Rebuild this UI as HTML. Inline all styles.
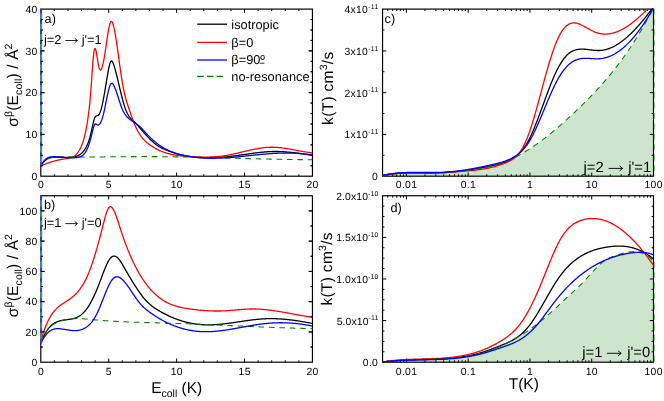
<!DOCTYPE html>
<html lang="en"><head><meta charset="utf-8"><title>Cross sections and rate coefficients</title>
<style>html,body{margin:0;padding:0;background:#fff;overflow:hidden}body{width:664px;height:401px;font-family:"Liberation Sans", sans-serif}svg{display:block}</style></head>
<body>
<svg width="664" height="401" viewBox="0 0 664 401" style="display:block" font-family="'Liberation Sans', sans-serif" text-rendering="geometricPrecision">
<rect width="664" height="401" fill="#fff"/>
<g id="all" opacity="0.999">
<defs>
<clipPath id="cpa"><rect x="40.0" y="8.5" width="273.65" height="168.29999999999998"/></clipPath>
<clipPath id="cpb"><rect x="40.0" y="195.15" width="273.65" height="167.64999999999998"/></clipPath>
<clipPath id="cpc"><rect x="381.75" y="8.5" width="272.95" height="168.29999999999998"/></clipPath>
<clipPath id="cpd"><rect x="381.75" y="195.15" width="272.95" height="167.64999999999998"/></clipPath>
</defs>
<rect x="40.8" y="9.1" width="271.65" height="167.1" fill="none" stroke="#000" stroke-width="1.2"/>
<path d="M108.71 176.2v-3.7M108.71 9.1v3.7M176.62 176.2v-3.7M176.62 9.1v3.7M244.54 176.2v-3.7M244.54 9.1v3.7M54.38 176.2v-1.9M54.38 9.1v1.9M67.97 176.2v-1.9M67.97 9.1v1.9M81.55 176.2v-1.9M81.55 9.1v1.9M95.13 176.2v-1.9M95.13 9.1v1.9M122.30 176.2v-1.9M122.30 9.1v1.9M135.88 176.2v-1.9M135.88 9.1v1.9M149.46 176.2v-1.9M149.46 9.1v1.9M163.04 176.2v-1.9M163.04 9.1v1.9M190.21 176.2v-1.9M190.21 9.1v1.9M203.79 176.2v-1.9M203.79 9.1v1.9M217.37 176.2v-1.9M217.37 9.1v1.9M230.95 176.2v-1.9M230.95 9.1v1.9M258.12 176.2v-1.9M258.12 9.1v1.9M271.70 176.2v-1.9M271.70 9.1v1.9M285.28 176.2v-1.9M285.28 9.1v1.9M298.87 176.2v-1.9M298.87 9.1v1.9M40.8 134.42h3.7M312.45 134.42h-3.7M40.8 92.65h3.7M312.45 92.65h-3.7M40.8 50.87h3.7M312.45 50.87h-3.7M40.8 165.76h1.9M312.45 165.76h-1.9M40.8 155.31h1.9M312.45 155.31h-1.9M40.8 144.87h1.9M312.45 144.87h-1.9M40.8 123.98h1.9M312.45 123.98h-1.9M40.8 113.54h1.9M312.45 113.54h-1.9M40.8 103.09h1.9M312.45 103.09h-1.9M40.8 82.21h1.9M312.45 82.21h-1.9M40.8 71.76h1.9M312.45 71.76h-1.9M40.8 61.32h1.9M312.45 61.32h-1.9M40.8 40.43h1.9M312.45 40.43h-1.9M40.8 29.99h1.9M312.45 29.99h-1.9M40.8 19.54h1.9M312.45 19.54h-1.9" stroke="#000" stroke-width="1.0" fill="none"/>
<g clip-path="url(#cpa)">
<path d="M40.80 165.99L41.30 165.18L41.80 164.42L42.30 163.71L42.80 163.05L43.30 162.43L43.80 161.86L44.30 161.33L44.80 160.84L45.30 160.39L45.80 159.98L46.30 159.60L46.80 159.26L47.30 158.95L47.80 158.67L48.30 158.43L48.80 158.21L49.30 158.01L49.80 157.84L50.30 157.70L50.80 157.57L51.30 157.47L51.80 157.38L52.30 157.31L52.80 157.26L53.30 157.22L53.80 157.19L54.30 157.17L54.80 157.16L55.30 157.16L55.80 157.16L56.30 157.16L56.80 157.17L57.30 157.18L57.80 157.20L58.30 157.21L58.80 157.23L59.30 157.25L59.80 157.27L60.30 157.30L60.80 157.32L61.30 157.34L61.80 157.37L62.30 157.39L62.80 157.41L63.30 157.43L63.80 157.45L64.30 157.46L64.80 157.48L65.30 157.49L65.80 157.50L66.30 157.50L66.80 157.50L67.30 157.50L67.80 157.49L68.30 157.48L68.80 157.46L69.30 157.43L69.80 157.40L70.30 157.36L70.80 157.32L71.30 157.27L71.80 157.21L72.30 157.14L72.80 157.07L73.30 156.98L73.80 156.89L74.30 156.79L74.80 156.68L75.30 156.55L75.80 156.42L76.30 156.26L76.80 156.09L77.30 155.91L77.80 155.69L78.30 155.46L78.80 155.20L79.30 154.91L79.80 154.60L80.30 154.25L80.80 153.86L81.30 153.45L81.80 152.99L82.30 152.49L82.80 151.95L83.30 151.37L83.80 150.74L84.30 150.06L84.80 149.33L85.30 148.55L85.80 147.71L86.30 146.80L86.80 145.81L87.30 144.73L87.80 143.55L88.30 142.26L88.80 140.85L89.30 139.31L89.80 137.63L90.30 135.80L90.80 133.80L91.30 131.64L91.80 129.36L92.30 127.03L92.80 124.74L93.30 122.58L93.80 120.63L94.30 118.97L94.80 117.69L95.30 116.82L95.80 116.28L96.30 115.98L96.80 115.83L97.30 115.73L97.80 115.59L98.30 115.32L98.80 114.82L99.30 114.07L99.80 113.07L100.30 111.83L100.80 110.35L101.30 108.64L101.80 106.71L102.30 104.57L102.80 102.23L103.30 99.71L103.80 97.04L104.30 94.24L104.80 91.35L105.30 88.39L105.80 85.39L106.30 82.38L106.80 79.38L107.30 76.41L107.80 73.52L108.30 70.73L108.80 68.13L109.30 65.80L109.80 63.85L110.30 62.36L110.80 61.41L111.30 61.00L111.80 61.05L112.30 61.52L112.80 62.35L113.30 63.48L113.80 64.86L114.30 66.42L114.80 68.13L115.30 69.92L115.80 71.78L116.30 73.72L116.80 75.71L117.30 77.74L117.80 79.82L118.30 81.92L118.80 84.03L119.30 86.16L119.80 88.28L120.30 90.38L120.80 92.47L121.30 94.52L121.80 96.53L122.30 98.48L122.80 100.38L123.30 102.20L123.80 103.93L124.30 105.58L124.80 107.12L125.30 108.56L125.80 109.88L126.30 111.09L126.80 112.21L127.30 113.23L127.80 114.17L128.30 115.04L128.80 115.83L129.30 116.56L129.80 117.23L130.30 117.86L130.80 118.44L131.30 118.98L131.80 119.50L132.30 119.99L132.80 120.47L133.30 120.94L133.80 121.41L134.30 121.88L134.80 122.37L135.30 122.87L135.80 123.39L136.30 123.92L136.80 124.46L137.30 125.01L137.80 125.57L138.30 126.13L138.80 126.70L139.30 127.27L139.80 127.84L140.30 128.41L140.80 128.99L141.30 129.56L141.80 130.13L142.30 130.71L142.80 131.28L143.30 131.85L143.80 132.42L144.30 132.98L144.80 133.54L145.30 134.10L145.80 134.66L146.30 135.21L146.80 135.76L147.30 136.30L147.80 136.84L148.30 137.37L148.80 137.90L149.30 138.42L149.80 138.93L150.30 139.43L150.80 139.93L151.30 140.41L151.80 140.89L152.30 141.36L152.80 141.82L153.30 142.27L153.80 142.71L154.30 143.14L154.80 143.55L155.30 143.96L155.80 144.35L156.30 144.73L156.80 145.09L157.30 145.44L157.80 145.78L158.30 146.11L158.80 146.42L159.30 146.73L159.80 147.02L160.30 147.30L160.80 147.57L161.30 147.83L161.80 148.08L162.30 148.33L162.80 148.56L163.30 148.80L163.80 149.02L164.30 149.24L164.80 149.45L165.30 149.66L165.80 149.87L166.30 150.07L166.80 150.27L167.30 150.47L167.80 150.66L168.30 150.85L168.80 151.04L169.30 151.22L169.80 151.40L170.30 151.58L170.80 151.76L171.30 151.93L171.80 152.10L172.30 152.27L172.80 152.43L173.30 152.59L173.80 152.75L174.30 152.91L174.80 153.06L175.30 153.21L175.80 153.36L176.30 153.50L176.80 153.64L177.30 153.78L177.80 153.92L178.30 154.05L178.80 154.18L179.30 154.31L179.80 154.44L180.30 154.56L180.80 154.68L181.30 154.80L181.80 154.92L182.30 155.03L182.80 155.14L183.30 155.25L183.80 155.35L184.30 155.46L184.80 155.56L185.30 155.65L185.80 155.75L186.30 155.84L186.80 155.93L187.30 156.02L187.80 156.11L188.30 156.19L188.80 156.27L189.30 156.35L189.80 156.43L190.30 156.50L190.80 156.57L191.30 156.64L191.80 156.71L192.30 156.78L192.80 156.84L193.30 156.90L193.80 156.96L194.30 157.01L194.80 157.07L195.30 157.12L195.80 157.17L196.30 157.22L196.80 157.27L197.30 157.31L197.80 157.35L198.30 157.39L198.80 157.43L199.30 157.46L199.80 157.50L200.30 157.53L200.80 157.56L201.30 157.59L201.80 157.61L202.30 157.64L202.80 157.66L203.30 157.68L203.80 157.70L204.30 157.72L204.80 157.73L205.30 157.74L205.80 157.75L206.30 157.76L206.80 157.77L207.30 157.78L207.80 157.78L208.30 157.78L208.80 157.78L209.30 157.78L209.80 157.78L210.30 157.78L210.80 157.77L211.30 157.76L211.80 157.75L212.30 157.74L212.80 157.73L213.30 157.72L213.80 157.70L214.30 157.68L214.80 157.67L215.30 157.65L215.80 157.62L216.30 157.60L216.80 157.58L217.30 157.55L217.80 157.52L218.30 157.50L218.80 157.47L219.30 157.43L219.80 157.40L220.30 157.37L220.80 157.33L221.30 157.30L221.80 157.26L222.30 157.22L222.80 157.18L223.30 157.14L223.80 157.09L224.30 157.05L224.80 157.01L225.30 156.96L225.80 156.91L226.30 156.86L226.80 156.81L227.30 156.76L227.80 156.71L228.30 156.66L228.80 156.60L229.30 156.55L229.80 156.49L230.30 156.44L230.80 156.38L231.30 156.32L231.80 156.26L232.30 156.20L232.80 156.14L233.30 156.07L233.80 156.01L234.30 155.94L234.80 155.88L235.30 155.81L235.80 155.75L236.30 155.68L236.80 155.61L237.30 155.54L237.80 155.47L238.30 155.40L238.80 155.33L239.30 155.26L239.80 155.19L240.30 155.12L240.80 155.04L241.30 154.97L241.80 154.90L242.30 154.82L242.80 154.75L243.30 154.68L243.80 154.60L244.30 154.53L244.80 154.46L245.30 154.38L245.80 154.31L246.30 154.24L246.80 154.16L247.30 154.09L247.80 154.02L248.30 153.94L248.80 153.87L249.30 153.80L249.80 153.73L250.30 153.66L250.80 153.59L251.30 153.52L251.80 153.45L252.30 153.38L252.80 153.31L253.30 153.24L253.80 153.17L254.30 153.11L254.80 153.04L255.30 152.97L255.80 152.91L256.30 152.85L256.80 152.78L257.30 152.72L257.80 152.66L258.30 152.60L258.80 152.54L259.30 152.49L259.80 152.43L260.30 152.38L260.80 152.32L261.30 152.27L261.80 152.22L262.30 152.17L262.80 152.12L263.30 152.07L263.80 152.03L264.30 151.98L264.80 151.94L265.30 151.90L265.80 151.86L266.30 151.83L266.80 151.79L267.30 151.76L267.80 151.72L268.30 151.69L268.80 151.66L269.30 151.64L269.80 151.61L270.30 151.59L270.80 151.57L271.30 151.55L271.80 151.54L272.30 151.52L272.80 151.51L273.30 151.50L273.80 151.49L274.30 151.49L274.80 151.48L275.30 151.48L275.80 151.48L276.30 151.49L276.80 151.49L277.30 151.50L277.80 151.51L278.30 151.52L278.80 151.54L279.30 151.55L279.80 151.57L280.30 151.59L280.80 151.61L281.30 151.63L281.80 151.66L282.30 151.69L282.80 151.71L283.30 151.74L283.80 151.77L284.30 151.81L284.80 151.84L285.30 151.88L285.80 151.92L286.30 151.95L286.80 151.99L287.30 152.04L287.80 152.08L288.30 152.12L288.80 152.17L289.30 152.22L289.80 152.26L290.30 152.31L290.80 152.36L291.30 152.41L291.80 152.46L292.30 152.52L292.80 152.57L293.30 152.63L293.80 152.68L294.30 152.74L294.80 152.79L295.30 152.85L295.80 152.91L296.30 152.97L296.80 153.03L297.30 153.09L297.80 153.15L298.30 153.21L298.80 153.27L299.30 153.34L299.80 153.40L300.30 153.46L300.80 153.52L301.30 153.59L301.80 153.65L302.30 153.72L302.80 153.78L303.30 153.84L303.80 153.91L304.30 153.97L304.80 154.04L305.30 154.10L305.80 154.17L306.30 154.23L306.80 154.30L307.30 154.36L307.80 154.42L308.30 154.49L308.80 154.55L309.30 154.61L309.80 154.68L310.30 154.74L310.80 154.80L311.30 154.86L311.80 154.92L312.30 154.98L312.45 155.00" fill="none" stroke="#000" stroke-width="1.3" stroke-linejoin="round"/>
<path d="M40.80 166.20L41.30 165.93L41.80 165.68L42.30 165.43L42.80 165.18L43.30 164.94L43.80 164.71L44.30 164.49L44.80 164.27L45.30 164.05L45.80 163.84L46.30 163.64L46.80 163.44L47.30 163.25L47.80 163.06L48.30 162.87L48.80 162.70L49.30 162.52L49.80 162.35L50.30 162.19L50.80 162.03L51.30 161.87L51.80 161.72L52.30 161.57L52.80 161.42L53.30 161.28L53.80 161.15L54.30 161.01L54.80 160.88L55.30 160.76L55.80 160.63L56.30 160.51L56.80 160.39L57.30 160.28L57.80 160.17L58.30 160.06L58.80 159.95L59.30 159.84L59.80 159.74L60.30 159.64L60.80 159.54L61.30 159.44L61.80 159.35L62.30 159.26L62.80 159.16L63.30 159.07L63.80 158.98L64.30 158.90L64.80 158.81L65.30 158.72L65.80 158.64L66.30 158.55L66.80 158.47L67.30 158.39L67.80 158.30L68.30 158.21L68.80 158.12L69.30 158.01L69.80 157.90L70.30 157.77L70.80 157.62L71.30 157.45L71.80 157.27L72.30 157.06L72.80 156.82L73.30 156.55L73.80 156.26L74.30 155.92L74.80 155.56L75.30 155.15L75.80 154.70L76.30 154.21L76.80 153.67L77.30 153.09L77.80 152.45L78.30 151.76L78.80 151.01L79.30 150.20L79.80 149.34L80.30 148.41L80.80 147.40L81.30 146.31L81.80 145.13L82.30 143.84L82.80 142.43L83.30 140.88L83.80 139.20L84.30 137.35L84.80 135.34L85.30 133.15L85.80 130.76L86.30 128.17L86.80 125.37L87.30 122.33L87.80 119.06L88.30 115.53L88.80 111.74L89.30 107.58L89.80 102.90L90.30 97.56L90.80 91.40L91.30 84.51L91.80 77.28L92.30 70.10L92.80 63.39L93.30 57.53L93.80 52.92L94.30 49.93L94.80 48.60L95.30 48.69L95.80 49.97L96.30 52.19L96.80 55.04L97.30 58.22L97.80 61.42L98.30 64.32L98.80 66.66L99.30 68.39L99.80 69.50L100.30 70.01L100.80 69.96L101.30 69.38L101.80 68.33L102.30 66.84L102.80 64.95L103.30 62.71L103.80 60.15L104.30 57.32L104.80 54.27L105.30 51.02L105.80 47.65L106.30 44.20L106.80 40.76L107.30 37.39L107.80 34.17L108.30 31.15L108.80 28.42L109.30 26.03L109.80 24.07L110.30 22.59L110.80 21.66L111.30 21.32L111.80 21.51L112.30 22.21L112.80 23.36L113.30 24.93L113.80 26.87L114.30 29.15L114.80 31.72L115.30 34.54L115.80 37.57L116.30 40.77L116.80 44.12L117.30 47.59L117.80 51.15L118.30 54.76L118.80 58.41L119.30 62.05L119.80 65.67L120.30 69.23L120.80 72.71L121.30 76.07L121.80 79.29L122.30 82.33L122.80 85.17L123.30 87.82L123.80 90.29L124.30 92.59L124.80 94.74L125.30 96.75L125.80 98.64L126.30 100.43L126.80 102.12L127.30 103.73L127.80 105.29L128.30 106.79L128.80 108.27L129.30 109.72L129.80 111.18L130.30 112.62L130.80 114.06L131.30 115.48L131.80 116.88L132.30 118.27L132.80 119.62L133.30 120.96L133.80 122.25L134.30 123.52L134.80 124.74L135.30 125.93L135.80 127.06L136.30 128.15L136.80 129.18L137.30 130.18L137.80 131.12L138.30 132.02L138.80 132.89L139.30 133.71L139.80 134.49L140.30 135.24L140.80 135.95L141.30 136.63L141.80 137.27L142.30 137.89L142.80 138.48L143.30 139.05L143.80 139.58L144.30 140.10L144.80 140.60L145.30 141.07L145.80 141.53L146.30 141.97L146.80 142.40L147.30 142.81L147.80 143.22L148.30 143.61L148.80 144.00L149.30 144.38L149.80 144.75L150.30 145.11L150.80 145.47L151.30 145.81L151.80 146.15L152.30 146.48L152.80 146.80L153.30 147.12L153.80 147.43L154.30 147.73L154.80 148.02L155.30 148.31L155.80 148.59L156.30 148.86L156.80 149.13L157.30 149.39L157.80 149.64L158.30 149.88L158.80 150.12L159.30 150.36L159.80 150.58L160.30 150.80L160.80 151.02L161.30 151.23L161.80 151.43L162.30 151.63L162.80 151.82L163.30 152.00L163.80 152.18L164.30 152.36L164.80 152.53L165.30 152.69L165.80 152.85L166.30 153.01L166.80 153.16L167.30 153.30L167.80 153.44L168.30 153.58L168.80 153.71L169.30 153.84L169.80 153.96L170.30 154.08L170.80 154.19L171.30 154.30L171.80 154.41L172.30 154.51L172.80 154.61L173.30 154.71L173.80 154.80L174.30 154.89L174.80 154.97L175.30 155.06L175.80 155.14L176.30 155.21L176.80 155.29L177.30 155.36L177.80 155.42L178.30 155.49L178.80 155.55L179.30 155.61L179.80 155.67L180.30 155.73L180.80 155.78L181.30 155.83L181.80 155.88L182.30 155.93L182.80 155.98L183.30 156.02L183.80 156.06L184.30 156.11L184.80 156.15L185.30 156.19L185.80 156.22L186.30 156.26L186.80 156.30L187.30 156.33L187.80 156.37L188.30 156.40L188.80 156.43L189.30 156.47L189.80 156.50L190.30 156.53L190.80 156.56L191.30 156.59L191.80 156.62L192.30 156.65L192.80 156.68L193.30 156.71L193.80 156.73L194.30 156.76L194.80 156.79L195.30 156.81L195.80 156.83L196.30 156.86L196.80 156.88L197.30 156.90L197.80 156.92L198.30 156.93L198.80 156.95L199.30 156.97L199.80 156.98L200.30 157.00L200.80 157.01L201.30 157.02L201.80 157.03L202.30 157.04L202.80 157.05L203.30 157.05L203.80 157.06L204.30 157.06L204.80 157.06L205.30 157.07L205.80 157.06L206.30 157.06L206.80 157.06L207.30 157.05L207.80 157.05L208.30 157.04L208.80 157.03L209.30 157.02L209.80 157.00L210.30 156.99L210.80 156.97L211.30 156.95L211.80 156.93L212.30 156.91L212.80 156.88L213.30 156.86L213.80 156.83L214.30 156.80L214.80 156.77L215.30 156.73L215.80 156.70L216.30 156.66L216.80 156.62L217.30 156.58L217.80 156.53L218.30 156.49L218.80 156.44L219.30 156.39L219.80 156.34L220.30 156.28L220.80 156.22L221.30 156.16L221.80 156.10L222.30 156.04L222.80 155.97L223.30 155.90L223.80 155.83L224.30 155.75L224.80 155.68L225.30 155.60L225.80 155.52L226.30 155.43L226.80 155.35L227.30 155.26L227.80 155.17L228.30 155.07L228.80 154.98L229.30 154.88L229.80 154.79L230.30 154.69L230.80 154.59L231.30 154.48L231.80 154.38L232.30 154.27L232.80 154.17L233.30 154.06L233.80 153.95L234.30 153.84L234.80 153.73L235.30 153.61L235.80 153.50L236.30 153.39L236.80 153.27L237.30 153.15L237.80 153.04L238.30 152.92L238.80 152.80L239.30 152.68L239.80 152.56L240.30 152.45L240.80 152.33L241.30 152.21L241.80 152.09L242.30 151.97L242.80 151.85L243.30 151.73L243.80 151.61L244.30 151.49L244.80 151.37L245.30 151.25L245.80 151.13L246.30 151.01L246.80 150.90L247.30 150.78L247.80 150.66L248.30 150.55L248.80 150.43L249.30 150.32L249.80 150.21L250.30 150.09L250.80 149.98L251.30 149.87L251.80 149.77L252.30 149.66L252.80 149.55L253.30 149.45L253.80 149.35L254.30 149.25L254.80 149.15L255.30 149.05L255.80 148.95L256.30 148.86L256.80 148.77L257.30 148.68L257.80 148.59L258.30 148.50L258.80 148.42L259.30 148.34L259.80 148.26L260.30 148.18L260.80 148.11L261.30 148.03L261.80 147.96L262.30 147.90L262.80 147.83L263.30 147.77L263.80 147.71L264.30 147.66L264.80 147.61L265.30 147.56L265.80 147.51L266.30 147.47L266.80 147.43L267.30 147.39L267.80 147.36L268.30 147.33L268.80 147.30L269.30 147.28L269.80 147.26L270.30 147.25L270.80 147.24L271.30 147.23L271.80 147.23L272.30 147.23L272.80 147.23L273.30 147.24L273.80 147.25L274.30 147.27L274.80 147.29L275.30 147.31L275.80 147.34L276.30 147.37L276.80 147.40L277.30 147.44L277.80 147.48L278.30 147.52L278.80 147.56L279.30 147.61L279.80 147.66L280.30 147.72L280.80 147.77L281.30 147.83L281.80 147.89L282.30 147.95L282.80 148.02L283.30 148.09L283.80 148.15L284.30 148.23L284.80 148.30L285.30 148.37L285.80 148.45L286.30 148.53L286.80 148.61L287.30 148.69L287.80 148.77L288.30 148.86L288.80 148.94L289.30 149.03L289.80 149.11L290.30 149.20L290.80 149.29L291.30 149.38L291.80 149.47L292.30 149.56L292.80 149.66L293.30 149.75L293.80 149.84L294.30 149.93L294.80 150.03L295.30 150.12L295.80 150.21L296.30 150.31L296.80 150.40L297.30 150.49L297.80 150.59L298.30 150.68L298.80 150.77L299.30 150.86L299.80 150.95L300.30 151.04L300.80 151.13L301.30 151.22L301.80 151.31L302.30 151.40L302.80 151.48L303.30 151.57L303.80 151.65L304.30 151.73L304.80 151.81L305.30 151.89L305.80 151.97L306.30 152.04L306.80 152.12L307.30 152.19L307.80 152.26L308.30 152.32L308.80 152.39L309.30 152.45L309.80 152.52L310.30 152.57L310.80 152.63L311.30 152.68L311.80 152.74L312.30 152.78L312.45 152.80" fill="none" stroke="#ff0000" stroke-width="1.3" stroke-linejoin="round"/>
<path d="M40.80 165.98L41.30 165.07L41.80 164.25L42.30 163.50L42.80 162.82L43.30 162.20L43.80 161.64L44.30 161.14L44.80 160.70L45.30 160.30L45.80 159.94L46.30 159.63L46.80 159.34L47.30 159.09L47.80 158.87L48.30 158.66L48.80 158.48L49.30 158.30L49.80 158.14L50.30 157.99L50.80 157.85L51.30 157.72L51.80 157.60L52.30 157.48L52.80 157.38L53.30 157.29L53.80 157.20L54.30 157.12L54.80 157.05L55.30 156.99L55.80 156.93L56.30 156.88L56.80 156.84L57.30 156.80L57.80 156.77L58.30 156.75L58.80 156.72L59.30 156.71L59.80 156.69L60.30 156.68L60.80 156.68L61.30 156.68L61.80 156.68L62.30 156.68L62.80 156.69L63.30 156.69L63.80 156.70L64.30 156.71L64.80 156.72L65.30 156.73L65.80 156.75L66.30 156.76L66.80 156.77L67.30 156.78L67.80 156.79L68.30 156.80L68.80 156.81L69.30 156.82L69.80 156.83L70.30 156.84L70.80 156.84L71.30 156.85L71.80 156.86L72.30 156.87L72.80 156.88L73.30 156.88L73.80 156.89L74.30 156.90L74.80 156.90L75.30 156.91L75.80 156.91L76.30 156.92L76.80 156.92L77.30 156.93L77.80 156.93L78.30 156.94L78.80 156.94L79.30 156.94L79.80 156.95L80.30 156.95L80.80 156.95L81.30 156.96L81.80 156.96L82.30 156.96L82.80 156.96L83.30 156.97L83.80 156.97L84.30 156.97L84.80 156.97L85.30 156.97L85.80 156.97L86.30 156.97L86.80 156.97L87.30 156.97L87.80 156.97L88.30 156.97L88.80 156.97L89.30 156.97L89.80 156.97L90.30 156.97L90.80 156.97L91.30 156.97L91.80 156.97L92.30 156.97L92.80 156.97L93.30 156.96L93.80 156.96L94.30 156.96L94.80 156.96L95.30 156.96L95.80 156.95L96.30 156.95L96.80 156.95L97.30 156.95L97.80 156.94L98.30 156.94L98.80 156.94L99.30 156.93L99.80 156.93L100.30 156.93L100.80 156.92L101.30 156.92L101.80 156.91L102.30 156.91L102.80 156.91L103.30 156.90L103.80 156.90L104.30 156.89L104.80 156.89L105.30 156.89L105.80 156.88L106.30 156.88L106.80 156.87L107.30 156.87L107.80 156.86L108.30 156.86L108.80 156.85L109.30 156.85L109.80 156.84L110.30 156.84L110.80 156.83L111.30 156.83L111.80 156.82L112.30 156.82L112.80 156.81L113.30 156.81L113.80 156.80L114.30 156.80L114.80 156.79L115.30 156.79L115.80 156.78L116.30 156.78L116.80 156.77L117.30 156.77L117.80 156.76L118.30 156.76L118.80 156.75L119.30 156.75L119.80 156.74L120.30 156.74L120.80 156.73L121.30 156.73L121.80 156.72L122.30 156.72L122.80 156.71L123.30 156.71L123.80 156.70L124.30 156.70L124.80 156.69L125.30 156.69L125.80 156.68L126.30 156.68L126.80 156.67L127.30 156.67L127.80 156.67L128.30 156.66L128.80 156.66L129.30 156.65L129.80 156.65L130.30 156.65L130.80 156.64L131.30 156.64L131.80 156.63L132.30 156.63L132.80 156.63L133.30 156.62L133.80 156.62L134.30 156.62L134.80 156.62L135.30 156.61L135.80 156.61L136.30 156.61L136.80 156.61L137.30 156.60L137.80 156.60L138.30 156.60L138.80 156.60L139.30 156.60L139.80 156.59L140.30 156.59L140.80 156.59L141.30 156.59L141.80 156.59L142.30 156.59L142.80 156.59L143.30 156.59L143.80 156.59L144.30 156.59L144.80 156.59L145.30 156.59L145.80 156.59L146.30 156.59L146.80 156.59L147.30 156.59L147.80 156.59L148.30 156.59L148.80 156.60L149.30 156.60L149.80 156.60L150.30 156.60L150.80 156.60L151.30 156.60L151.80 156.61L152.30 156.61L152.80 156.61L153.30 156.61L153.80 156.62L154.30 156.62L154.80 156.62L155.30 156.63L155.80 156.63L156.30 156.63L156.80 156.64L157.30 156.64L157.80 156.64L158.30 156.65L158.80 156.65L159.30 156.66L159.80 156.66L160.30 156.66L160.80 156.67L161.30 156.67L161.80 156.68L162.30 156.68L162.80 156.69L163.30 156.69L163.80 156.70L164.30 156.71L164.80 156.71L165.30 156.72L165.80 156.72L166.30 156.73L166.80 156.73L167.30 156.74L167.80 156.75L168.30 156.75L168.80 156.76L169.30 156.77L169.80 156.77L170.30 156.78L170.80 156.79L171.30 156.79L171.80 156.80L172.30 156.81L172.80 156.81L173.30 156.82L173.80 156.83L174.30 156.84L174.80 156.85L175.30 156.85L175.80 156.86L176.30 156.87L176.80 156.88L177.30 156.89L177.80 156.89L178.30 156.90L178.80 156.91L179.30 156.92L179.80 156.93L180.30 156.94L180.80 156.95L181.30 156.95L181.80 156.96L182.30 156.97L182.80 156.98L183.30 156.99L183.80 157.00L184.30 157.01L184.80 157.02L185.30 157.03L185.80 157.04L186.30 157.05L186.80 157.06L187.30 157.07L187.80 157.08L188.30 157.09L188.80 157.10L189.30 157.11L189.80 157.12L190.30 157.13L190.80 157.14L191.30 157.15L191.80 157.16L192.30 157.17L192.80 157.18L193.30 157.19L193.80 157.21L194.30 157.22L194.80 157.23L195.30 157.24L195.80 157.25L196.30 157.26L196.80 157.27L197.30 157.28L197.80 157.29L198.30 157.31L198.80 157.32L199.30 157.33L199.80 157.34L200.30 157.35L200.80 157.36L201.30 157.38L201.80 157.39L202.30 157.40L202.80 157.41L203.30 157.42L203.80 157.44L204.30 157.45L204.80 157.46L205.30 157.47L205.80 157.48L206.30 157.50L206.80 157.51L207.30 157.52L207.80 157.53L208.30 157.55L208.80 157.56L209.30 157.57L209.80 157.58L210.30 157.60L210.80 157.61L211.30 157.62L211.80 157.64L212.30 157.65L212.80 157.66L213.30 157.67L213.80 157.69L214.30 157.70L214.80 157.71L215.30 157.73L215.80 157.74L216.30 157.75L216.80 157.76L217.30 157.78L217.80 157.79L218.30 157.80L218.80 157.82L219.30 157.83L219.80 157.84L220.30 157.86L220.80 157.87L221.30 157.88L221.80 157.90L222.30 157.91L222.80 157.92L223.30 157.94L223.80 157.95L224.30 157.96L224.80 157.98L225.30 157.99L225.80 158.00L226.30 158.02L226.80 158.03L227.30 158.04L227.80 158.06L228.30 158.07L228.80 158.08L229.30 158.10L229.80 158.11L230.30 158.12L230.80 158.14L231.30 158.15L231.80 158.16L232.30 158.18L232.80 158.19L233.30 158.20L233.80 158.22L234.30 158.23L234.80 158.24L235.30 158.26L235.80 158.27L236.30 158.28L236.80 158.30L237.30 158.31L237.80 158.32L238.30 158.34L238.80 158.35L239.30 158.36L239.80 158.38L240.30 158.39L240.80 158.40L241.30 158.42L241.80 158.43L242.30 158.44L242.80 158.46L243.30 158.47L243.80 158.48L244.30 158.50L244.80 158.51L245.30 158.52L245.80 158.54L246.30 158.55L246.80 158.56L247.30 158.58L247.80 158.59L248.30 158.60L248.80 158.61L249.30 158.63L249.80 158.64L250.30 158.65L250.80 158.67L251.30 158.68L251.80 158.69L252.30 158.70L252.80 158.72L253.30 158.73L253.80 158.74L254.30 158.75L254.80 158.77L255.30 158.78L255.80 158.79L256.30 158.80L256.80 158.82L257.30 158.83L257.80 158.84L258.30 158.85L258.80 158.87L259.30 158.88L259.80 158.89L260.30 158.90L260.80 158.91L261.30 158.93L261.80 158.94L262.30 158.95L262.80 158.96L263.30 158.97L263.80 158.98L264.30 159.00L264.80 159.01L265.30 159.02L265.80 159.03L266.30 159.04L266.80 159.05L267.30 159.06L267.80 159.08L268.30 159.09L268.80 159.10L269.30 159.11L269.80 159.12L270.30 159.13L270.80 159.14L271.30 159.15L271.80 159.16L272.30 159.17L272.80 159.18L273.30 159.19L273.80 159.20L274.30 159.21L274.80 159.22L275.30 159.23L275.80 159.24L276.30 159.25L276.80 159.26L277.30 159.27L277.80 159.28L278.30 159.29L278.80 159.30L279.30 159.31L279.80 159.32L280.30 159.33L280.80 159.34L281.30 159.35L281.80 159.36L282.30 159.37L282.80 159.38L283.30 159.38L283.80 159.39L284.30 159.40L284.80 159.41L285.30 159.42L285.80 159.43L286.30 159.44L286.80 159.44L287.30 159.45L287.80 159.46L288.30 159.47L288.80 159.47L289.30 159.48L289.80 159.49L290.30 159.50L290.80 159.50L291.30 159.51L291.80 159.52L292.30 159.53L292.80 159.53L293.30 159.54L293.80 159.55L294.30 159.55L294.80 159.56L295.30 159.57L295.80 159.57L296.30 159.58L296.80 159.58L297.30 159.59L297.80 159.60L298.30 159.60L298.80 159.61L299.30 159.61L299.80 159.62L300.30 159.62L300.80 159.63L301.30 159.63L301.80 159.64L302.30 159.64L302.80 159.65L303.30 159.65L303.80 159.65L304.30 159.66L304.80 159.66L305.30 159.67L305.80 159.67L306.30 159.67L306.80 159.68L307.30 159.68L307.80 159.68L308.30 159.69L308.80 159.69L309.30 159.69L309.80 159.70L310.30 159.70L310.80 159.70L311.30 159.70L311.80 159.71L312.30 159.71L312.45 159.71" fill="none" stroke="#008000" stroke-width="1.05" stroke-linejoin="round" stroke-dasharray="5.7 4.7"/>
<path d="M40.80 165.99L41.30 165.02L41.80 164.11L42.30 163.28L42.80 162.51L43.30 161.80L43.80 161.16L44.30 160.57L44.80 160.03L45.30 159.55L45.80 159.12L46.30 158.73L46.80 158.39L47.30 158.09L47.80 157.83L48.30 157.60L48.80 157.41L49.30 157.25L49.80 157.11L50.30 157.01L50.80 156.92L51.30 156.85L51.80 156.81L52.30 156.77L52.80 156.75L53.30 156.74L53.80 156.74L54.30 156.74L54.80 156.75L55.30 156.76L55.80 156.77L56.30 156.79L56.80 156.82L57.30 156.85L57.80 156.88L58.30 156.91L58.80 156.95L59.30 156.99L59.80 157.03L60.30 157.08L60.80 157.12L61.30 157.17L61.80 157.22L62.30 157.26L62.80 157.31L63.30 157.36L63.80 157.41L64.30 157.45L64.80 157.50L65.30 157.55L65.80 157.59L66.30 157.63L66.80 157.67L67.30 157.71L67.80 157.74L68.30 157.77L68.80 157.80L69.30 157.82L69.80 157.84L70.30 157.86L70.80 157.87L71.30 157.87L71.80 157.87L72.30 157.86L72.80 157.85L73.30 157.83L73.80 157.81L74.30 157.78L74.80 157.74L75.30 157.69L75.80 157.64L76.30 157.58L76.80 157.50L77.30 157.43L77.80 157.34L78.30 157.24L78.80 157.13L79.30 157.00L79.80 156.85L80.30 156.67L80.80 156.46L81.30 156.22L81.80 155.93L82.30 155.60L82.80 155.21L83.30 154.77L83.80 154.27L84.30 153.70L84.80 153.07L85.30 152.35L85.80 151.56L86.30 150.68L86.80 149.71L87.30 148.65L87.80 147.49L88.30 146.22L88.80 144.85L89.30 143.36L89.80 141.75L90.30 140.01L90.80 138.15L91.30 136.16L91.80 134.08L92.30 132.00L92.80 129.99L93.30 128.14L93.80 126.53L94.30 125.23L94.80 124.34L95.30 123.91L95.80 123.90L96.30 124.17L96.80 124.54L97.30 124.88L97.80 125.06L98.30 125.04L98.80 124.84L99.30 124.45L99.80 123.87L100.30 123.11L100.80 122.16L101.30 121.03L101.80 119.72L102.30 118.22L102.80 116.54L103.30 114.69L103.80 112.65L104.30 110.45L104.80 108.12L105.30 105.69L105.80 103.21L106.30 100.72L106.80 98.24L107.30 95.84L107.80 93.53L108.30 91.36L108.80 89.38L109.30 87.61L109.80 86.10L110.30 84.88L110.80 84.00L111.30 83.49L111.80 83.31L112.30 83.43L112.80 83.83L113.30 84.46L113.80 85.30L114.30 86.31L114.80 87.44L115.30 88.69L115.80 90.02L116.30 91.43L116.80 92.91L117.30 94.43L117.80 95.98L118.30 97.56L118.80 99.14L119.30 100.71L119.80 102.26L120.30 103.78L120.80 105.25L121.30 106.66L121.80 107.98L122.30 109.22L122.80 110.36L123.30 111.40L123.80 112.35L124.30 113.21L124.80 114.00L125.30 114.73L125.80 115.39L126.30 116.00L126.80 116.57L127.30 117.09L127.80 117.59L128.30 118.06L128.80 118.51L129.30 118.93L129.80 119.34L130.30 119.73L130.80 120.10L131.30 120.46L131.80 120.81L132.30 121.16L132.80 121.49L133.30 121.82L133.80 122.15L134.30 122.47L134.80 122.80L135.30 123.13L135.80 123.46L136.30 123.81L136.80 124.16L137.30 124.52L137.80 124.90L138.30 125.29L138.80 125.70L139.30 126.13L139.80 126.58L140.30 127.05L140.80 127.53L141.30 128.03L141.80 128.54L142.30 129.06L142.80 129.59L143.30 130.13L143.80 130.67L144.30 131.22L144.80 131.78L145.30 132.33L145.80 132.89L146.30 133.44L146.80 133.99L147.30 134.53L147.80 135.07L148.30 135.60L148.80 136.12L149.30 136.63L149.80 137.14L150.30 137.63L150.80 138.12L151.30 138.60L151.80 139.06L152.30 139.52L152.80 139.98L153.30 140.42L153.80 140.86L154.30 141.29L154.80 141.71L155.30 142.12L155.80 142.52L156.30 142.92L156.80 143.31L157.30 143.69L157.80 144.07L158.30 144.43L158.80 144.79L159.30 145.15L159.80 145.49L160.30 145.83L160.80 146.16L161.30 146.49L161.80 146.81L162.30 147.12L162.80 147.42L163.30 147.72L163.80 148.02L164.30 148.30L164.80 148.58L165.30 148.86L165.80 149.12L166.30 149.39L166.80 149.64L167.30 149.89L167.80 150.14L168.30 150.38L168.80 150.61L169.30 150.84L169.80 151.06L170.30 151.28L170.80 151.49L171.30 151.70L171.80 151.90L172.30 152.10L172.80 152.29L173.30 152.48L173.80 152.66L174.30 152.84L174.80 153.02L175.30 153.19L175.80 153.35L176.30 153.51L176.80 153.67L177.30 153.82L177.80 153.97L178.30 154.12L178.80 154.26L179.30 154.40L179.80 154.53L180.30 154.66L180.80 154.79L181.30 154.91L181.80 155.03L182.30 155.15L182.80 155.26L183.30 155.38L183.80 155.48L184.30 155.59L184.80 155.69L185.30 155.79L185.80 155.89L186.30 155.98L186.80 156.08L187.30 156.17L187.80 156.25L188.30 156.34L188.80 156.42L189.30 156.50L189.80 156.58L190.30 156.66L190.80 156.73L191.30 156.81L191.80 156.88L192.30 156.95L192.80 157.02L193.30 157.08L193.80 157.14L194.30 157.21L194.80 157.26L195.30 157.32L195.80 157.38L196.30 157.43L196.80 157.48L197.30 157.53L197.80 157.58L198.30 157.63L198.80 157.67L199.30 157.72L199.80 157.76L200.30 157.80L200.80 157.83L201.30 157.87L201.80 157.90L202.30 157.94L202.80 157.97L203.30 158.00L203.80 158.02L204.30 158.05L204.80 158.07L205.30 158.10L205.80 158.12L206.30 158.14L206.80 158.15L207.30 158.17L207.80 158.18L208.30 158.20L208.80 158.21L209.30 158.22L209.80 158.23L210.30 158.24L210.80 158.24L211.30 158.25L211.80 158.25L212.30 158.25L212.80 158.25L213.30 158.25L213.80 158.25L214.30 158.24L214.80 158.24L215.30 158.23L215.80 158.22L216.30 158.21L216.80 158.20L217.30 158.19L217.80 158.18L218.30 158.16L218.80 158.15L219.30 158.13L219.80 158.11L220.30 158.09L220.80 158.07L221.30 158.05L221.80 158.03L222.30 158.01L222.80 157.98L223.30 157.96L223.80 157.93L224.30 157.90L224.80 157.87L225.30 157.84L225.80 157.81L226.30 157.78L226.80 157.75L227.30 157.71L227.80 157.68L228.30 157.64L228.80 157.61L229.30 157.57L229.80 157.53L230.30 157.50L230.80 157.46L231.30 157.42L231.80 157.38L232.30 157.33L232.80 157.29L233.30 157.25L233.80 157.21L234.30 157.16L234.80 157.12L235.30 157.07L235.80 157.03L236.30 156.98L236.80 156.93L237.30 156.89L237.80 156.84L238.30 156.79L238.80 156.74L239.30 156.69L239.80 156.64L240.30 156.59L240.80 156.54L241.30 156.49L241.80 156.44L242.30 156.39L242.80 156.34L243.30 156.29L243.80 156.23L244.30 156.18L244.80 156.13L245.30 156.08L245.80 156.02L246.30 155.97L246.80 155.92L247.30 155.87L247.80 155.81L248.30 155.76L248.80 155.70L249.30 155.65L249.80 155.60L250.30 155.54L250.80 155.49L251.30 155.44L251.80 155.38L252.30 155.33L252.80 155.28L253.30 155.23L253.80 155.17L254.30 155.12L254.80 155.07L255.30 155.02L255.80 154.96L256.30 154.91L256.80 154.86L257.30 154.81L257.80 154.76L258.30 154.71L258.80 154.66L259.30 154.61L259.80 154.56L260.30 154.51L260.80 154.46L261.30 154.41L261.80 154.36L262.30 154.32L262.80 154.27L263.30 154.22L263.80 154.18L264.30 154.13L264.80 154.09L265.30 154.05L265.80 154.00L266.30 153.96L266.80 153.92L267.30 153.88L267.80 153.84L268.30 153.80L268.80 153.76L269.30 153.72L269.80 153.68L270.30 153.65L270.80 153.61L271.30 153.58L271.80 153.54L272.30 153.51L272.80 153.48L273.30 153.44L273.80 153.41L274.30 153.38L274.80 153.36L275.30 153.33L275.80 153.30L276.30 153.28L276.80 153.25L277.30 153.23L277.80 153.21L278.30 153.19L278.80 153.17L279.30 153.15L279.80 153.13L280.30 153.11L280.80 153.10L281.30 153.08L281.80 153.07L282.30 153.06L282.80 153.05L283.30 153.04L283.80 153.03L284.30 153.03L284.80 153.02L285.30 153.02L285.80 153.02L286.30 153.02L286.80 153.02L287.30 153.02L287.80 153.03L288.30 153.03L288.80 153.04L289.30 153.05L289.80 153.06L290.30 153.07L290.80 153.08L291.30 153.10L291.80 153.12L292.30 153.13L292.80 153.15L293.30 153.18L293.80 153.20L294.30 153.23L294.80 153.25L295.30 153.28L295.80 153.31L296.30 153.35L296.80 153.38L297.30 153.42L297.80 153.46L298.30 153.50L298.80 153.54L299.30 153.58L299.80 153.63L300.30 153.68L300.80 153.73L301.30 153.78L301.80 153.83L302.30 153.89L302.80 153.95L303.30 154.01L303.80 154.07L304.30 154.14L304.80 154.20L305.30 154.27L305.80 154.34L306.30 154.42L306.80 154.49L307.30 154.57L307.80 154.65L308.30 154.73L308.80 154.82L309.30 154.91L309.80 155.00L310.30 155.09L310.80 155.18L311.30 155.28L311.80 155.38L312.30 155.48L312.45 155.51" fill="none" stroke="#0000ff" stroke-width="1.3" stroke-linejoin="round"/>
<path d="M41.15 8.5V166.3" stroke="#3838ff" stroke-width="1.9" fill="none"/>
<path d="M41.15 13.5V166.3" stroke="#4a9c4a" stroke-width="1.9" stroke-dasharray="6.3 3.9" fill="none"/>
</g>
<path d="M40.8 134.42h3.7M312.45 134.42h-3.7M40.8 92.65h3.7M312.45 92.65h-3.7M40.8 50.87h3.7M312.45 50.87h-3.7M40.8 165.76h1.9M312.45 165.76h-1.9M40.8 155.31h1.9M312.45 155.31h-1.9M40.8 144.87h1.9M312.45 144.87h-1.9M40.8 123.98h1.9M312.45 123.98h-1.9M40.8 113.54h1.9M312.45 113.54h-1.9M40.8 103.09h1.9M312.45 103.09h-1.9M40.8 82.21h1.9M312.45 82.21h-1.9M40.8 71.76h1.9M312.45 71.76h-1.9M40.8 61.32h1.9M312.45 61.32h-1.9M40.8 40.43h1.9M312.45 40.43h-1.9M40.8 29.99h1.9M312.45 29.99h-1.9M40.8 19.54h1.9M312.45 19.54h-1.9" stroke="#000" stroke-width="1.0" fill="none"/>
<rect x="40.8" y="195.75" width="271.65" height="166.45" fill="none" stroke="#000" stroke-width="1.2"/>
<path d="M108.71 362.2v-3.7M108.71 195.75v3.7M176.62 362.2v-3.7M176.62 195.75v3.7M244.54 362.2v-3.7M244.54 195.75v3.7M54.38 362.2v-1.9M54.38 195.75v1.9M67.97 362.2v-1.9M67.97 195.75v1.9M81.55 362.2v-1.9M81.55 195.75v1.9M95.13 362.2v-1.9M95.13 195.75v1.9M122.30 362.2v-1.9M122.30 195.75v1.9M135.88 362.2v-1.9M135.88 195.75v1.9M149.46 362.2v-1.9M149.46 195.75v1.9M163.04 362.2v-1.9M163.04 195.75v1.9M190.21 362.2v-1.9M190.21 195.75v1.9M203.79 362.2v-1.9M203.79 195.75v1.9M217.37 362.2v-1.9M217.37 195.75v1.9M230.95 362.2v-1.9M230.95 195.75v1.9M258.12 362.2v-1.9M258.12 195.75v1.9M271.70 362.2v-1.9M271.70 195.75v1.9M285.28 362.2v-1.9M285.28 195.75v1.9M298.87 362.2v-1.9M298.87 195.75v1.9M40.8 331.94h3.7M312.45 331.94h-3.7M40.8 301.67h3.7M312.45 301.67h-3.7M40.8 271.41h3.7M312.45 271.41h-3.7M40.8 241.15h3.7M312.45 241.15h-3.7M40.8 210.88h3.7M312.45 210.88h-3.7M40.8 347.07h1.9M312.45 347.07h-1.9M40.8 316.80h1.9M312.45 316.80h-1.9M40.8 286.54h1.9M312.45 286.54h-1.9M40.8 256.28h1.9M312.45 256.28h-1.9M40.8 226.01h1.9M312.45 226.01h-1.9" stroke="#000" stroke-width="1.0" fill="none"/>
<g clip-path="url(#cpb)">
<path d="M40.80 342.29L41.30 341.10L41.80 339.95L42.30 338.85L42.80 337.79L43.30 336.77L43.80 335.80L44.30 334.86L44.80 333.96L45.30 333.11L45.80 332.29L46.30 331.50L46.80 330.75L47.30 330.04L47.80 329.36L48.30 328.72L48.80 328.10L49.30 327.52L49.80 326.97L50.30 326.45L50.80 325.95L51.30 325.49L51.80 325.05L52.30 324.63L52.80 324.24L53.30 323.88L53.80 323.53L54.30 323.21L54.80 322.91L55.30 322.63L55.80 322.37L56.30 322.13L56.80 321.91L57.30 321.70L57.80 321.51L58.30 321.33L58.80 321.16L59.30 321.01L59.80 320.87L60.30 320.74L60.80 320.63L61.30 320.52L61.80 320.42L62.30 320.32L62.80 320.24L63.30 320.15L63.80 320.08L64.30 320.00L64.80 319.93L65.30 319.87L65.80 319.80L66.30 319.74L66.80 319.68L67.30 319.61L67.80 319.55L68.30 319.48L68.80 319.41L69.30 319.34L69.80 319.26L70.30 319.18L70.80 319.09L71.30 319.00L71.80 318.89L72.30 318.79L72.80 318.67L73.30 318.54L73.80 318.40L74.30 318.26L74.80 318.10L75.30 317.92L75.80 317.74L76.30 317.54L76.80 317.33L77.30 317.10L77.80 316.85L78.30 316.59L78.80 316.31L79.30 316.01L79.80 315.69L80.30 315.36L80.80 315.00L81.30 314.62L81.80 314.22L82.30 313.79L82.80 313.35L83.30 312.87L83.80 312.38L84.30 311.85L84.80 311.30L85.30 310.73L85.80 310.12L86.30 309.49L86.80 308.82L87.30 308.13L87.80 307.40L88.30 306.65L88.80 305.86L89.30 305.05L89.80 304.21L90.30 303.34L90.80 302.44L91.30 301.51L91.80 300.56L92.30 299.58L92.80 298.58L93.30 297.55L93.80 296.50L94.30 295.42L94.80 294.32L95.30 293.19L95.80 292.05L96.30 290.88L96.80 289.69L97.30 288.47L97.80 287.24L98.30 285.99L98.80 284.71L99.30 283.42L99.80 282.11L100.30 280.78L100.80 279.45L101.30 278.11L101.80 276.76L102.30 275.42L102.80 274.09L103.30 272.78L103.80 271.48L104.30 270.20L104.80 268.95L105.30 267.73L105.80 266.55L106.30 265.40L106.80 264.31L107.30 263.26L107.80 262.27L108.30 261.34L108.80 260.47L109.30 259.67L109.80 258.95L110.30 258.30L110.80 257.74L111.30 257.26L111.80 256.86L112.30 256.54L112.80 256.30L113.30 256.14L113.80 256.06L114.30 256.05L114.80 256.12L115.30 256.26L115.80 256.47L116.30 256.75L116.80 257.09L117.30 257.51L117.80 257.98L118.30 258.51L118.80 259.09L119.30 259.72L119.80 260.39L120.30 261.10L120.80 261.85L121.30 262.63L121.80 263.44L122.30 264.26L122.80 265.11L123.30 265.97L123.80 266.84L124.30 267.72L124.80 268.60L125.30 269.48L125.80 270.35L126.30 271.22L126.80 272.08L127.30 272.95L127.80 273.80L128.30 274.66L128.80 275.51L129.30 276.35L129.80 277.20L130.30 278.03L130.80 278.87L131.30 279.70L131.80 280.52L132.30 281.34L132.80 282.16L133.30 282.97L133.80 283.77L134.30 284.57L134.80 285.37L135.30 286.15L135.80 286.93L136.30 287.70L136.80 288.47L137.30 289.22L137.80 289.97L138.30 290.71L138.80 291.44L139.30 292.15L139.80 292.86L140.30 293.56L140.80 294.24L141.30 294.91L141.80 295.58L142.30 296.22L142.80 296.86L143.30 297.48L143.80 298.09L144.30 298.68L144.80 299.26L145.30 299.82L145.80 300.37L146.30 300.90L146.80 301.42L147.30 301.93L147.80 302.42L148.30 302.90L148.80 303.36L149.30 303.81L149.80 304.26L150.30 304.69L150.80 305.10L151.30 305.51L151.80 305.91L152.30 306.30L152.80 306.68L153.30 307.05L153.80 307.41L154.30 307.76L154.80 308.11L155.30 308.44L155.80 308.77L156.30 309.10L156.80 309.42L157.30 309.73L157.80 310.04L158.30 310.34L158.80 310.64L159.30 310.93L159.80 311.22L160.30 311.51L160.80 311.79L161.30 312.07L161.80 312.35L162.30 312.62L162.80 312.89L163.30 313.16L163.80 313.42L164.30 313.69L164.80 313.95L165.30 314.20L165.80 314.45L166.30 314.70L166.80 314.95L167.30 315.19L167.80 315.43L168.30 315.67L168.80 315.90L169.30 316.14L169.80 316.36L170.30 316.59L170.80 316.81L171.30 317.03L171.80 317.25L172.30 317.46L172.80 317.67L173.30 317.87L173.80 318.08L174.30 318.28L174.80 318.48L175.30 318.67L175.80 318.86L176.30 319.05L176.80 319.24L177.30 319.42L177.80 319.60L178.30 319.77L178.80 319.95L179.30 320.12L179.80 320.29L180.30 320.45L180.80 320.61L181.30 320.77L181.80 320.92L182.30 321.08L182.80 321.23L183.30 321.37L183.80 321.51L184.30 321.65L184.80 321.79L185.30 321.93L185.80 322.06L186.30 322.18L186.80 322.31L187.30 322.43L187.80 322.55L188.30 322.67L188.80 322.78L189.30 322.89L189.80 323.00L190.30 323.10L190.80 323.20L191.30 323.30L191.80 323.40L192.30 323.49L192.80 323.58L193.30 323.66L193.80 323.75L194.30 323.83L194.80 323.90L195.30 323.98L195.80 324.05L196.30 324.12L196.80 324.18L197.30 324.25L197.80 324.31L198.30 324.36L198.80 324.42L199.30 324.47L199.80 324.51L200.30 324.56L200.80 324.60L201.30 324.64L201.80 324.67L202.30 324.71L202.80 324.74L203.30 324.76L203.80 324.79L204.30 324.81L204.80 324.83L205.30 324.84L205.80 324.86L206.30 324.87L206.80 324.88L207.30 324.88L207.80 324.89L208.30 324.89L208.80 324.89L209.30 324.88L209.80 324.87L210.30 324.87L210.80 324.85L211.30 324.84L211.80 324.83L212.30 324.81L212.80 324.79L213.30 324.77L213.80 324.74L214.30 324.72L214.80 324.69L215.30 324.66L215.80 324.63L216.30 324.59L216.80 324.56L217.30 324.52L217.80 324.48L218.30 324.44L218.80 324.40L219.30 324.36L219.80 324.31L220.30 324.27L220.80 324.22L221.30 324.17L221.80 324.12L222.30 324.06L222.80 324.01L223.30 323.96L223.80 323.90L224.30 323.84L224.80 323.78L225.30 323.72L225.80 323.66L226.30 323.60L226.80 323.54L227.30 323.47L227.80 323.41L228.30 323.34L228.80 323.28L229.30 323.21L229.80 323.14L230.30 323.07L230.80 323.00L231.30 322.93L231.80 322.86L232.30 322.79L232.80 322.72L233.30 322.64L233.80 322.57L234.30 322.50L234.80 322.42L235.30 322.35L235.80 322.27L236.30 322.20L236.80 322.13L237.30 322.05L237.80 321.97L238.30 321.90L238.80 321.82L239.30 321.75L239.80 321.67L240.30 321.60L240.80 321.52L241.30 321.45L241.80 321.37L242.30 321.30L242.80 321.22L243.30 321.15L243.80 321.07L244.30 321.00L244.80 320.93L245.30 320.85L245.80 320.78L246.30 320.71L246.80 320.64L247.30 320.57L247.80 320.50L248.30 320.43L248.80 320.36L249.30 320.29L249.80 320.23L250.30 320.16L250.80 320.09L251.30 320.03L251.80 319.97L252.30 319.90L252.80 319.84L253.30 319.78L253.80 319.72L254.30 319.66L254.80 319.61L255.30 319.55L255.80 319.50L256.30 319.44L256.80 319.39L257.30 319.34L257.80 319.29L258.30 319.24L258.80 319.20L259.30 319.15L259.80 319.11L260.30 319.07L260.80 319.03L261.30 318.99L261.80 318.96L262.30 318.92L262.80 318.89L263.30 318.86L263.80 318.83L264.30 318.80L264.80 318.78L265.30 318.76L265.80 318.73L266.30 318.72L266.80 318.70L267.30 318.68L267.80 318.67L268.30 318.66L268.80 318.65L269.30 318.64L269.80 318.64L270.30 318.63L270.80 318.63L271.30 318.63L271.80 318.63L272.30 318.64L272.80 318.64L273.30 318.65L273.80 318.66L274.30 318.67L274.80 318.68L275.30 318.70L275.80 318.71L276.30 318.73L276.80 318.75L277.30 318.77L277.80 318.79L278.30 318.82L278.80 318.84L279.30 318.87L279.80 318.90L280.30 318.93L280.80 318.96L281.30 319.00L281.80 319.03L282.30 319.07L282.80 319.11L283.30 319.15L283.80 319.19L284.30 319.23L284.80 319.28L285.30 319.32L285.80 319.37L286.30 319.42L286.80 319.47L287.30 319.52L287.80 319.57L288.30 319.62L288.80 319.68L289.30 319.73L289.80 319.79L290.30 319.85L290.80 319.91L291.30 319.97L291.80 320.04L292.30 320.10L292.80 320.16L293.30 320.23L293.80 320.30L294.30 320.37L294.80 320.44L295.30 320.51L295.80 320.58L296.30 320.65L296.80 320.73L297.30 320.80L297.80 320.88L298.30 320.95L298.80 321.03L299.30 321.11L299.80 321.19L300.30 321.27L300.80 321.36L301.30 321.44L301.80 321.52L302.30 321.61L302.80 321.69L303.30 321.78L303.80 321.87L304.30 321.96L304.80 322.05L305.30 322.14L305.80 322.23L306.30 322.32L306.80 322.41L307.30 322.51L307.80 322.60L308.30 322.69L308.80 322.79L309.30 322.89L309.80 322.98L310.30 323.08L310.80 323.18L311.30 323.28L311.80 323.38L312.30 323.48L312.45 323.51" fill="none" stroke="#000" stroke-width="1.3" stroke-linejoin="round"/>
<path d="M40.80 341.09L41.30 339.33L41.80 337.64L42.30 336.00L42.80 334.42L43.30 332.89L43.80 331.42L44.30 330.01L44.80 328.65L45.30 327.34L45.80 326.07L46.30 324.86L46.80 323.70L47.30 322.58L47.80 321.51L48.30 320.47L48.80 319.49L49.30 318.54L49.80 317.63L50.30 316.76L50.80 315.93L51.30 315.13L51.80 314.37L52.30 313.64L52.80 312.94L53.30 312.28L53.80 311.64L54.30 311.03L54.80 310.44L55.30 309.88L55.80 309.35L56.30 308.84L56.80 308.34L57.30 307.87L57.80 307.42L58.30 306.99L58.80 306.57L59.30 306.16L59.80 305.77L60.30 305.39L60.80 305.02L61.30 304.67L61.80 304.32L62.30 303.97L62.80 303.63L63.30 303.30L63.80 302.97L64.30 302.64L64.80 302.32L65.30 302.00L65.80 301.67L66.30 301.35L66.80 301.03L67.30 300.70L67.80 300.37L68.30 300.04L68.80 299.70L69.30 299.35L69.80 299.00L70.30 298.65L70.80 298.28L71.30 297.91L71.80 297.52L72.30 297.13L72.80 296.72L73.30 296.30L73.80 295.87L74.30 295.43L74.80 294.97L75.30 294.49L75.80 294.00L76.30 293.49L76.80 292.96L77.30 292.42L77.80 291.85L78.30 291.26L78.80 290.65L79.30 290.02L79.80 289.37L80.30 288.69L80.80 287.99L81.30 287.26L81.80 286.50L82.30 285.72L82.80 284.91L83.30 284.07L83.80 283.19L84.30 282.29L84.80 281.36L85.30 280.39L85.80 279.40L86.30 278.36L86.80 277.29L87.30 276.19L87.80 275.05L88.30 273.87L88.80 272.65L89.30 271.40L89.80 270.11L90.30 268.78L90.80 267.42L91.30 266.02L91.80 264.59L92.30 263.13L92.80 261.64L93.30 260.11L93.80 258.56L94.30 256.97L94.80 255.35L95.30 253.71L95.80 252.04L96.30 250.34L96.80 248.62L97.30 246.87L97.80 245.09L98.30 243.30L98.80 241.48L99.30 239.63L99.80 237.77L100.30 235.89L100.80 233.98L101.30 232.06L101.80 230.11L102.30 228.15L102.80 226.18L103.30 224.20L103.80 222.24L104.30 220.32L104.80 218.45L105.30 216.65L105.80 214.95L106.30 213.35L106.80 211.89L107.30 210.58L107.80 209.43L108.30 208.47L108.80 207.72L109.30 207.18L109.80 206.84L110.30 206.69L110.80 206.73L111.30 206.93L111.80 207.30L112.30 207.83L112.80 208.49L113.30 209.28L113.80 210.20L114.30 211.23L114.80 212.36L115.30 213.58L115.80 214.88L116.30 216.25L116.80 217.68L117.30 219.17L117.80 220.69L118.30 222.24L118.80 223.82L119.30 225.40L119.80 226.99L120.30 228.56L120.80 230.11L121.30 231.65L121.80 233.16L122.30 234.64L122.80 236.11L123.30 237.56L123.80 238.98L124.30 240.38L124.80 241.76L125.30 243.13L125.80 244.47L126.30 245.79L126.80 247.09L127.30 248.37L127.80 249.63L128.30 250.87L128.80 252.09L129.30 253.29L129.80 254.48L130.30 255.64L130.80 256.79L131.30 257.92L131.80 259.03L132.30 260.12L132.80 261.20L133.30 262.25L133.80 263.29L134.30 264.32L134.80 265.32L135.30 266.31L135.80 267.28L136.30 268.24L136.80 269.18L137.30 270.10L137.80 271.01L138.30 271.90L138.80 272.78L139.30 273.64L139.80 274.49L140.30 275.32L140.80 276.14L141.30 276.94L141.80 277.73L142.30 278.51L142.80 279.27L143.30 280.02L143.80 280.75L144.30 281.47L144.80 282.18L145.30 282.87L145.80 283.56L146.30 284.23L146.80 284.88L147.30 285.53L147.80 286.16L148.30 286.78L148.80 287.39L149.30 287.98L149.80 288.57L150.30 289.14L150.80 289.70L151.30 290.25L151.80 290.79L152.30 291.32L152.80 291.84L153.30 292.34L153.80 292.84L154.30 293.32L154.80 293.80L155.30 294.26L155.80 294.71L156.30 295.16L156.80 295.59L157.30 296.02L157.80 296.43L158.30 296.83L158.80 297.23L159.30 297.62L159.80 297.99L160.30 298.36L160.80 298.72L161.30 299.07L161.80 299.41L162.30 299.75L162.80 300.07L163.30 300.39L163.80 300.70L164.30 301.00L164.80 301.29L165.30 301.58L165.80 301.86L166.30 302.13L166.80 302.39L167.30 302.65L167.80 302.90L168.30 303.14L168.80 303.37L169.30 303.60L169.80 303.83L170.30 304.04L170.80 304.25L171.30 304.46L171.80 304.65L172.30 304.85L172.80 305.03L173.30 305.21L173.80 305.39L174.30 305.56L174.80 305.72L175.30 305.88L175.80 306.04L176.30 306.19L176.80 306.34L177.30 306.48L177.80 306.61L178.30 306.75L178.80 306.87L179.30 307.00L179.80 307.12L180.30 307.24L180.80 307.35L181.30 307.46L181.80 307.57L182.30 307.67L182.80 307.77L183.30 307.87L183.80 307.96L184.30 308.06L184.80 308.15L185.30 308.23L185.80 308.32L186.30 308.40L186.80 308.48L187.30 308.56L187.80 308.64L188.30 308.71L188.80 308.79L189.30 308.86L189.80 308.93L190.30 309.00L190.80 309.07L191.30 309.14L191.80 309.21L192.30 309.27L192.80 309.34L193.30 309.40L193.80 309.47L194.30 309.53L194.80 309.59L195.30 309.65L195.80 309.71L196.30 309.77L196.80 309.82L197.30 309.88L197.80 309.93L198.30 309.98L198.80 310.04L199.30 310.09L199.80 310.14L200.30 310.18L200.80 310.23L201.30 310.28L201.80 310.32L202.30 310.36L202.80 310.41L203.30 310.45L203.80 310.49L204.30 310.52L204.80 310.56L205.30 310.59L205.80 310.63L206.30 310.66L206.80 310.69L207.30 310.72L207.80 310.75L208.30 310.78L208.80 310.80L209.30 310.83L209.80 310.85L210.30 310.87L210.80 310.89L211.30 310.91L211.80 310.93L212.30 310.95L212.80 310.96L213.30 310.97L213.80 310.98L214.30 310.99L214.80 311.00L215.30 311.01L215.80 311.01L216.30 311.02L216.80 311.02L217.30 311.02L217.80 311.02L218.30 311.02L218.80 311.01L219.30 311.01L219.80 311.00L220.30 310.99L220.80 310.98L221.30 310.97L221.80 310.95L222.30 310.94L222.80 310.92L223.30 310.90L223.80 310.88L224.30 310.86L224.80 310.83L225.30 310.81L225.80 310.78L226.30 310.75L226.80 310.72L227.30 310.69L227.80 310.65L228.30 310.62L228.80 310.58L229.30 310.55L229.80 310.51L230.30 310.47L230.80 310.43L231.30 310.39L231.80 310.35L232.30 310.30L232.80 310.26L233.30 310.22L233.80 310.17L234.30 310.13L234.80 310.08L235.30 310.04L235.80 309.99L236.30 309.95L236.80 309.90L237.30 309.86L237.80 309.82L238.30 309.77L238.80 309.73L239.30 309.68L239.80 309.64L240.30 309.60L240.80 309.56L241.30 309.52L241.80 309.48L242.30 309.44L242.80 309.40L243.30 309.36L243.80 309.33L244.30 309.29L244.80 309.26L245.30 309.23L245.80 309.20L246.30 309.17L246.80 309.14L247.30 309.12L247.80 309.09L248.30 309.07L248.80 309.05L249.30 309.04L249.80 309.02L250.30 309.01L250.80 308.99L251.30 308.99L251.80 308.98L252.30 308.98L252.80 308.97L253.30 308.97L253.80 308.98L254.30 308.98L254.80 308.99L255.30 309.00L255.80 309.01L256.30 309.03L256.80 309.04L257.30 309.06L257.80 309.08L258.30 309.11L258.80 309.13L259.30 309.16L259.80 309.19L260.30 309.22L260.80 309.25L261.30 309.28L261.80 309.32L262.30 309.36L262.80 309.40L263.30 309.44L263.80 309.48L264.30 309.53L264.80 309.57L265.30 309.62L265.80 309.67L266.30 309.72L266.80 309.78L267.30 309.83L267.80 309.89L268.30 309.94L268.80 310.00L269.30 310.06L269.80 310.13L270.30 310.19L270.80 310.25L271.30 310.32L271.80 310.39L272.30 310.45L272.80 310.52L273.30 310.59L273.80 310.66L274.30 310.74L274.80 310.81L275.30 310.89L275.80 310.96L276.30 311.04L276.80 311.12L277.30 311.19L277.80 311.27L278.30 311.35L278.80 311.43L279.30 311.52L279.80 311.60L280.30 311.68L280.80 311.77L281.30 311.85L281.80 311.94L282.30 312.02L282.80 312.11L283.30 312.20L283.80 312.28L284.30 312.37L284.80 312.46L285.30 312.55L285.80 312.64L286.30 312.73L286.80 312.82L287.30 312.91L287.80 313.00L288.30 313.09L288.80 313.18L289.30 313.28L289.80 313.37L290.30 313.46L290.80 313.55L291.30 313.64L291.80 313.73L292.30 313.83L292.80 313.92L293.30 314.01L293.80 314.10L294.30 314.19L294.80 314.29L295.30 314.38L295.80 314.47L296.30 314.56L296.80 314.65L297.30 314.74L297.80 314.83L298.30 314.92L298.80 315.01L299.30 315.10L299.80 315.19L300.30 315.28L300.80 315.36L301.30 315.45L301.80 315.54L302.30 315.62L302.80 315.71L303.30 315.79L303.80 315.88L304.30 315.96L304.80 316.04L305.30 316.13L305.80 316.21L306.30 316.29L306.80 316.37L307.30 316.44L307.80 316.52L308.30 316.60L308.80 316.67L309.30 316.75L309.80 316.82L310.30 316.90L310.80 316.97L311.30 317.04L311.80 317.11L312.30 317.17L312.45 317.19" fill="none" stroke="#ff0000" stroke-width="1.3" stroke-linejoin="round"/>
<path d="M40.80 342.48L41.30 341.19L41.80 339.96L42.30 338.79L42.80 337.67L43.30 336.62L43.80 335.62L44.30 334.67L44.80 333.77L45.30 332.92L45.80 332.12L46.30 331.36L46.80 330.65L47.30 329.98L47.80 329.35L48.30 328.75L48.80 328.19L49.30 327.67L49.80 327.18L50.30 326.72L50.80 326.28L51.30 325.88L51.80 325.50L52.30 325.14L52.80 324.80L53.30 324.48L53.80 324.18L54.30 323.89L54.80 323.62L55.30 323.36L55.80 323.11L56.30 322.87L56.80 322.63L57.30 322.40L57.80 322.19L58.30 321.98L58.80 321.77L59.30 321.58L59.80 321.39L60.30 321.21L60.80 321.03L61.30 320.87L61.80 320.71L62.30 320.56L62.80 320.41L63.30 320.27L63.80 320.14L64.30 320.01L64.80 319.89L65.30 319.78L65.80 319.67L66.30 319.57L66.80 319.47L67.30 319.38L67.80 319.30L68.30 319.22L68.80 319.14L69.30 319.07L69.80 319.01L70.30 318.95L70.80 318.90L71.30 318.85L71.80 318.80L72.30 318.76L72.80 318.73L73.30 318.70L73.80 318.67L74.30 318.65L74.80 318.63L75.30 318.62L75.80 318.61L76.30 318.60L76.80 318.59L77.30 318.59L77.80 318.60L78.30 318.60L78.80 318.61L79.30 318.62L79.80 318.64L80.30 318.66L80.80 318.68L81.30 318.70L81.80 318.72L82.30 318.75L82.80 318.78L83.30 318.81L83.80 318.84L84.30 318.88L84.80 318.92L85.30 318.96L85.80 318.99L86.30 319.04L86.80 319.08L87.30 319.12L87.80 319.17L88.30 319.21L88.80 319.26L89.30 319.30L89.80 319.35L90.30 319.40L90.80 319.45L91.30 319.49L91.80 319.54L92.30 319.59L92.80 319.64L93.30 319.69L93.80 319.73L94.30 319.78L94.80 319.83L95.30 319.87L95.80 319.92L96.30 319.96L96.80 320.01L97.30 320.05L97.80 320.09L98.30 320.14L98.80 320.18L99.30 320.22L99.80 320.26L100.30 320.30L100.80 320.34L101.30 320.38L101.80 320.42L102.30 320.46L102.80 320.50L103.30 320.54L103.80 320.57L104.30 320.61L104.80 320.65L105.30 320.68L105.80 320.72L106.30 320.76L106.80 320.79L107.30 320.83L107.80 320.86L108.30 320.89L108.80 320.93L109.30 320.96L109.80 320.99L110.30 321.03L110.80 321.06L111.30 321.09L111.80 321.12L112.30 321.15L112.80 321.18L113.30 321.21L113.80 321.24L114.30 321.27L114.80 321.30L115.30 321.33L115.80 321.36L116.30 321.38L116.80 321.41L117.30 321.44L117.80 321.46L118.30 321.49L118.80 321.52L119.30 321.54L119.80 321.57L120.30 321.59L120.80 321.62L121.30 321.64L121.80 321.67L122.30 321.69L122.80 321.72L123.30 321.74L123.80 321.76L124.30 321.79L124.80 321.81L125.30 321.83L125.80 321.85L126.30 321.88L126.80 321.90L127.30 321.92L127.80 321.94L128.30 321.96L128.80 321.98L129.30 322.00L129.80 322.02L130.30 322.04L130.80 322.06L131.30 322.08L131.80 322.10L132.30 322.12L132.80 322.14L133.30 322.16L133.80 322.17L134.30 322.19L134.80 322.21L135.30 322.23L135.80 322.25L136.30 322.26L136.80 322.28L137.30 322.30L137.80 322.31L138.30 322.33L138.80 322.35L139.30 322.36L139.80 322.38L140.30 322.40L140.80 322.41L141.30 322.43L141.80 322.44L142.30 322.46L142.80 322.47L143.30 322.49L143.80 322.50L144.30 322.52L144.80 322.53L145.30 322.55L145.80 322.56L146.30 322.58L146.80 322.59L147.30 322.61L147.80 322.62L148.30 322.64L148.80 322.65L149.30 322.66L149.80 322.68L150.30 322.69L150.80 322.71L151.30 322.72L151.80 322.73L152.30 322.75L152.80 322.76L153.30 322.77L153.80 322.79L154.30 322.80L154.80 322.81L155.30 322.83L155.80 322.84L156.30 322.85L156.80 322.87L157.30 322.88L157.80 322.89L158.30 322.91L158.80 322.92L159.30 322.93L159.80 322.95L160.30 322.96L160.80 322.97L161.30 322.99L161.80 323.00L162.30 323.01L162.80 323.03L163.30 323.04L163.80 323.05L164.30 323.07L164.80 323.08L165.30 323.09L165.80 323.11L166.30 323.12L166.80 323.13L167.30 323.15L167.80 323.16L168.30 323.18L168.80 323.19L169.30 323.20L169.80 323.22L170.30 323.23L170.80 323.25L171.30 323.26L171.80 323.28L172.30 323.29L172.80 323.30L173.30 323.32L173.80 323.33L174.30 323.35L174.80 323.36L175.30 323.38L175.80 323.40L176.30 323.41L176.80 323.43L177.30 323.44L177.80 323.46L178.30 323.47L178.80 323.49L179.30 323.51L179.80 323.52L180.30 323.54L180.80 323.56L181.30 323.57L181.80 323.59L182.30 323.61L182.80 323.62L183.30 323.64L183.80 323.66L184.30 323.67L184.80 323.69L185.30 323.71L185.80 323.73L186.30 323.74L186.80 323.76L187.30 323.78L187.80 323.80L188.30 323.82L188.80 323.83L189.30 323.85L189.80 323.87L190.30 323.89L190.80 323.91L191.30 323.93L191.80 323.95L192.30 323.96L192.80 323.98L193.30 324.00L193.80 324.02L194.30 324.04L194.80 324.06L195.30 324.08L195.80 324.10L196.30 324.12L196.80 324.14L197.30 324.16L197.80 324.18L198.30 324.20L198.80 324.22L199.30 324.24L199.80 324.26L200.30 324.28L200.80 324.30L201.30 324.32L201.80 324.34L202.30 324.36L202.80 324.38L203.30 324.40L203.80 324.42L204.30 324.44L204.80 324.46L205.30 324.48L205.80 324.50L206.30 324.52L206.80 324.55L207.30 324.57L207.80 324.59L208.30 324.61L208.80 324.63L209.30 324.65L209.80 324.67L210.30 324.69L210.80 324.72L211.30 324.74L211.80 324.76L212.30 324.78L212.80 324.80L213.30 324.82L213.80 324.84L214.30 324.87L214.80 324.89L215.30 324.91L215.80 324.93L216.30 324.95L216.80 324.98L217.30 325.00L217.80 325.02L218.30 325.04L218.80 325.06L219.30 325.09L219.80 325.11L220.30 325.13L220.80 325.15L221.30 325.17L221.80 325.20L222.30 325.22L222.80 325.24L223.30 325.26L223.80 325.29L224.30 325.31L224.80 325.33L225.30 325.35L225.80 325.37L226.30 325.40L226.80 325.42L227.30 325.44L227.80 325.46L228.30 325.49L228.80 325.51L229.30 325.53L229.80 325.55L230.30 325.58L230.80 325.60L231.30 325.62L231.80 325.64L232.30 325.67L232.80 325.69L233.30 325.71L233.80 325.73L234.30 325.76L234.80 325.78L235.30 325.80L235.80 325.82L236.30 325.85L236.80 325.87L237.30 325.89L237.80 325.91L238.30 325.94L238.80 325.96L239.30 325.98L239.80 326.00L240.30 326.03L240.80 326.05L241.30 326.07L241.80 326.09L242.30 326.12L242.80 326.14L243.30 326.16L243.80 326.18L244.30 326.21L244.80 326.23L245.30 326.25L245.80 326.27L246.30 326.30L246.80 326.32L247.30 326.34L247.80 326.36L248.30 326.38L248.80 326.41L249.30 326.43L249.80 326.45L250.30 326.47L250.80 326.49L251.30 326.52L251.80 326.54L252.30 326.56L252.80 326.58L253.30 326.60L253.80 326.62L254.30 326.65L254.80 326.67L255.30 326.69L255.80 326.71L256.30 326.73L256.80 326.75L257.30 326.78L257.80 326.80L258.30 326.82L258.80 326.84L259.30 326.86L259.80 326.88L260.30 326.90L260.80 326.92L261.30 326.94L261.80 326.97L262.30 326.99L262.80 327.01L263.30 327.03L263.80 327.05L264.30 327.07L264.80 327.09L265.30 327.11L265.80 327.13L266.30 327.15L266.80 327.17L267.30 327.19L267.80 327.21L268.30 327.23L268.80 327.25L269.30 327.27L269.80 327.29L270.30 327.31L270.80 327.33L271.30 327.35L271.80 327.37L272.30 327.39L272.80 327.41L273.30 327.43L273.80 327.45L274.30 327.47L274.80 327.49L275.30 327.50L275.80 327.52L276.30 327.54L276.80 327.56L277.30 327.58L277.80 327.60L278.30 327.62L278.80 327.63L279.30 327.65L279.80 327.67L280.30 327.69L280.80 327.71L281.30 327.72L281.80 327.74L282.30 327.76L282.80 327.78L283.30 327.79L283.80 327.81L284.30 327.83L284.80 327.85L285.30 327.86L285.80 327.88L286.30 327.90L286.80 327.91L287.30 327.93L287.80 327.95L288.30 327.96L288.80 327.98L289.30 327.99L289.80 328.01L290.30 328.03L290.80 328.04L291.30 328.06L291.80 328.07L292.30 328.09L292.80 328.10L293.30 328.12L293.80 328.13L294.30 328.15L294.80 328.16L295.30 328.18L295.80 328.19L296.30 328.21L296.80 328.22L297.30 328.24L297.80 328.25L298.30 328.26L298.80 328.28L299.30 328.29L299.80 328.30L300.30 328.32L300.80 328.33L301.30 328.34L301.80 328.36L302.30 328.37L302.80 328.38L303.30 328.39L303.80 328.41L304.30 328.42L304.80 328.43L305.30 328.44L305.80 328.45L306.30 328.46L306.80 328.48L307.30 328.49L307.80 328.50L308.30 328.51L308.80 328.52L309.30 328.53L309.80 328.54L310.30 328.55L310.80 328.56L311.30 328.57L311.80 328.58L312.30 328.59L312.45 328.59" fill="none" stroke="#008000" stroke-width="1.05" stroke-linejoin="round" stroke-dasharray="5.7 4.7"/>
<path d="M40.80 343.40L41.30 342.35L41.80 341.35L42.30 340.39L42.80 339.49L43.30 338.63L43.80 337.81L44.30 337.04L44.80 336.31L45.30 335.62L45.80 334.97L46.30 334.36L46.80 333.79L47.30 333.25L47.80 332.75L48.30 332.29L48.80 331.86L49.30 331.46L49.80 331.10L50.30 330.76L50.80 330.45L51.30 330.18L51.80 329.93L52.30 329.70L52.80 329.50L53.30 329.33L53.80 329.17L54.30 329.04L54.80 328.93L55.30 328.84L55.80 328.77L56.30 328.72L56.80 328.68L57.30 328.66L57.80 328.65L58.30 328.65L58.80 328.67L59.30 328.70L59.80 328.73L60.30 328.78L60.80 328.84L61.30 328.90L61.80 328.96L62.30 329.04L62.80 329.11L63.30 329.19L63.80 329.27L64.30 329.35L64.80 329.43L65.30 329.52L65.80 329.60L66.30 329.69L66.80 329.77L67.30 329.85L67.80 329.93L68.30 330.01L68.80 330.09L69.30 330.16L69.80 330.23L70.30 330.30L70.80 330.36L71.30 330.41L71.80 330.46L72.30 330.51L72.80 330.54L73.30 330.57L73.80 330.59L74.30 330.61L74.80 330.61L75.30 330.61L75.80 330.60L76.30 330.57L76.80 330.54L77.30 330.49L77.80 330.43L78.30 330.36L78.80 330.28L79.30 330.19L79.80 330.08L80.30 329.96L80.80 329.82L81.30 329.66L81.80 329.50L82.30 329.31L82.80 329.11L83.30 328.89L83.80 328.66L84.30 328.40L84.80 328.13L85.30 327.84L85.80 327.52L86.30 327.19L86.80 326.84L87.30 326.47L87.80 326.07L88.30 325.65L88.80 325.21L89.30 324.74L89.80 324.25L90.30 323.73L90.80 323.18L91.30 322.60L91.80 321.99L92.30 321.35L92.80 320.67L93.30 319.97L93.80 319.22L94.30 318.44L94.80 317.63L95.30 316.77L95.80 315.88L96.30 314.95L96.80 313.97L97.30 312.96L97.80 311.90L98.30 310.80L98.80 309.67L99.30 308.50L99.80 307.31L100.30 306.10L100.80 304.86L101.30 303.61L101.80 302.35L102.30 301.07L102.80 299.80L103.30 298.52L103.80 297.24L104.30 295.97L104.80 294.71L105.30 293.47L105.80 292.24L106.30 291.03L106.80 289.85L107.30 288.70L107.80 287.58L108.30 286.49L108.80 285.45L109.30 284.45L109.80 283.50L110.30 282.60L110.80 281.75L111.30 280.96L111.80 280.24L112.30 279.58L112.80 279.00L113.30 278.48L113.80 278.04L114.30 277.67L114.80 277.37L115.30 277.13L115.80 276.96L116.30 276.85L116.80 276.80L117.30 276.81L117.80 276.87L118.30 276.98L118.80 277.14L119.30 277.35L119.80 277.61L120.30 277.91L120.80 278.25L121.30 278.63L121.80 279.05L122.30 279.49L122.80 279.98L123.30 280.49L123.80 281.03L124.30 281.59L124.80 282.18L125.30 282.78L125.80 283.41L126.30 284.05L126.80 284.71L127.30 285.38L127.80 286.07L128.30 286.77L128.80 287.48L129.30 288.20L129.80 288.93L130.30 289.67L130.80 290.41L131.30 291.15L131.80 291.90L132.30 292.65L132.80 293.40L133.30 294.15L133.80 294.90L134.30 295.64L134.80 296.38L135.30 297.11L135.80 297.83L136.30 298.54L136.80 299.25L137.30 299.94L137.80 300.62L138.30 301.28L138.80 301.93L139.30 302.56L139.80 303.17L140.30 303.77L140.80 304.34L141.30 304.89L141.80 305.43L142.30 305.95L142.80 306.46L143.30 306.95L143.80 307.42L144.30 307.88L144.80 308.33L145.30 308.77L145.80 309.19L146.30 309.61L146.80 310.01L147.30 310.41L147.80 310.80L148.30 311.18L148.80 311.55L149.30 311.92L149.80 312.29L150.30 312.65L150.80 313.01L151.30 313.36L151.80 313.71L152.30 314.05L152.80 314.40L153.30 314.74L153.80 315.07L154.30 315.40L154.80 315.73L155.30 316.06L155.80 316.38L156.30 316.69L156.80 317.01L157.30 317.32L157.80 317.63L158.30 317.93L158.80 318.23L159.30 318.52L159.80 318.82L160.30 319.11L160.80 319.39L161.30 319.67L161.80 319.95L162.30 320.23L162.80 320.50L163.30 320.77L163.80 321.03L164.30 321.30L164.80 321.55L165.30 321.81L165.80 322.06L166.30 322.31L166.80 322.55L167.30 322.79L167.80 323.03L168.30 323.26L168.80 323.50L169.30 323.72L169.80 323.95L170.30 324.17L170.80 324.39L171.30 324.60L171.80 324.81L172.30 325.02L172.80 325.22L173.30 325.42L173.80 325.62L174.30 325.81L174.80 326.01L175.30 326.19L175.80 326.38L176.30 326.56L176.80 326.74L177.30 326.91L177.80 327.08L178.30 327.25L178.80 327.42L179.30 327.58L179.80 327.74L180.30 327.89L180.80 328.04L181.30 328.19L181.80 328.34L182.30 328.48L182.80 328.62L183.30 328.75L183.80 328.89L184.30 329.02L184.80 329.14L185.30 329.27L185.80 329.39L186.30 329.51L186.80 329.62L187.30 329.73L187.80 329.84L188.30 329.94L188.80 330.05L189.30 330.14L189.80 330.24L190.30 330.33L190.80 330.42L191.30 330.51L191.80 330.59L192.30 330.67L192.80 330.75L193.30 330.82L193.80 330.90L194.30 330.96L194.80 331.03L195.30 331.09L195.80 331.15L196.30 331.21L196.80 331.26L197.30 331.31L197.80 331.36L198.30 331.40L198.80 331.44L199.30 331.48L199.80 331.52L200.30 331.55L200.80 331.58L201.30 331.61L201.80 331.63L202.30 331.65L202.80 331.67L203.30 331.69L203.80 331.70L204.30 331.71L204.80 331.72L205.30 331.72L205.80 331.72L206.30 331.72L206.80 331.72L207.30 331.71L207.80 331.71L208.30 331.69L208.80 331.68L209.30 331.67L209.80 331.65L210.30 331.63L210.80 331.61L211.30 331.58L211.80 331.55L212.30 331.53L212.80 331.49L213.30 331.46L213.80 331.43L214.30 331.39L214.80 331.35L215.30 331.31L215.80 331.27L216.30 331.22L216.80 331.17L217.30 331.13L217.80 331.07L218.30 331.02L218.80 330.97L219.30 330.91L219.80 330.86L220.30 330.80L220.80 330.74L221.30 330.68L221.80 330.61L222.30 330.55L222.80 330.48L223.30 330.41L223.80 330.35L224.30 330.28L224.80 330.20L225.30 330.13L225.80 330.06L226.30 329.98L226.80 329.91L227.30 329.83L227.80 329.75L228.30 329.67L228.80 329.59L229.30 329.51L229.80 329.43L230.30 329.35L230.80 329.26L231.30 329.18L231.80 329.09L232.30 329.01L232.80 328.92L233.30 328.84L233.80 328.75L234.30 328.66L234.80 328.57L235.30 328.48L235.80 328.39L236.30 328.30L236.80 328.21L237.30 328.12L237.80 328.03L238.30 327.94L238.80 327.84L239.30 327.75L239.80 327.66L240.30 327.57L240.80 327.48L241.30 327.38L241.80 327.29L242.30 327.20L242.80 327.11L243.30 327.01L243.80 326.92L244.30 326.83L244.80 326.74L245.30 326.65L245.80 326.55L246.30 326.46L246.80 326.37L247.30 326.28L247.80 326.19L248.30 326.10L248.80 326.01L249.30 325.92L249.80 325.84L250.30 325.75L250.80 325.66L251.30 325.58L251.80 325.49L252.30 325.41L252.80 325.32L253.30 325.24L253.80 325.16L254.30 325.07L254.80 324.99L255.30 324.91L255.80 324.84L256.30 324.76L256.80 324.68L257.30 324.61L257.80 324.53L258.30 324.46L258.80 324.39L259.30 324.32L259.80 324.25L260.30 324.18L260.80 324.11L261.30 324.05L261.80 323.98L262.30 323.92L262.80 323.86L263.30 323.80L263.80 323.74L264.30 323.68L264.80 323.63L265.30 323.58L265.80 323.53L266.30 323.48L266.80 323.43L267.30 323.38L267.80 323.34L268.30 323.29L268.80 323.25L269.30 323.21L269.80 323.17L270.30 323.14L270.80 323.10L271.30 323.07L271.80 323.04L272.30 323.01L272.80 322.98L273.30 322.96L273.80 322.93L274.30 322.91L274.80 322.89L275.30 322.87L275.80 322.85L276.30 322.83L276.80 322.82L277.30 322.81L277.80 322.79L278.30 322.79L278.80 322.78L279.30 322.77L279.80 322.77L280.30 322.76L280.80 322.76L281.30 322.76L281.80 322.77L282.30 322.77L282.80 322.78L283.30 322.78L283.80 322.79L284.30 322.80L284.80 322.81L285.30 322.83L285.80 322.84L286.30 322.86L286.80 322.88L287.30 322.90L287.80 322.92L288.30 322.95L288.80 322.97L289.30 323.00L289.80 323.03L290.30 323.06L290.80 323.09L291.30 323.13L291.80 323.16L292.30 323.20L292.80 323.24L293.30 323.28L293.80 323.32L294.30 323.37L294.80 323.41L295.30 323.46L295.80 323.51L296.30 323.56L296.80 323.61L297.30 323.67L297.80 323.72L298.30 323.78L298.80 323.84L299.30 323.90L299.80 323.96L300.30 324.03L300.80 324.09L301.30 324.16L301.80 324.23L302.30 324.30L302.80 324.37L303.30 324.45L303.80 324.52L304.30 324.60L304.80 324.68L305.30 324.76L305.80 324.85L306.30 324.93L306.80 325.02L307.30 325.10L307.80 325.19L308.30 325.28L308.80 325.38L309.30 325.47L309.80 325.57L310.30 325.67L310.80 325.77L311.30 325.87L311.80 325.97L312.30 326.07L312.45 326.11" fill="none" stroke="#0000ff" stroke-width="1.3" stroke-linejoin="round"/>
<path d="M41.15 195.15V343.0" stroke="#3838ff" stroke-width="1.9" fill="none"/>
<path d="M41.15 200.15V343.0" stroke="#4a9c4a" stroke-width="1.9" stroke-dasharray="6.3 3.9" fill="none"/>
</g>
<path d="M40.8 331.94h3.7M312.45 331.94h-3.7M40.8 301.67h3.7M312.45 301.67h-3.7M40.8 271.41h3.7M312.45 271.41h-3.7M40.8 241.15h3.7M312.45 241.15h-3.7M40.8 210.88h3.7M312.45 210.88h-3.7M40.8 347.07h1.9M312.45 347.07h-1.9M40.8 316.80h1.9M312.45 316.80h-1.9M40.8 286.54h1.9M312.45 286.54h-1.9M40.8 256.28h1.9M312.45 256.28h-1.9M40.8 226.01h1.9M312.45 226.01h-1.9" stroke="#000" stroke-width="1.0" fill="none"/>
<g clip-path="url(#cpc)">
<path d="M382.55 175.49L383.05 175.40L383.55 175.31L384.05 175.22L384.55 175.13L385.05 175.05L385.55 174.97L386.05 174.89L386.55 174.81L387.05 174.73L387.55 174.66L388.05 174.59L388.55 174.52L389.05 174.45L389.55 174.38L390.05 174.32L390.55 174.25L391.05 174.19L391.55 174.13L392.05 174.07L392.55 174.01L393.05 173.96L393.55 173.90L394.05 173.85L394.55 173.80L395.05 173.75L395.55 173.70L396.05 173.66L396.55 173.61L397.05 173.57L397.55 173.53L398.05 173.49L398.55 173.45L399.05 173.41L399.55 173.37L400.05 173.34L400.55 173.30L401.05 173.27L401.55 173.24L402.05 173.20L402.55 173.17L403.05 173.15L403.55 173.12L404.05 173.09L404.55 173.07L405.05 173.04L405.55 173.02L406.05 173.00L406.55 172.97L407.05 172.95L407.55 172.93L408.05 172.91L408.55 172.90L409.05 172.88L409.55 172.86L410.05 172.85L410.55 172.83L411.05 172.82L411.55 172.80L412.05 172.79L412.55 172.78L413.05 172.77L413.55 172.76L414.05 172.75L414.55 172.74L415.05 172.73L415.55 172.72L416.05 172.71L416.55 172.70L417.05 172.70L417.55 172.69L418.05 172.68L418.55 172.68L419.05 172.67L419.55 172.67L420.05 172.66L420.55 172.66L421.05 172.65L421.55 172.65L422.05 172.64L422.55 172.64L423.05 172.64L423.55 172.63L424.05 172.63L424.55 172.63L425.05 172.62L425.55 172.62L426.05 172.62L426.55 172.61L427.05 172.61L427.55 172.61L428.05 172.60L428.55 172.60L429.05 172.60L429.55 172.59L430.05 172.59L430.55 172.58L431.05 172.58L431.55 172.58L432.05 172.57L432.55 172.57L433.05 172.56L433.55 172.55L434.05 172.55L434.55 172.54L435.05 172.54L435.55 172.53L436.05 172.52L436.55 172.51L437.05 172.50L437.55 172.49L438.05 172.48L438.55 172.47L439.05 172.46L439.55 172.45L440.05 172.44L440.55 172.43L441.05 172.41L441.55 172.40L442.05 172.38L442.55 172.37L443.05 172.35L443.55 172.33L444.05 172.31L444.55 172.29L445.05 172.27L445.55 172.25L446.05 172.23L446.55 172.21L447.05 172.19L447.55 172.16L448.05 172.14L448.55 172.11L449.05 172.08L449.55 172.06L450.05 172.03L450.55 172.00L451.05 171.97L451.55 171.94L452.05 171.90L452.55 171.87L453.05 171.84L453.55 171.80L454.05 171.77L454.55 171.73L455.05 171.69L455.55 171.65L456.05 171.61L456.55 171.57L457.05 171.53L457.55 171.49L458.05 171.44L458.55 171.40L459.05 171.35L459.55 171.31L460.05 171.26L460.55 171.21L461.05 171.16L461.55 171.11L462.05 171.06L462.55 171.00L463.05 170.95L463.55 170.89L464.05 170.84L464.55 170.78L465.05 170.72L465.55 170.66L466.05 170.60L466.55 170.54L467.05 170.48L467.55 170.42L468.05 170.35L468.55 170.29L469.05 170.22L469.55 170.15L470.05 170.08L470.55 170.01L471.05 169.94L471.55 169.87L472.05 169.79L472.55 169.72L473.05 169.64L473.55 169.56L474.05 169.49L474.55 169.41L475.05 169.33L475.55 169.24L476.05 169.16L476.55 169.08L477.05 168.99L477.55 168.90L478.05 168.82L478.55 168.73L479.05 168.64L479.55 168.55L480.05 168.45L480.55 168.36L481.05 168.26L481.55 168.17L482.05 168.07L482.55 167.97L483.05 167.87L483.55 167.77L484.05 167.66L484.55 167.56L485.05 167.45L485.55 167.34L486.05 167.23L486.55 167.12L487.05 167.01L487.55 166.89L488.05 166.78L488.55 166.66L489.05 166.54L489.55 166.42L490.05 166.29L490.55 166.17L491.05 166.04L491.55 165.91L492.05 165.78L492.55 165.65L493.05 165.52L493.55 165.38L494.05 165.24L494.55 165.10L495.05 164.96L495.55 164.81L496.05 164.67L496.55 164.52L497.05 164.37L497.55 164.21L498.05 164.06L498.55 163.90L499.05 163.74L499.55 163.58L500.05 163.41L500.55 163.24L501.05 163.07L501.55 162.90L502.05 162.73L502.55 162.55L503.05 162.37L503.55 162.19L504.05 162.00L504.55 161.81L505.05 161.62L505.55 161.43L506.05 161.24L506.55 161.04L507.05 160.84L507.55 160.63L508.05 160.43L508.55 160.22L509.05 160.00L509.55 159.79L510.05 159.57L510.55 159.35L511.05 159.13L511.55 158.90L512.05 158.67L512.55 158.44L513.05 158.21L513.55 157.97L514.05 157.73L514.55 157.49L515.05 157.24L515.55 156.99L516.05 156.74L516.55 156.49L517.05 156.23L517.55 155.97L518.05 155.71L518.55 155.45L519.05 155.18L519.55 154.91L520.05 154.64L520.55 154.36L521.05 154.08L521.55 153.80L522.05 153.52L522.55 153.23L523.05 152.94L523.55 152.65L524.05 152.36L524.55 152.06L525.05 151.76L525.55 151.46L526.05 151.15L526.55 150.85L527.05 150.54L527.55 150.23L528.05 149.91L528.55 149.59L529.05 149.28L529.55 148.95L530.05 148.63L530.55 148.30L531.05 147.98L531.55 147.65L532.05 147.31L532.55 146.98L533.05 146.64L533.55 146.30L534.05 145.96L534.55 145.61L535.05 145.27L535.55 144.92L536.05 144.57L536.55 144.21L537.05 143.86L537.55 143.50L538.05 143.14L538.55 142.78L539.05 142.42L539.55 142.05L540.05 141.69L540.55 141.32L541.05 140.95L541.55 140.57L542.05 140.20L542.55 139.82L543.05 139.44L543.55 139.06L544.05 138.68L544.55 138.29L545.05 137.91L545.55 137.52L546.05 137.13L546.55 136.74L547.05 136.34L547.55 135.95L548.05 135.55L548.55 135.15L549.05 134.75L549.55 134.35L550.05 133.95L550.55 133.54L551.05 133.13L551.55 132.72L552.05 132.31L552.55 131.90L553.05 131.49L553.55 131.07L554.05 130.66L554.55 130.24L555.05 129.82L555.55 129.40L556.05 128.98L556.55 128.55L557.05 128.13L557.55 127.70L558.05 127.27L558.55 126.84L559.05 126.41L559.55 125.98L560.05 125.54L560.55 125.11L561.05 124.67L561.55 124.23L562.05 123.79L562.55 123.35L563.05 122.91L563.55 122.46L564.05 122.02L564.55 121.57L565.05 121.12L565.55 120.67L566.05 120.22L566.55 119.77L567.05 119.31L567.55 118.86L568.05 118.40L568.55 117.94L569.05 117.49L569.55 117.03L570.05 116.56L570.55 116.10L571.05 115.64L571.55 115.17L572.05 114.71L572.55 114.24L573.05 113.77L573.55 113.30L574.05 112.83L574.55 112.35L575.05 111.88L575.55 111.41L576.05 110.93L576.55 110.45L577.05 109.97L577.55 109.49L578.05 109.01L578.55 108.53L579.05 108.05L579.55 107.56L580.05 107.08L580.55 106.59L581.05 106.10L581.55 105.62L582.05 105.13L582.55 104.64L583.05 104.14L583.55 103.65L584.05 103.15L584.55 102.66L585.05 102.16L585.55 101.66L586.05 101.16L586.55 100.66L587.05 100.16L587.55 99.65L588.05 99.14L588.55 98.64L589.05 98.13L589.55 97.62L590.05 97.10L590.55 96.59L591.05 96.07L591.55 95.55L592.05 95.03L592.55 94.51L593.05 93.99L593.55 93.46L594.05 92.94L594.55 92.41L595.05 91.87L595.55 91.34L596.05 90.81L596.55 90.27L597.05 89.73L597.55 89.19L598.05 88.64L598.55 88.10L599.05 87.55L599.55 87.00L600.05 86.45L600.55 85.89L601.05 85.33L601.55 84.77L602.05 84.21L602.55 83.65L603.05 83.08L603.55 82.51L604.05 81.94L604.55 81.36L605.05 80.79L605.55 80.21L606.05 79.62L606.55 79.04L607.05 78.45L607.55 77.86L608.05 77.27L608.55 76.67L609.05 76.07L609.55 75.47L610.05 74.86L610.55 74.26L611.05 73.65L611.55 73.03L612.05 72.42L612.55 71.80L613.05 71.17L613.55 70.55L614.05 69.92L614.55 69.29L615.05 68.65L615.55 68.01L616.05 67.37L616.55 66.73L617.05 66.08L617.55 65.43L618.05 64.77L618.55 64.11L619.05 63.45L619.55 62.79L620.05 62.12L620.55 61.45L621.05 60.77L621.55 60.09L622.05 59.41L622.55 58.72L623.05 58.03L623.55 57.34L624.05 56.64L624.55 55.94L625.05 55.23L625.55 54.52L626.05 53.81L626.55 53.09L627.05 52.37L627.55 51.65L628.05 50.92L628.55 50.19L629.05 49.45L629.55 48.71L630.05 47.97L630.55 47.22L631.05 46.46L631.55 45.71L632.05 44.94L632.55 44.18L633.05 43.41L633.55 42.64L634.05 41.86L634.55 41.07L635.05 40.29L635.55 39.49L636.05 38.70L636.55 37.90L637.05 37.09L637.55 36.28L638.05 35.47L638.55 34.65L639.05 33.83L639.55 33.00L640.05 32.17L640.55 31.33L641.05 30.49L641.55 29.64L642.05 28.79L642.55 27.93L643.05 27.07L643.55 26.20L644.05 25.33L644.55 24.46L645.05 23.58L645.55 22.69L646.05 21.80L646.55 20.90L647.05 20.00L647.55 19.09L648.05 18.18L648.55 17.27L649.05 16.34L649.55 15.42L650.05 14.48L650.55 13.55L651.05 12.60L651.55 11.65L652.05 10.70L652.55 9.74L653.05 8.78L653.50 7.90L653.50 176.20L382.55 176.20Z" fill="#cce5cc" stroke="none"/>
</g>
<rect x="382.55" y="9.1" width="270.95" height="167.1" fill="none" stroke="#000" stroke-width="1.2"/>
<path d="M406.38 176.2v-3.7M406.38 9.1v3.7M468.16 176.2v-3.7M468.16 9.1v3.7M529.94 176.2v-3.7M529.94 9.1v3.7M591.72 176.2v-3.7M591.72 9.1v3.7M387.78 176.2v-1.9M387.78 9.1v1.9M392.67 176.2v-1.9M392.67 9.1v1.9M396.81 176.2v-1.9M396.81 9.1v1.9M400.39 176.2v-1.9M400.39 9.1v1.9M403.55 176.2v-1.9M403.55 9.1v1.9M424.98 176.2v-1.9M424.98 9.1v1.9M435.86 176.2v-1.9M435.86 9.1v1.9M443.58 176.2v-1.9M443.58 9.1v1.9M449.56 176.2v-1.9M449.56 9.1v1.9M454.45 176.2v-1.9M454.45 9.1v1.9M458.59 176.2v-1.9M458.59 9.1v1.9M462.17 176.2v-1.9M462.17 9.1v1.9M465.33 176.2v-1.9M465.33 9.1v1.9M486.76 176.2v-1.9M486.76 9.1v1.9M497.64 176.2v-1.9M497.64 9.1v1.9M505.36 176.2v-1.9M505.36 9.1v1.9M511.34 176.2v-1.9M511.34 9.1v1.9M516.23 176.2v-1.9M516.23 9.1v1.9M520.37 176.2v-1.9M520.37 9.1v1.9M523.95 176.2v-1.9M523.95 9.1v1.9M527.11 176.2v-1.9M527.11 9.1v1.9M548.54 176.2v-1.9M548.54 9.1v1.9M559.42 176.2v-1.9M559.42 9.1v1.9M567.14 176.2v-1.9M567.14 9.1v1.9M573.12 176.2v-1.9M573.12 9.1v1.9M578.01 176.2v-1.9M578.01 9.1v1.9M582.15 176.2v-1.9M582.15 9.1v1.9M585.73 176.2v-1.9M585.73 9.1v1.9M588.89 176.2v-1.9M588.89 9.1v1.9M610.32 176.2v-1.9M610.32 9.1v1.9M621.20 176.2v-1.9M621.20 9.1v1.9M628.92 176.2v-1.9M628.92 9.1v1.9M634.90 176.2v-1.9M634.90 9.1v1.9M639.79 176.2v-1.9M639.79 9.1v1.9M643.93 176.2v-1.9M643.93 9.1v1.9M647.51 176.2v-1.9M647.51 9.1v1.9M650.67 176.2v-1.9M650.67 9.1v1.9M382.55 134.42h3.7M653.5 134.42h-3.7M382.55 92.65h3.7M653.5 92.65h-3.7M382.55 50.88h3.7M653.5 50.88h-3.7M382.55 155.31h1.9M653.5 155.31h-1.9M382.55 113.54h1.9M653.5 113.54h-1.9M382.55 71.76h1.9M653.5 71.76h-1.9M382.55 29.99h1.9M653.5 29.99h-1.9" stroke="#000" stroke-width="1.0" fill="none"/>
<g clip-path="url(#cpc)">
<path d="M382.55 175.50L383.05 175.39L383.55 175.29L384.05 175.19L384.55 175.09L385.05 174.99L385.55 174.90L386.05 174.81L386.55 174.72L387.05 174.64L387.55 174.55L388.05 174.47L388.55 174.39L389.05 174.32L389.55 174.24L390.05 174.17L390.55 174.10L391.05 174.04L391.55 173.97L392.05 173.91L392.55 173.85L393.05 173.79L393.55 173.73L394.05 173.68L394.55 173.63L395.05 173.58L395.55 173.53L396.05 173.48L396.55 173.44L397.05 173.39L397.55 173.35L398.05 173.31L398.55 173.27L399.05 173.24L399.55 173.20L400.05 173.17L400.55 173.14L401.05 173.11L401.55 173.08L402.05 173.05L402.55 173.02L403.05 173.00L403.55 172.98L404.05 172.96L404.55 172.94L405.05 172.92L405.55 172.90L406.05 172.88L406.55 172.87L407.05 172.85L407.55 172.84L408.05 172.83L408.55 172.81L409.05 172.80L409.55 172.79L410.05 172.79L410.55 172.78L411.05 172.77L411.55 172.77L412.05 172.76L412.55 172.76L413.05 172.75L413.55 172.75L414.05 172.75L414.55 172.75L415.05 172.74L415.55 172.74L416.05 172.74L416.55 172.74L417.05 172.75L417.55 172.75L418.05 172.75L418.55 172.75L419.05 172.75L419.55 172.76L420.05 172.76L420.55 172.76L421.05 172.77L421.55 172.77L422.05 172.77L422.55 172.78L423.05 172.78L423.55 172.79L424.05 172.79L424.55 172.79L425.05 172.80L425.55 172.80L426.05 172.80L426.55 172.81L427.05 172.81L427.55 172.81L428.05 172.82L428.55 172.82L429.05 172.82L429.55 172.82L430.05 172.82L430.55 172.82L431.05 172.82L431.55 172.82L432.05 172.82L432.55 172.82L433.05 172.82L433.55 172.82L434.05 172.82L434.55 172.81L435.05 172.81L435.55 172.80L436.05 172.80L436.55 172.79L437.05 172.78L437.55 172.77L438.05 172.76L438.55 172.75L439.05 172.74L439.55 172.73L440.05 172.71L440.55 172.70L441.05 172.68L441.55 172.66L442.05 172.65L442.55 172.63L443.05 172.61L443.55 172.58L444.05 172.56L444.55 172.54L445.05 172.51L445.55 172.48L446.05 172.45L446.55 172.42L447.05 172.39L447.55 172.36L448.05 172.33L448.55 172.29L449.05 172.25L449.55 172.22L450.05 172.18L450.55 172.14L451.05 172.10L451.55 172.06L452.05 172.01L452.55 171.97L453.05 171.92L453.55 171.88L454.05 171.83L454.55 171.78L455.05 171.73L455.55 171.68L456.05 171.63L456.55 171.57L457.05 171.52L457.55 171.46L458.05 171.41L458.55 171.35L459.05 171.29L459.55 171.23L460.05 171.17L460.55 171.11L461.05 171.05L461.55 170.99L462.05 170.92L462.55 170.86L463.05 170.79L463.55 170.72L464.05 170.66L464.55 170.59L465.05 170.52L465.55 170.45L466.05 170.38L466.55 170.30L467.05 170.23L467.55 170.16L468.05 170.08L468.55 170.01L469.05 169.93L469.55 169.85L470.05 169.77L470.55 169.70L471.05 169.62L471.55 169.54L472.05 169.45L472.55 169.37L473.05 169.29L473.55 169.21L474.05 169.12L474.55 169.04L475.05 168.95L475.55 168.87L476.05 168.78L476.55 168.69L477.05 168.60L477.55 168.52L478.05 168.43L478.55 168.34L479.05 168.25L479.55 168.15L480.05 168.06L480.55 167.97L481.05 167.88L481.55 167.78L482.05 167.69L482.55 167.60L483.05 167.50L483.55 167.40L484.05 167.31L484.55 167.21L485.05 167.11L485.55 167.02L486.05 166.92L486.55 166.82L487.05 166.72L487.55 166.62L488.05 166.52L488.55 166.42L489.05 166.32L489.55 166.22L490.05 166.12L490.55 166.02L491.05 165.91L491.55 165.81L492.05 165.71L492.55 165.60L493.05 165.50L493.55 165.40L494.05 165.29L494.55 165.19L495.05 165.08L495.55 164.97L496.05 164.87L496.55 164.76L497.05 164.64L497.55 164.53L498.05 164.41L498.55 164.29L499.05 164.17L499.55 164.04L500.05 163.91L500.55 163.78L501.05 163.64L501.55 163.50L502.05 163.35L502.55 163.20L503.05 163.04L503.55 162.88L504.05 162.71L504.55 162.54L505.05 162.35L505.55 162.17L506.05 161.97L506.55 161.77L507.05 161.56L507.55 161.34L508.05 161.12L508.55 160.88L509.05 160.64L509.55 160.39L510.05 160.13L510.55 159.86L511.05 159.58L511.55 159.29L512.05 158.99L512.55 158.68L513.05 158.36L513.55 158.03L514.05 157.68L514.55 157.33L515.05 156.96L515.55 156.58L516.05 156.19L516.55 155.78L517.05 155.37L517.55 154.94L518.05 154.49L518.55 154.03L519.05 153.56L519.55 153.07L520.05 152.57L520.55 152.05L521.05 151.50L521.55 150.94L522.05 150.36L522.55 149.76L523.05 149.13L523.55 148.48L524.05 147.81L524.55 147.11L525.05 146.39L525.55 145.63L526.05 144.85L526.55 144.04L527.05 143.20L527.55 142.33L528.05 141.43L528.55 140.49L529.05 139.53L529.55 138.54L530.05 137.53L530.55 136.49L531.05 135.42L531.55 134.33L532.05 133.22L532.55 132.09L533.05 130.93L533.55 129.75L534.05 128.56L534.55 127.35L535.05 126.12L535.55 124.87L536.05 123.61L536.55 122.34L537.05 121.05L537.55 119.75L538.05 118.44L538.55 117.12L539.05 115.79L539.55 114.45L540.05 113.10L540.55 111.75L541.05 110.39L541.55 109.02L542.05 107.66L542.55 106.29L543.05 104.91L543.55 103.54L544.05 102.17L544.55 100.80L545.05 99.44L545.55 98.07L546.05 96.71L546.55 95.36L547.05 94.01L547.55 92.68L548.05 91.35L548.55 90.03L549.05 88.72L549.55 87.42L550.05 86.13L550.55 84.86L551.05 83.61L551.55 82.37L552.05 81.15L552.55 79.94L553.05 78.76L553.55 77.59L554.05 76.45L554.55 75.33L555.05 74.23L555.55 73.15L556.05 72.09L556.55 71.06L557.05 70.05L557.55 69.07L558.05 68.11L558.55 67.17L559.05 66.25L559.55 65.36L560.05 64.50L560.55 63.66L561.05 62.84L561.55 62.05L562.05 61.28L562.55 60.54L563.05 59.82L563.55 59.13L564.05 58.47L564.55 57.83L565.05 57.22L565.55 56.63L566.05 56.07L566.55 55.54L567.05 55.04L567.55 54.56L568.05 54.10L568.55 53.68L569.05 53.27L569.55 52.89L570.05 52.54L570.55 52.20L571.05 51.89L571.55 51.60L572.05 51.33L572.55 51.08L573.05 50.85L573.55 50.63L574.05 50.44L574.55 50.26L575.05 50.10L575.55 49.95L576.05 49.82L576.55 49.70L577.05 49.59L577.55 49.50L578.05 49.42L578.55 49.35L579.05 49.29L579.55 49.24L580.05 49.20L580.55 49.18L581.05 49.16L581.55 49.15L582.05 49.14L582.55 49.15L583.05 49.16L583.55 49.18L584.05 49.20L584.55 49.23L585.05 49.27L585.55 49.31L586.05 49.36L586.55 49.40L587.05 49.46L587.55 49.51L588.05 49.57L588.55 49.63L589.05 49.69L589.55 49.75L590.05 49.81L590.55 49.88L591.05 49.94L591.55 50.00L592.05 50.06L592.55 50.12L593.05 50.18L593.55 50.23L594.05 50.28L594.55 50.33L595.05 50.37L595.55 50.41L596.05 50.45L596.55 50.47L597.05 50.50L597.55 50.51L598.05 50.52L598.55 50.52L599.05 50.52L599.55 50.50L600.05 50.48L600.55 50.45L601.05 50.40L601.55 50.35L602.05 50.29L602.55 50.23L603.05 50.15L603.55 50.06L604.05 49.97L604.55 49.86L605.05 49.75L605.55 49.63L606.05 49.50L606.55 49.36L607.05 49.22L607.55 49.06L608.05 48.90L608.55 48.73L609.05 48.55L609.55 48.36L610.05 48.17L610.55 47.97L611.05 47.75L611.55 47.53L612.05 47.31L612.55 47.07L613.05 46.83L613.55 46.58L614.05 46.32L614.55 46.06L615.05 45.78L615.55 45.50L616.05 45.21L616.55 44.92L617.05 44.62L617.55 44.31L618.05 43.99L618.55 43.67L619.05 43.34L619.55 43.00L620.05 42.65L620.55 42.30L621.05 41.94L621.55 41.58L622.05 41.20L622.55 40.83L623.05 40.44L623.55 40.05L624.05 39.65L624.55 39.25L625.05 38.83L625.55 38.42L626.05 37.99L626.55 37.56L627.05 37.13L627.55 36.69L628.05 36.24L628.55 35.78L629.05 35.32L629.55 34.86L630.05 34.39L630.55 33.91L631.05 33.42L631.55 32.94L632.05 32.44L632.55 31.94L633.05 31.44L633.55 30.93L634.05 30.41L634.55 29.89L635.05 29.36L635.55 28.83L636.05 28.29L636.55 27.75L637.05 27.21L637.55 26.65L638.05 26.10L638.55 25.54L639.05 24.97L639.55 24.40L640.05 23.82L640.55 23.24L641.05 22.66L641.55 22.07L642.05 21.47L642.55 20.88L643.05 20.27L643.55 19.67L644.05 19.06L644.55 18.44L645.05 17.82L645.55 17.20L646.05 16.57L646.55 15.94L647.05 15.31L647.55 14.67L648.05 14.02L648.55 13.38L649.05 12.73L649.55 12.07L650.05 11.42L650.55 10.76L651.05 10.09L651.55 9.43L652.05 8.76L652.55 8.08L653.05 7.41L653.50 6.79" fill="none" stroke="#000" stroke-width="1.3" stroke-linejoin="round"/>
<path d="M382.55 175.60L383.05 175.47L383.55 175.35L384.05 175.23L384.55 175.12L385.05 175.01L385.55 174.90L386.05 174.80L386.55 174.70L387.05 174.61L387.55 174.52L388.05 174.43L388.55 174.34L389.05 174.26L389.55 174.19L390.05 174.11L390.55 174.04L391.05 173.97L391.55 173.91L392.05 173.85L392.55 173.79L393.05 173.73L393.55 173.68L394.05 173.63L394.55 173.58L395.05 173.54L395.55 173.49L396.05 173.46L396.55 173.42L397.05 173.38L397.55 173.35L398.05 173.32L398.55 173.29L399.05 173.27L399.55 173.25L400.05 173.22L400.55 173.20L401.05 173.19L401.55 173.17L402.05 173.16L402.55 173.15L403.05 173.14L403.55 173.13L404.05 173.12L404.55 173.11L405.05 173.11L405.55 173.11L406.05 173.10L406.55 173.10L407.05 173.10L407.55 173.11L408.05 173.11L408.55 173.11L409.05 173.12L409.55 173.12L410.05 173.13L410.55 173.14L411.05 173.14L411.55 173.15L412.05 173.16L412.55 173.17L413.05 173.18L413.55 173.19L414.05 173.20L414.55 173.21L415.05 173.22L415.55 173.23L416.05 173.24L416.55 173.25L417.05 173.26L417.55 173.27L418.05 173.28L418.55 173.29L419.05 173.30L419.55 173.31L420.05 173.32L420.55 173.33L421.05 173.33L421.55 173.34L422.05 173.35L422.55 173.35L423.05 173.36L423.55 173.36L424.05 173.36L424.55 173.36L425.05 173.36L425.55 173.36L426.05 173.36L426.55 173.36L427.05 173.35L427.55 173.35L428.05 173.34L428.55 173.33L429.05 173.32L429.55 173.31L430.05 173.30L430.55 173.29L431.05 173.28L431.55 173.26L432.05 173.25L432.55 173.23L433.05 173.22L433.55 173.20L434.05 173.18L434.55 173.16L435.05 173.14L435.55 173.12L436.05 173.10L436.55 173.07L437.05 173.05L437.55 173.03L438.05 173.00L438.55 172.98L439.05 172.95L439.55 172.92L440.05 172.89L440.55 172.87L441.05 172.84L441.55 172.81L442.05 172.78L442.55 172.75L443.05 172.72L443.55 172.68L444.05 172.65L444.55 172.62L445.05 172.59L445.55 172.55L446.05 172.52L446.55 172.49L447.05 172.45L447.55 172.42L448.05 172.38L448.55 172.34L449.05 172.31L449.55 172.27L450.05 172.24L450.55 172.20L451.05 172.16L451.55 172.13L452.05 172.09L452.55 172.05L453.05 172.01L453.55 171.97L454.05 171.94L454.55 171.90L455.05 171.86L455.55 171.82L456.05 171.78L456.55 171.75L457.05 171.71L457.55 171.67L458.05 171.63L458.55 171.59L459.05 171.56L459.55 171.52L460.05 171.48L460.55 171.44L461.05 171.40L461.55 171.37L462.05 171.33L462.55 171.29L463.05 171.25L463.55 171.21L464.05 171.17L464.55 171.13L465.05 171.09L465.55 171.05L466.05 171.01L466.55 170.97L467.05 170.93L467.55 170.88L468.05 170.84L468.55 170.80L469.05 170.75L469.55 170.71L470.05 170.66L470.55 170.61L471.05 170.56L471.55 170.51L472.05 170.46L472.55 170.41L473.05 170.36L473.55 170.31L474.05 170.25L474.55 170.20L475.05 170.14L475.55 170.08L476.05 170.02L476.55 169.96L477.05 169.90L477.55 169.84L478.05 169.77L478.55 169.71L479.05 169.64L479.55 169.57L480.05 169.50L480.55 169.42L481.05 169.35L481.55 169.27L482.05 169.20L482.55 169.12L483.05 169.04L483.55 168.95L484.05 168.87L484.55 168.78L485.05 168.69L485.55 168.60L486.05 168.51L486.55 168.41L487.05 168.31L487.55 168.21L488.05 168.11L488.55 168.01L489.05 167.90L489.55 167.79L490.05 167.68L490.55 167.57L491.05 167.45L491.55 167.33L492.05 167.21L492.55 167.09L493.05 166.96L493.55 166.83L494.05 166.70L494.55 166.57L495.05 166.43L495.55 166.29L496.05 166.15L496.55 166.00L497.05 165.85L497.55 165.70L498.05 165.55L498.55 165.39L499.05 165.23L499.55 165.06L500.05 164.90L500.55 164.73L501.05 164.55L501.55 164.38L502.05 164.20L502.55 164.01L503.05 163.83L503.55 163.64L504.05 163.44L504.55 163.24L505.05 163.04L505.55 162.84L506.05 162.63L506.55 162.42L507.05 162.20L507.55 161.98L508.05 161.76L508.55 161.53L509.05 161.29L509.55 161.04L510.05 160.78L510.55 160.52L511.05 160.24L511.55 159.94L512.05 159.64L512.55 159.31L513.05 158.98L513.55 158.62L514.05 158.25L514.55 157.85L515.05 157.44L515.55 157.00L516.05 156.54L516.55 156.06L517.05 155.55L517.55 155.01L518.05 154.45L518.55 153.86L519.05 153.24L519.55 152.59L520.05 151.90L520.55 151.19L521.05 150.44L521.55 149.65L522.05 148.83L522.55 147.97L523.05 147.07L523.55 146.13L524.05 145.15L524.55 144.13L525.05 143.07L525.55 141.96L526.05 140.81L526.55 139.62L527.05 138.39L527.55 137.12L528.05 135.82L528.55 134.47L529.05 133.09L529.55 131.68L530.05 130.24L530.55 128.76L531.05 127.25L531.55 125.71L532.05 124.14L532.55 122.54L533.05 120.92L533.55 119.27L534.05 117.60L534.55 115.90L535.05 114.18L535.55 112.44L536.05 110.68L536.55 108.90L537.05 107.10L537.55 105.29L538.05 103.46L538.55 101.62L539.05 99.77L539.55 97.91L540.05 96.05L540.55 94.18L541.05 92.31L541.55 90.44L542.05 88.57L542.55 86.70L543.05 84.84L543.55 82.98L544.05 81.14L544.55 79.30L545.05 77.48L545.55 75.67L546.05 73.88L546.55 72.11L547.05 70.35L547.55 68.62L548.05 66.90L548.55 65.21L549.05 63.53L549.55 61.89L550.05 60.26L550.55 58.66L551.05 57.09L551.55 55.55L552.05 54.03L552.55 52.54L553.05 51.08L553.55 49.65L554.05 48.25L554.55 46.89L555.05 45.56L555.55 44.26L556.05 43.00L556.55 41.77L557.05 40.59L557.55 39.44L558.05 38.33L558.55 37.25L559.05 36.22L559.55 35.24L560.05 34.29L560.55 33.39L561.05 32.53L561.55 31.71L562.05 30.94L562.55 30.21L563.05 29.52L563.55 28.87L564.05 28.26L564.55 27.68L565.05 27.15L565.55 26.65L566.05 26.18L566.55 25.75L567.05 25.36L567.55 25.00L568.05 24.67L568.55 24.37L569.05 24.10L569.55 23.86L570.05 23.66L570.55 23.48L571.05 23.32L571.55 23.20L572.05 23.10L572.55 23.02L573.05 22.97L573.55 22.94L574.05 22.94L574.55 22.95L575.05 22.99L575.55 23.05L576.05 23.12L576.55 23.22L577.05 23.33L577.55 23.46L578.05 23.60L578.55 23.76L579.05 23.94L579.55 24.12L580.05 24.32L580.55 24.53L581.05 24.76L581.55 24.99L582.05 25.23L582.55 25.48L583.05 25.74L583.55 26.01L584.05 26.28L584.55 26.56L585.05 26.84L585.55 27.12L586.05 27.41L586.55 27.70L587.05 27.99L587.55 28.28L588.05 28.57L588.55 28.86L589.05 29.15L589.55 29.43L590.05 29.71L590.55 29.99L591.05 30.26L591.55 30.52L592.05 30.78L592.55 31.03L593.05 31.27L593.55 31.50L594.05 31.72L594.55 31.93L595.05 32.13L595.55 32.32L596.05 32.50L596.55 32.67L597.05 32.83L597.55 32.98L598.05 33.12L598.55 33.25L599.05 33.37L599.55 33.48L600.05 33.58L600.55 33.67L601.05 33.76L601.55 33.83L602.05 33.89L602.55 33.94L603.05 33.99L603.55 34.02L604.05 34.05L604.55 34.07L605.05 34.07L605.55 34.07L606.05 34.06L606.55 34.05L607.05 34.02L607.55 33.98L608.05 33.94L608.55 33.88L609.05 33.82L609.55 33.75L610.05 33.67L610.55 33.59L611.05 33.49L611.55 33.39L612.05 33.28L612.55 33.16L613.05 33.03L613.55 32.90L614.05 32.76L614.55 32.61L615.05 32.45L615.55 32.28L616.05 32.11L616.55 31.93L617.05 31.74L617.55 31.55L618.05 31.34L618.55 31.13L619.05 30.92L619.55 30.69L620.05 30.46L620.55 30.22L621.05 29.98L621.55 29.73L622.05 29.47L622.55 29.20L623.05 28.93L623.55 28.65L624.05 28.37L624.55 28.08L625.05 27.78L625.55 27.48L626.05 27.17L626.55 26.85L627.05 26.53L627.55 26.20L628.05 25.87L628.55 25.53L629.05 25.18L629.55 24.83L630.05 24.47L630.55 24.11L631.05 23.74L631.55 23.36L632.05 22.99L632.55 22.60L633.05 22.21L633.55 21.81L634.05 21.41L634.55 21.01L635.05 20.60L635.55 20.18L636.05 19.76L636.55 19.33L637.05 18.90L637.55 18.47L638.05 18.03L638.55 17.58L639.05 17.13L639.55 16.68L640.05 16.22L640.55 15.76L641.05 15.30L641.55 14.82L642.05 14.35L642.55 13.87L643.05 13.39L643.55 12.90L644.05 12.41L644.55 11.92L645.05 11.42L645.55 10.92L646.05 10.41L646.55 9.90L647.05 9.39L647.55 8.87L648.05 8.35L648.55 7.83L649.05 7.31L649.55 6.78L650.05 6.25L650.55 5.71L651.05 5.17L651.55 4.63L652.05 4.09L652.55 3.54L653.05 2.99L653.50 2.50" fill="none" stroke="#ff0000" stroke-width="1.3" stroke-linejoin="round"/>
<path d="M382.55 175.49L383.05 175.40L383.55 175.31L384.05 175.22L384.55 175.13L385.05 175.05L385.55 174.97L386.05 174.89L386.55 174.81L387.05 174.73L387.55 174.66L388.05 174.59L388.55 174.52L389.05 174.45L389.55 174.38L390.05 174.32L390.55 174.25L391.05 174.19L391.55 174.13L392.05 174.07L392.55 174.01L393.05 173.96L393.55 173.90L394.05 173.85L394.55 173.80L395.05 173.75L395.55 173.70L396.05 173.66L396.55 173.61L397.05 173.57L397.55 173.53L398.05 173.49L398.55 173.45L399.05 173.41L399.55 173.37L400.05 173.34L400.55 173.30L401.05 173.27L401.55 173.24L402.05 173.20L402.55 173.17L403.05 173.15L403.55 173.12L404.05 173.09L404.55 173.07L405.05 173.04L405.55 173.02L406.05 173.00L406.55 172.97L407.05 172.95L407.55 172.93L408.05 172.91L408.55 172.90L409.05 172.88L409.55 172.86L410.05 172.85L410.55 172.83L411.05 172.82L411.55 172.80L412.05 172.79L412.55 172.78L413.05 172.77L413.55 172.76L414.05 172.75L414.55 172.74L415.05 172.73L415.55 172.72L416.05 172.71L416.55 172.70L417.05 172.70L417.55 172.69L418.05 172.68L418.55 172.68L419.05 172.67L419.55 172.67L420.05 172.66L420.55 172.66L421.05 172.65L421.55 172.65L422.05 172.64L422.55 172.64L423.05 172.64L423.55 172.63L424.05 172.63L424.55 172.63L425.05 172.62L425.55 172.62L426.05 172.62L426.55 172.61L427.05 172.61L427.55 172.61L428.05 172.60L428.55 172.60L429.05 172.60L429.55 172.59L430.05 172.59L430.55 172.58L431.05 172.58L431.55 172.58L432.05 172.57L432.55 172.57L433.05 172.56L433.55 172.55L434.05 172.55L434.55 172.54L435.05 172.54L435.55 172.53L436.05 172.52L436.55 172.51L437.05 172.50L437.55 172.49L438.05 172.48L438.55 172.47L439.05 172.46L439.55 172.45L440.05 172.44L440.55 172.43L441.05 172.41L441.55 172.40L442.05 172.38L442.55 172.37L443.05 172.35L443.55 172.33L444.05 172.31L444.55 172.29L445.05 172.27L445.55 172.25L446.05 172.23L446.55 172.21L447.05 172.19L447.55 172.16L448.05 172.14L448.55 172.11L449.05 172.08L449.55 172.06L450.05 172.03L450.55 172.00L451.05 171.97L451.55 171.94L452.05 171.90L452.55 171.87L453.05 171.84L453.55 171.80L454.05 171.77L454.55 171.73L455.05 171.69L455.55 171.65L456.05 171.61L456.55 171.57L457.05 171.53L457.55 171.49L458.05 171.44L458.55 171.40L459.05 171.35L459.55 171.31L460.05 171.26L460.55 171.21L461.05 171.16L461.55 171.11L462.05 171.06L462.55 171.00L463.05 170.95L463.55 170.89L464.05 170.84L464.55 170.78L465.05 170.72L465.55 170.66L466.05 170.60L466.55 170.54L467.05 170.48L467.55 170.42L468.05 170.35L468.55 170.29L469.05 170.22L469.55 170.15L470.05 170.08L470.55 170.01L471.05 169.94L471.55 169.87L472.05 169.79L472.55 169.72L473.05 169.64L473.55 169.56L474.05 169.49L474.55 169.41L475.05 169.33L475.55 169.24L476.05 169.16L476.55 169.08L477.05 168.99L477.55 168.90L478.05 168.82L478.55 168.73L479.05 168.64L479.55 168.55L480.05 168.45L480.55 168.36L481.05 168.26L481.55 168.17L482.05 168.07L482.55 167.97L483.05 167.87L483.55 167.77L484.05 167.66L484.55 167.56L485.05 167.45L485.55 167.34L486.05 167.23L486.55 167.12L487.05 167.01L487.55 166.89L488.05 166.78L488.55 166.66L489.05 166.54L489.55 166.42L490.05 166.29L490.55 166.17L491.05 166.04L491.55 165.91L492.05 165.78L492.55 165.65L493.05 165.52L493.55 165.38L494.05 165.24L494.55 165.10L495.05 164.96L495.55 164.81L496.05 164.67L496.55 164.52L497.05 164.37L497.55 164.21L498.05 164.06L498.55 163.90L499.05 163.74L499.55 163.58L500.05 163.41L500.55 163.24L501.05 163.07L501.55 162.90L502.05 162.73L502.55 162.55L503.05 162.37L503.55 162.19L504.05 162.00L504.55 161.81L505.05 161.62L505.55 161.43L506.05 161.24L506.55 161.04L507.05 160.84L507.55 160.63L508.05 160.43L508.55 160.22L509.05 160.00L509.55 159.79L510.05 159.57L510.55 159.35L511.05 159.13L511.55 158.90L512.05 158.67L512.55 158.44L513.05 158.21L513.55 157.97L514.05 157.73L514.55 157.49L515.05 157.24L515.55 156.99L516.05 156.74L516.55 156.49L517.05 156.23L517.55 155.97L518.05 155.71L518.55 155.45L519.05 155.18L519.55 154.91L520.05 154.64L520.55 154.36L521.05 154.08L521.55 153.80L522.05 153.52L522.55 153.23L523.05 152.94L523.55 152.65L524.05 152.36L524.55 152.06L525.05 151.76L525.55 151.46L526.05 151.15L526.55 150.85L527.05 150.54L527.55 150.23L528.05 149.91L528.55 149.59L529.05 149.28L529.55 148.95L530.05 148.63L530.55 148.30L531.05 147.98L531.55 147.65L532.05 147.31L532.55 146.98L533.05 146.64L533.55 146.30L534.05 145.96L534.55 145.61L535.05 145.27L535.55 144.92L536.05 144.57L536.55 144.21L537.05 143.86L537.55 143.50L538.05 143.14L538.55 142.78L539.05 142.42L539.55 142.05L540.05 141.69L540.55 141.32L541.05 140.95L541.55 140.57L542.05 140.20L542.55 139.82L543.05 139.44L543.55 139.06L544.05 138.68L544.55 138.29L545.05 137.91L545.55 137.52L546.05 137.13L546.55 136.74L547.05 136.34L547.55 135.95L548.05 135.55L548.55 135.15L549.05 134.75L549.55 134.35L550.05 133.95L550.55 133.54L551.05 133.13L551.55 132.72L552.05 132.31L552.55 131.90L553.05 131.49L553.55 131.07L554.05 130.66L554.55 130.24L555.05 129.82L555.55 129.40L556.05 128.98L556.55 128.55L557.05 128.13L557.55 127.70L558.05 127.27L558.55 126.84L559.05 126.41L559.55 125.98L560.05 125.54L560.55 125.11L561.05 124.67L561.55 124.23L562.05 123.79L562.55 123.35L563.05 122.91L563.55 122.46L564.05 122.02L564.55 121.57L565.05 121.12L565.55 120.67L566.05 120.22L566.55 119.77L567.05 119.31L567.55 118.86L568.05 118.40L568.55 117.94L569.05 117.49L569.55 117.03L570.05 116.56L570.55 116.10L571.05 115.64L571.55 115.17L572.05 114.71L572.55 114.24L573.05 113.77L573.55 113.30L574.05 112.83L574.55 112.35L575.05 111.88L575.55 111.41L576.05 110.93L576.55 110.45L577.05 109.97L577.55 109.49L578.05 109.01L578.55 108.53L579.05 108.05L579.55 107.56L580.05 107.08L580.55 106.59L581.05 106.10L581.55 105.62L582.05 105.13L582.55 104.64L583.05 104.14L583.55 103.65L584.05 103.15L584.55 102.66L585.05 102.16L585.55 101.66L586.05 101.16L586.55 100.66L587.05 100.16L587.55 99.65L588.05 99.14L588.55 98.64L589.05 98.13L589.55 97.62L590.05 97.10L590.55 96.59L591.05 96.07L591.55 95.55L592.05 95.03L592.55 94.51L593.05 93.99L593.55 93.46L594.05 92.94L594.55 92.41L595.05 91.87L595.55 91.34L596.05 90.81L596.55 90.27L597.05 89.73L597.55 89.19L598.05 88.64L598.55 88.10L599.05 87.55L599.55 87.00L600.05 86.45L600.55 85.89L601.05 85.33L601.55 84.77L602.05 84.21L602.55 83.65L603.05 83.08L603.55 82.51L604.05 81.94L604.55 81.36L605.05 80.79L605.55 80.21L606.05 79.62L606.55 79.04L607.05 78.45L607.55 77.86L608.05 77.27L608.55 76.67L609.05 76.07L609.55 75.47L610.05 74.86L610.55 74.26L611.05 73.65L611.55 73.03L612.05 72.42L612.55 71.80L613.05 71.17L613.55 70.55L614.05 69.92L614.55 69.29L615.05 68.65L615.55 68.01L616.05 67.37L616.55 66.73L617.05 66.08L617.55 65.43L618.05 64.77L618.55 64.11L619.05 63.45L619.55 62.79L620.05 62.12L620.55 61.45L621.05 60.77L621.55 60.09L622.05 59.41L622.55 58.72L623.05 58.03L623.55 57.34L624.05 56.64L624.55 55.94L625.05 55.23L625.55 54.52L626.05 53.81L626.55 53.09L627.05 52.37L627.55 51.65L628.05 50.92L628.55 50.19L629.05 49.45L629.55 48.71L630.05 47.97L630.55 47.22L631.05 46.46L631.55 45.71L632.05 44.94L632.55 44.18L633.05 43.41L633.55 42.64L634.05 41.86L634.55 41.07L635.05 40.29L635.55 39.49L636.05 38.70L636.55 37.90L637.05 37.09L637.55 36.28L638.05 35.47L638.55 34.65L639.05 33.83L639.55 33.00L640.05 32.17L640.55 31.33L641.05 30.49L641.55 29.64L642.05 28.79L642.55 27.93L643.05 27.07L643.55 26.20L644.05 25.33L644.55 24.46L645.05 23.58L645.55 22.69L646.05 21.80L646.55 20.90L647.05 20.00L647.55 19.09L648.05 18.18L648.55 17.27L649.05 16.34L649.55 15.42L650.05 14.48L650.55 13.55L651.05 12.60L651.55 11.65L652.05 10.70L652.55 9.74L653.05 8.78L653.50 7.90" fill="none" stroke="#008000" stroke-width="1.05" stroke-linejoin="round" stroke-dasharray="5.7 4.7"/>
<path d="M382.55 175.39L383.05 175.28L383.55 175.16L384.05 175.05L384.55 174.95L385.05 174.84L385.55 174.74L386.05 174.64L386.55 174.55L387.05 174.45L387.55 174.36L388.05 174.27L388.55 174.19L389.05 174.10L389.55 174.02L390.05 173.94L390.55 173.87L391.05 173.80L391.55 173.73L392.05 173.66L392.55 173.59L393.05 173.53L393.55 173.46L394.05 173.41L394.55 173.35L395.05 173.29L395.55 173.24L396.05 173.19L396.55 173.14L397.05 173.09L397.55 173.05L398.05 173.00L398.55 172.96L399.05 172.92L399.55 172.89L400.05 172.85L400.55 172.82L401.05 172.78L401.55 172.75L402.05 172.72L402.55 172.70L403.05 172.67L403.55 172.64L404.05 172.62L404.55 172.60L405.05 172.58L405.55 172.56L406.05 172.54L406.55 172.53L407.05 172.51L407.55 172.50L408.05 172.48L408.55 172.47L409.05 172.46L409.55 172.45L410.05 172.44L410.55 172.43L411.05 172.43L411.55 172.42L412.05 172.42L412.55 172.41L413.05 172.41L413.55 172.41L414.05 172.41L414.55 172.40L415.05 172.40L415.55 172.40L416.05 172.40L416.55 172.41L417.05 172.41L417.55 172.41L418.05 172.41L418.55 172.42L419.05 172.42L419.55 172.42L420.05 172.43L420.55 172.43L421.05 172.44L421.55 172.44L422.05 172.44L422.55 172.45L423.05 172.45L423.55 172.46L424.05 172.46L424.55 172.47L425.05 172.47L425.55 172.48L426.05 172.48L426.55 172.49L427.05 172.49L427.55 172.49L428.05 172.50L428.55 172.50L429.05 172.50L429.55 172.51L430.05 172.51L430.55 172.51L431.05 172.51L431.55 172.51L432.05 172.51L432.55 172.51L433.05 172.51L433.55 172.50L434.05 172.50L434.55 172.50L435.05 172.49L435.55 172.49L436.05 172.48L436.55 172.47L437.05 172.46L437.55 172.45L438.05 172.44L438.55 172.43L439.05 172.42L439.55 172.40L440.05 172.39L440.55 172.37L441.05 172.35L441.55 172.34L442.05 172.32L442.55 172.29L443.05 172.27L443.55 172.25L444.05 172.22L444.55 172.19L445.05 172.16L445.55 172.13L446.05 172.10L446.55 172.07L447.05 172.03L447.55 172.00L448.05 171.96L448.55 171.92L449.05 171.88L449.55 171.84L450.05 171.80L450.55 171.75L451.05 171.71L451.55 171.66L452.05 171.61L452.55 171.56L453.05 171.51L453.55 171.46L454.05 171.41L454.55 171.35L455.05 171.30L455.55 171.24L456.05 171.18L456.55 171.12L457.05 171.06L457.55 171.00L458.05 170.94L458.55 170.87L459.05 170.81L459.55 170.74L460.05 170.68L460.55 170.61L461.05 170.54L461.55 170.47L462.05 170.40L462.55 170.33L463.05 170.25L463.55 170.18L464.05 170.10L464.55 170.03L465.05 169.95L465.55 169.87L466.05 169.79L466.55 169.71L467.05 169.63L467.55 169.55L468.05 169.46L468.55 169.38L469.05 169.29L469.55 169.21L470.05 169.12L470.55 169.03L471.05 168.95L471.55 168.86L472.05 168.77L472.55 168.68L473.05 168.58L473.55 168.49L474.05 168.40L474.55 168.30L475.05 168.21L475.55 168.11L476.05 168.02L476.55 167.92L477.05 167.82L477.55 167.72L478.05 167.62L478.55 167.53L479.05 167.42L479.55 167.32L480.05 167.22L480.55 167.12L481.05 167.02L481.55 166.91L482.05 166.81L482.55 166.70L483.05 166.60L483.55 166.49L484.05 166.39L484.55 166.28L485.05 166.17L485.55 166.06L486.05 165.96L486.55 165.85L487.05 165.74L487.55 165.63L488.05 165.52L488.55 165.41L489.05 165.29L489.55 165.18L490.05 165.07L490.55 164.96L491.05 164.84L491.55 164.73L492.05 164.62L492.55 164.50L493.05 164.39L493.55 164.27L494.05 164.16L494.55 164.04L495.05 163.93L495.55 163.81L496.05 163.69L496.55 163.57L497.05 163.45L497.55 163.33L498.05 163.20L498.55 163.07L499.05 162.94L499.55 162.81L500.05 162.68L500.55 162.54L501.05 162.40L501.55 162.25L502.05 162.10L502.55 161.95L503.05 161.79L503.55 161.63L504.05 161.47L504.55 161.30L505.05 161.12L505.55 160.94L506.05 160.76L506.55 160.56L507.05 160.37L507.55 160.17L508.05 159.96L508.55 159.74L509.05 159.52L509.55 159.29L510.05 159.06L510.55 158.81L511.05 158.56L511.55 158.31L512.05 158.04L512.55 157.77L513.05 157.49L513.55 157.20L514.05 156.90L514.55 156.59L515.05 156.27L515.55 155.95L516.05 155.61L516.55 155.27L517.05 154.91L517.55 154.55L518.05 154.17L518.55 153.79L519.05 153.39L519.55 152.98L520.05 152.56L520.55 152.12L521.05 151.67L521.55 151.21L522.05 150.73L522.55 150.23L523.05 149.71L523.55 149.17L524.05 148.62L524.55 148.04L525.05 147.45L525.55 146.83L526.05 146.18L526.55 145.52L527.05 144.83L527.55 144.11L528.05 143.37L528.55 142.60L529.05 141.81L529.55 140.98L530.05 140.14L530.55 139.27L531.05 138.37L531.55 137.46L532.05 136.52L532.55 135.56L533.05 134.58L533.55 133.58L534.05 132.56L534.55 131.53L535.05 130.48L535.55 129.41L536.05 128.33L536.55 127.24L537.05 126.13L537.55 125.01L538.05 123.87L538.55 122.73L539.05 121.58L539.55 120.42L540.05 119.25L540.55 118.07L541.05 116.89L541.55 115.70L542.05 114.50L542.55 113.31L543.05 112.10L543.55 110.90L544.05 109.70L544.55 108.49L545.05 107.29L545.55 106.08L546.05 104.88L546.55 103.68L547.05 102.49L547.55 101.30L548.05 100.12L548.55 98.94L549.05 97.77L549.55 96.60L550.05 95.45L550.55 94.30L551.05 93.17L551.55 92.05L552.05 90.93L552.55 89.84L553.05 88.75L553.55 87.68L554.05 86.63L554.55 85.59L555.05 84.57L555.55 83.57L556.05 82.59L556.55 81.63L557.05 80.68L557.55 79.76L558.05 78.86L558.55 77.99L559.05 77.13L559.55 76.30L560.05 75.49L560.55 74.70L561.05 73.93L561.55 73.18L562.05 72.45L562.55 71.74L563.05 71.06L563.55 70.39L564.05 69.75L564.55 69.12L565.05 68.52L565.55 67.93L566.05 67.37L566.55 66.82L567.05 66.29L567.55 65.79L568.05 65.30L568.55 64.83L569.05 64.38L569.55 63.95L570.05 63.53L570.55 63.14L571.05 62.76L571.55 62.40L572.05 62.06L572.55 61.74L573.05 61.44L573.55 61.15L574.05 60.88L574.55 60.63L575.05 60.39L575.55 60.17L576.05 59.96L576.55 59.77L577.05 59.60L577.55 59.43L578.05 59.29L578.55 59.15L579.05 59.03L579.55 58.92L580.05 58.82L580.55 58.73L581.05 58.65L581.55 58.58L582.05 58.52L582.55 58.48L583.05 58.44L583.55 58.40L584.05 58.38L584.55 58.36L585.05 58.35L585.55 58.34L586.05 58.35L586.55 58.35L587.05 58.36L587.55 58.38L588.05 58.40L588.55 58.42L589.05 58.44L589.55 58.47L590.05 58.50L590.55 58.53L591.05 58.56L591.55 58.59L592.05 58.62L592.55 58.65L593.05 58.68L593.55 58.71L594.05 58.73L594.55 58.76L595.05 58.78L595.55 58.79L596.05 58.81L596.55 58.81L597.05 58.82L597.55 58.81L598.05 58.80L598.55 58.79L599.05 58.77L599.55 58.74L600.05 58.70L600.55 58.65L601.05 58.60L601.55 58.54L602.05 58.46L602.55 58.38L603.05 58.30L603.55 58.20L604.05 58.10L604.55 57.98L605.05 57.86L605.55 57.73L606.05 57.59L606.55 57.45L607.05 57.29L607.55 57.13L608.05 56.96L608.55 56.78L609.05 56.59L609.55 56.40L610.05 56.19L610.55 55.98L611.05 55.76L611.55 55.53L612.05 55.29L612.55 55.05L613.05 54.80L613.55 54.53L614.05 54.26L614.55 53.99L615.05 53.70L615.55 53.41L616.05 53.10L616.55 52.79L617.05 52.47L617.55 52.15L618.05 51.81L618.55 51.47L619.05 51.12L619.55 50.76L620.05 50.39L620.55 50.01L621.05 49.63L621.55 49.24L622.05 48.84L622.55 48.43L623.05 48.01L623.55 47.59L624.05 47.15L624.55 46.71L625.05 46.27L625.55 45.81L626.05 45.34L626.55 44.87L627.05 44.39L627.55 43.90L628.05 43.40L628.55 42.90L629.05 42.39L629.55 41.87L630.05 41.34L630.55 40.80L631.05 40.26L631.55 39.70L632.05 39.14L632.55 38.57L633.05 38.00L633.55 37.41L634.05 36.82L634.55 36.22L635.05 35.61L635.55 35.00L636.05 34.37L636.55 33.74L637.05 33.10L637.55 32.45L638.05 31.80L638.55 31.13L639.05 30.46L639.55 29.78L640.05 29.10L640.55 28.40L641.05 27.70L641.55 26.99L642.05 26.27L642.55 25.54L643.05 24.81L643.55 24.07L644.05 23.32L644.55 22.56L645.05 21.80L645.55 21.02L646.05 20.24L646.55 19.46L647.05 18.66L647.55 17.86L648.05 17.04L648.55 16.22L649.05 15.40L649.55 14.56L650.05 13.72L650.55 12.87L651.05 12.01L651.55 11.15L652.05 10.27L652.55 9.39L653.05 8.50L653.50 7.70" fill="none" stroke="#0000ff" stroke-width="1.3" stroke-linejoin="round"/>
<path d="M654.15 9.1V176.2" stroke="#008000" stroke-width="1.0" stroke-dasharray="5.7 4.7" fill="none"/>
<path d="M382.55 176.64999999999998H653.5" stroke="#008000" stroke-width="0.5" stroke-dasharray="5.7 4.7" fill="none" opacity="0.6"/>
</g>
<g clip-path="url(#cpd)">
<path d="M382.55 362.01L383.05 361.94L383.55 361.87L384.05 361.81L384.55 361.74L385.05 361.68L385.55 361.61L386.05 361.55L386.55 361.49L387.05 361.43L387.55 361.37L388.05 361.32L388.55 361.26L389.05 361.21L389.55 361.16L390.05 361.11L390.55 361.06L391.05 361.01L391.55 360.96L392.05 360.91L392.55 360.87L393.05 360.82L393.55 360.78L394.05 360.73L394.55 360.69L395.05 360.65L395.55 360.61L396.05 360.58L396.55 360.54L397.05 360.50L397.55 360.47L398.05 360.43L398.55 360.40L399.05 360.36L399.55 360.33L400.05 360.30L400.55 360.27L401.05 360.24L401.55 360.21L402.05 360.18L402.55 360.16L403.05 360.13L403.55 360.10L404.05 360.08L404.55 360.05L405.05 360.03L405.55 360.01L406.05 359.98L406.55 359.96L407.05 359.94L407.55 359.92L408.05 359.90L408.55 359.88L409.05 359.86L409.55 359.84L410.05 359.82L410.55 359.81L411.05 359.79L411.55 359.77L412.05 359.76L412.55 359.74L413.05 359.72L413.55 359.71L414.05 359.69L414.55 359.68L415.05 359.66L415.55 359.65L416.05 359.63L416.55 359.62L417.05 359.61L417.55 359.59L418.05 359.58L418.55 359.57L419.05 359.55L419.55 359.54L420.05 359.53L420.55 359.52L421.05 359.50L421.55 359.49L422.05 359.48L422.55 359.47L423.05 359.45L423.55 359.44L424.05 359.43L424.55 359.42L425.05 359.41L425.55 359.39L426.05 359.38L426.55 359.37L427.05 359.35L427.55 359.34L428.05 359.33L428.55 359.31L429.05 359.30L429.55 359.29L430.05 359.27L430.55 359.26L431.05 359.24L431.55 359.23L432.05 359.21L432.55 359.20L433.05 359.18L433.55 359.16L434.05 359.15L434.55 359.13L435.05 359.11L435.55 359.09L436.05 359.07L436.55 359.05L437.05 359.03L437.55 359.01L438.05 358.99L438.55 358.97L439.05 358.95L439.55 358.93L440.05 358.90L440.55 358.88L441.05 358.86L441.55 358.83L442.05 358.81L442.55 358.78L443.05 358.75L443.55 358.72L444.05 358.69L444.55 358.67L445.05 358.63L445.55 358.60L446.05 358.57L446.55 358.54L447.05 358.50L447.55 358.47L448.05 358.43L448.55 358.40L449.05 358.36L449.55 358.32L450.05 358.28L450.55 358.24L451.05 358.20L451.55 358.16L452.05 358.12L452.55 358.07L453.05 358.02L453.55 357.98L454.05 357.93L454.55 357.88L455.05 357.83L455.55 357.78L456.05 357.73L456.55 357.67L457.05 357.62L457.55 357.56L458.05 357.50L458.55 357.45L459.05 357.38L459.55 357.32L460.05 357.26L460.55 357.20L461.05 357.13L461.55 357.06L462.05 357.00L462.55 356.93L463.05 356.85L463.55 356.78L464.05 356.71L464.55 356.63L465.05 356.55L465.55 356.47L466.05 356.39L466.55 356.31L467.05 356.23L467.55 356.14L468.05 356.06L468.55 355.97L469.05 355.88L469.55 355.79L470.05 355.69L470.55 355.60L471.05 355.50L471.55 355.40L472.05 355.30L472.55 355.20L473.05 355.09L473.55 354.99L474.05 354.88L474.55 354.77L475.05 354.66L475.55 354.54L476.05 354.43L476.55 354.31L477.05 354.19L477.55 354.07L478.05 353.95L478.55 353.82L479.05 353.69L479.55 353.56L480.05 353.43L480.55 353.30L481.05 353.16L481.55 353.02L482.05 352.88L482.55 352.74L483.05 352.60L483.55 352.45L484.05 352.30L484.55 352.15L485.05 352.00L485.55 351.85L486.05 351.69L486.55 351.53L487.05 351.37L487.55 351.20L488.05 351.04L488.55 350.87L489.05 350.70L489.55 350.53L490.05 350.36L490.55 350.18L491.05 350.00L491.55 349.82L492.05 349.64L492.55 349.45L493.05 349.27L493.55 349.08L494.05 348.89L494.55 348.69L495.05 348.50L495.55 348.30L496.05 348.10L496.55 347.90L497.05 347.70L497.55 347.49L498.05 347.28L498.55 347.07L499.05 346.86L499.55 346.64L500.05 346.42L500.55 346.21L501.05 345.98L501.55 345.76L502.05 345.53L502.55 345.31L503.05 345.08L503.55 344.84L504.05 344.61L504.55 344.37L505.05 344.13L505.55 343.89L506.05 343.65L506.55 343.40L507.05 343.15L507.55 342.90L508.05 342.65L508.55 342.40L509.05 342.14L509.55 341.88L510.05 341.62L510.55 341.35L511.05 341.09L511.55 340.82L512.05 340.55L512.55 340.28L513.05 340.00L513.55 339.73L514.05 339.45L514.55 339.17L515.05 338.88L515.55 338.60L516.05 338.31L516.55 338.02L517.05 337.72L517.55 337.43L518.05 337.13L518.55 336.83L519.05 336.53L519.55 336.23L520.05 335.92L520.55 335.61L521.05 335.30L521.55 334.99L522.05 334.67L522.55 334.35L523.05 334.03L523.55 333.71L524.05 333.39L524.55 333.06L525.05 332.73L525.55 332.40L526.05 332.06L526.55 331.73L527.05 331.39L527.55 331.05L528.05 330.70L528.55 330.36L529.05 330.01L529.55 329.66L530.05 329.31L530.55 328.95L531.05 328.60L531.55 328.24L532.05 327.87L532.55 327.51L533.05 327.14L533.55 326.77L534.05 326.40L534.55 326.03L535.05 325.65L535.55 325.28L536.05 324.90L536.55 324.51L537.05 324.13L537.55 323.74L538.05 323.35L538.55 322.96L539.05 322.56L539.55 322.17L540.05 321.77L540.55 321.36L541.05 320.96L541.55 320.55L542.05 320.14L542.55 319.73L543.05 319.32L543.55 318.90L544.05 318.48L544.55 318.06L545.05 317.64L545.55 317.21L546.05 316.79L546.55 316.36L547.05 315.92L547.55 315.49L548.05 315.05L548.55 314.61L549.05 314.17L549.55 313.72L550.05 313.28L550.55 312.83L551.05 312.38L551.55 311.93L552.05 311.47L552.55 311.02L553.05 310.56L553.55 310.10L554.05 309.64L554.55 309.18L555.05 308.72L555.55 308.25L556.05 307.79L556.55 307.32L557.05 306.86L557.55 306.39L558.05 305.92L558.55 305.45L559.05 304.98L559.55 304.51L560.05 304.04L560.55 303.57L561.05 303.10L561.55 302.63L562.05 302.16L562.55 301.68L563.05 301.21L563.55 300.74L564.05 300.27L564.55 299.80L565.05 299.33L565.55 298.86L566.05 298.39L566.55 297.92L567.05 297.45L567.55 296.98L568.05 296.52L568.55 296.05L569.05 295.59L569.55 295.12L570.05 294.66L570.55 294.20L571.05 293.74L571.55 293.28L572.05 292.82L572.55 292.36L573.05 291.90L573.55 291.44L574.05 290.98L574.55 290.51L575.05 290.05L575.55 289.59L576.05 289.12L576.55 288.66L577.05 288.19L577.55 287.72L578.05 287.25L578.55 286.77L579.05 286.29L579.55 285.81L580.05 285.33L580.55 284.84L581.05 284.35L581.55 283.86L582.05 283.36L582.55 282.85L583.05 282.35L583.55 281.84L584.05 281.32L584.55 280.80L585.05 280.27L585.55 279.74L586.05 279.20L586.55 278.66L587.05 278.11L587.55 277.57L588.05 277.02L588.55 276.47L589.05 275.91L589.55 275.36L590.05 274.80L590.55 274.25L591.05 273.69L591.55 273.14L592.05 272.58L592.55 272.03L593.05 271.48L593.55 270.94L594.05 270.40L594.55 269.86L595.05 269.33L595.55 268.80L596.05 268.27L596.55 267.76L597.05 267.24L597.55 266.74L598.05 266.24L598.55 265.75L599.05 265.27L599.55 264.80L600.05 264.34L600.55 263.89L601.05 263.44L601.55 263.01L602.05 262.59L602.55 262.18L603.05 261.79L603.55 261.41L604.05 261.04L604.55 260.68L605.05 260.34L605.55 260.01L606.05 259.70L606.55 259.40L607.05 259.11L607.55 258.83L608.05 258.57L608.55 258.31L609.05 258.07L609.55 257.84L610.05 257.61L610.55 257.39L611.05 257.18L611.55 256.98L612.05 256.78L612.55 256.59L613.05 256.41L613.55 256.22L614.05 256.05L614.55 255.87L615.05 255.70L615.55 255.54L616.05 255.37L616.55 255.20L617.05 255.04L617.55 254.87L618.05 254.71L618.55 254.55L619.05 254.39L619.55 254.24L620.05 254.08L620.55 253.93L621.05 253.79L621.55 253.64L622.05 253.50L622.55 253.36L623.05 253.23L623.55 253.09L624.05 252.97L624.55 252.85L625.05 252.73L625.55 252.62L626.05 252.51L626.55 252.40L627.05 252.31L627.55 252.22L628.05 252.13L628.55 252.05L629.05 251.98L629.55 251.91L630.05 251.85L630.55 251.80L631.05 251.75L631.55 251.71L632.05 251.68L632.55 251.66L633.05 251.64L633.55 251.63L634.05 251.64L634.55 251.65L635.05 251.66L635.55 251.69L636.05 251.73L636.55 251.78L637.05 251.83L637.55 251.90L638.05 251.98L638.55 252.06L639.05 252.16L639.55 252.27L640.05 252.39L640.55 252.52L641.05 252.66L641.55 252.81L642.05 252.98L642.55 253.16L643.05 253.35L643.55 253.55L644.05 253.77L644.55 254.00L645.05 254.25L645.55 254.52L646.05 254.80L646.55 255.11L647.05 255.44L647.55 255.79L648.05 256.16L648.55 256.56L649.05 256.99L649.55 257.45L650.05 257.93L650.55 258.45L651.05 259.00L651.55 259.58L652.05 260.20L652.55 260.85L653.05 261.54L653.50 262.19L653.50 362.20L382.55 362.20Z" fill="#cce5cc" stroke="none"/>
</g>
<rect x="382.55" y="195.75" width="270.95" height="166.45" fill="none" stroke="#000" stroke-width="1.2"/>
<path d="M406.38 362.2v-3.7M406.38 195.75v3.7M468.16 362.2v-3.7M468.16 195.75v3.7M529.94 362.2v-3.7M529.94 195.75v3.7M591.72 362.2v-3.7M591.72 195.75v3.7M387.78 362.2v-1.9M387.78 195.75v1.9M392.67 362.2v-1.9M392.67 195.75v1.9M396.81 362.2v-1.9M396.81 195.75v1.9M400.39 362.2v-1.9M400.39 195.75v1.9M403.55 362.2v-1.9M403.55 195.75v1.9M424.98 362.2v-1.9M424.98 195.75v1.9M435.86 362.2v-1.9M435.86 195.75v1.9M443.58 362.2v-1.9M443.58 195.75v1.9M449.56 362.2v-1.9M449.56 195.75v1.9M454.45 362.2v-1.9M454.45 195.75v1.9M458.59 362.2v-1.9M458.59 195.75v1.9M462.17 362.2v-1.9M462.17 195.75v1.9M465.33 362.2v-1.9M465.33 195.75v1.9M486.76 362.2v-1.9M486.76 195.75v1.9M497.64 362.2v-1.9M497.64 195.75v1.9M505.36 362.2v-1.9M505.36 195.75v1.9M511.34 362.2v-1.9M511.34 195.75v1.9M516.23 362.2v-1.9M516.23 195.75v1.9M520.37 362.2v-1.9M520.37 195.75v1.9M523.95 362.2v-1.9M523.95 195.75v1.9M527.11 362.2v-1.9M527.11 195.75v1.9M548.54 362.2v-1.9M548.54 195.75v1.9M559.42 362.2v-1.9M559.42 195.75v1.9M567.14 362.2v-1.9M567.14 195.75v1.9M573.12 362.2v-1.9M573.12 195.75v1.9M578.01 362.2v-1.9M578.01 195.75v1.9M582.15 362.2v-1.9M582.15 195.75v1.9M585.73 362.2v-1.9M585.73 195.75v1.9M588.89 362.2v-1.9M588.89 195.75v1.9M610.32 362.2v-1.9M610.32 195.75v1.9M621.20 362.2v-1.9M621.20 195.75v1.9M628.92 362.2v-1.9M628.92 195.75v1.9M634.90 362.2v-1.9M634.90 195.75v1.9M639.79 362.2v-1.9M639.79 195.75v1.9M643.93 362.2v-1.9M643.93 195.75v1.9M647.51 362.2v-1.9M647.51 195.75v1.9M650.67 362.2v-1.9M650.67 195.75v1.9M382.55 320.59h3.7M653.5 320.59h-3.7M382.55 278.98h3.7M653.5 278.98h-3.7M382.55 237.36h3.7M653.5 237.36h-3.7M382.55 351.80h1.9M653.5 351.80h-1.9M382.55 341.39h1.9M653.5 341.39h-1.9M382.55 330.99h1.9M653.5 330.99h-1.9M382.55 310.18h1.9M653.5 310.18h-1.9M382.55 299.78h1.9M653.5 299.78h-1.9M382.55 289.38h1.9M653.5 289.38h-1.9M382.55 268.57h1.9M653.5 268.57h-1.9M382.55 258.17h1.9M653.5 258.17h-1.9M382.55 247.77h1.9M653.5 247.77h-1.9M382.55 226.96h1.9M653.5 226.96h-1.9M382.55 216.56h1.9M653.5 216.56h-1.9M382.55 206.15h1.9M653.5 206.15h-1.9" stroke="#000" stroke-width="1.0" fill="none"/>
<g clip-path="url(#cpd)">
<path d="M382.55 362.01L383.05 361.94L383.55 361.87L384.05 361.80L384.55 361.74L385.05 361.67L385.55 361.61L386.05 361.55L386.55 361.49L387.05 361.43L387.55 361.37L388.05 361.31L388.55 361.26L389.05 361.20L389.55 361.15L390.05 361.10L390.55 361.05L391.05 361.00L391.55 360.95L392.05 360.90L392.55 360.86L393.05 360.81L393.55 360.77L394.05 360.73L394.55 360.69L395.05 360.65L395.55 360.61L396.05 360.57L396.55 360.53L397.05 360.50L397.55 360.46L398.05 360.43L398.55 360.40L399.05 360.36L399.55 360.33L400.05 360.30L400.55 360.27L401.05 360.25L401.55 360.22L402.05 360.19L402.55 360.16L403.05 360.14L403.55 360.11L404.05 360.09L404.55 360.07L405.05 360.04L405.55 360.02L406.05 360.00L406.55 359.98L407.05 359.96L407.55 359.94L408.05 359.92L408.55 359.90L409.05 359.88L409.55 359.86L410.05 359.85L410.55 359.83L411.05 359.81L411.55 359.80L412.05 359.78L412.55 359.77L413.05 359.75L413.55 359.74L414.05 359.73L414.55 359.71L415.05 359.70L415.55 359.68L416.05 359.67L416.55 359.66L417.05 359.65L417.55 359.63L418.05 359.62L418.55 359.61L419.05 359.60L419.55 359.59L420.05 359.57L420.55 359.56L421.05 359.55L421.55 359.54L422.05 359.53L422.55 359.52L423.05 359.50L423.55 359.49L424.05 359.48L424.55 359.47L425.05 359.46L425.55 359.44L426.05 359.43L426.55 359.42L427.05 359.41L427.55 359.39L428.05 359.38L428.55 359.37L429.05 359.35L429.55 359.34L430.05 359.33L430.55 359.31L431.05 359.30L431.55 359.28L432.05 359.27L432.55 359.25L433.05 359.23L433.55 359.22L434.05 359.20L434.55 359.18L435.05 359.16L435.55 359.15L436.05 359.13L436.55 359.11L437.05 359.09L437.55 359.06L438.05 359.04L438.55 359.02L439.05 359.00L439.55 358.97L440.05 358.95L440.55 358.92L441.05 358.90L441.55 358.87L442.05 358.84L442.55 358.82L443.05 358.79L443.55 358.76L444.05 358.73L444.55 358.69L445.05 358.66L445.55 358.63L446.05 358.59L446.55 358.56L447.05 358.52L447.55 358.49L448.05 358.45L448.55 358.41L449.05 358.37L449.55 358.33L450.05 358.28L450.55 358.24L451.05 358.19L451.55 358.15L452.05 358.10L452.55 358.05L453.05 358.00L453.55 357.95L454.05 357.90L454.55 357.85L455.05 357.79L455.55 357.74L456.05 357.68L456.55 357.62L457.05 357.56L457.55 357.50L458.05 357.44L458.55 357.37L459.05 357.31L459.55 357.24L460.05 357.17L460.55 357.10L461.05 357.03L461.55 356.96L462.05 356.89L462.55 356.81L463.05 356.73L463.55 356.65L464.05 356.57L464.55 356.49L465.05 356.40L465.55 356.32L466.05 356.23L466.55 356.14L467.05 356.05L467.55 355.96L468.05 355.86L468.55 355.77L469.05 355.67L469.55 355.57L470.05 355.46L470.55 355.36L471.05 355.25L471.55 355.15L472.05 355.04L472.55 354.92L473.05 354.81L473.55 354.69L474.05 354.58L474.55 354.46L475.05 354.34L475.55 354.21L476.05 354.08L476.55 353.96L477.05 353.83L477.55 353.69L478.05 353.56L478.55 353.42L479.05 353.28L479.55 353.14L480.05 353.00L480.55 352.85L481.05 352.70L481.55 352.55L482.05 352.40L482.55 352.25L483.05 352.09L483.55 351.93L484.05 351.77L484.55 351.61L485.05 351.44L485.55 351.27L486.05 351.11L486.55 350.94L487.05 350.76L487.55 350.59L488.05 350.42L488.55 350.24L489.05 350.06L489.55 349.88L490.05 349.70L490.55 349.52L491.05 349.33L491.55 349.15L492.05 348.96L492.55 348.77L493.05 348.58L493.55 348.39L494.05 348.20L494.55 348.01L495.05 347.81L495.55 347.62L496.05 347.42L496.55 347.22L497.05 347.03L497.55 346.83L498.05 346.63L498.55 346.43L499.05 346.23L499.55 346.02L500.05 345.82L500.55 345.62L501.05 345.41L501.55 345.21L502.05 345.00L502.55 344.80L503.05 344.59L503.55 344.39L504.05 344.18L504.55 343.97L505.05 343.76L505.55 343.55L506.05 343.33L506.55 343.11L507.05 342.89L507.55 342.67L508.05 342.44L508.55 342.21L509.05 341.98L509.55 341.74L510.05 341.49L510.55 341.24L511.05 340.99L511.55 340.73L512.05 340.47L512.55 340.19L513.05 339.92L513.55 339.63L514.05 339.34L514.55 339.04L515.05 338.73L515.55 338.42L516.05 338.10L516.55 337.77L517.05 337.43L517.55 337.08L518.05 336.72L518.55 336.35L519.05 335.97L519.55 335.58L520.05 335.19L520.55 334.78L521.05 334.36L521.55 333.92L522.05 333.48L522.55 333.02L523.05 332.56L523.55 332.08L524.05 331.58L524.55 331.08L525.05 330.56L525.55 330.02L526.05 329.47L526.55 328.91L527.05 328.34L527.55 327.75L528.05 327.15L528.55 326.54L529.05 325.91L529.55 325.28L530.05 324.62L530.55 323.96L531.05 323.28L531.55 322.60L532.05 321.90L532.55 321.18L533.05 320.46L533.55 319.72L534.05 318.97L534.55 318.21L535.05 317.44L535.55 316.66L536.05 315.86L536.55 315.06L537.05 314.25L537.55 313.42L538.05 312.59L538.55 311.76L539.05 310.91L539.55 310.06L540.05 309.20L540.55 308.34L541.05 307.48L541.55 306.61L542.05 305.73L542.55 304.86L543.05 303.98L543.55 303.10L544.05 302.22L544.55 301.34L545.05 300.46L545.55 299.58L546.05 298.71L546.55 297.83L547.05 296.95L547.55 296.08L548.05 295.20L548.55 294.33L549.05 293.47L549.55 292.60L550.05 291.75L550.55 290.89L551.05 290.04L551.55 289.20L552.05 288.36L552.55 287.52L553.05 286.70L553.55 285.88L554.05 285.06L554.55 284.26L555.05 283.46L555.55 282.67L556.05 281.89L556.55 281.12L557.05 280.36L557.55 279.61L558.05 278.87L558.55 278.14L559.05 277.43L559.55 276.72L560.05 276.03L560.55 275.34L561.05 274.68L561.55 274.02L562.05 273.37L562.55 272.74L563.05 272.12L563.55 271.51L564.05 270.91L564.55 270.32L565.05 269.75L565.55 269.18L566.05 268.63L566.55 268.08L567.05 267.55L567.55 267.02L568.05 266.51L568.55 266.00L569.05 265.51L569.55 265.02L570.05 264.55L570.55 264.08L571.05 263.62L571.55 263.17L572.05 262.73L572.55 262.30L573.05 261.87L573.55 261.46L574.05 261.05L574.55 260.65L575.05 260.25L575.55 259.87L576.05 259.49L576.55 259.12L577.05 258.75L577.55 258.40L578.05 258.05L578.55 257.71L579.05 257.37L579.55 257.04L580.05 256.72L580.55 256.41L581.05 256.10L581.55 255.80L582.05 255.50L582.55 255.22L583.05 254.93L583.55 254.66L584.05 254.39L584.55 254.12L585.05 253.87L585.55 253.61L586.05 253.37L586.55 253.13L587.05 252.89L587.55 252.66L588.05 252.44L588.55 252.22L589.05 252.01L589.55 251.80L590.05 251.59L590.55 251.40L591.05 251.20L591.55 251.01L592.05 250.83L592.55 250.65L593.05 250.48L593.55 250.31L594.05 250.14L594.55 249.98L595.05 249.82L595.55 249.67L596.05 249.52L596.55 249.37L597.05 249.23L597.55 249.09L598.05 248.96L598.55 248.83L599.05 248.70L599.55 248.58L600.05 248.46L600.55 248.34L601.05 248.23L601.55 248.12L602.05 248.01L602.55 247.90L603.05 247.80L603.55 247.70L604.05 247.61L604.55 247.51L605.05 247.42L605.55 247.33L606.05 247.24L606.55 247.16L607.05 247.08L607.55 247.00L608.05 246.92L608.55 246.85L609.05 246.78L609.55 246.71L610.05 246.65L610.55 246.58L611.05 246.53L611.55 246.47L612.05 246.42L612.55 246.37L613.05 246.32L613.55 246.28L614.05 246.24L614.55 246.21L615.05 246.18L615.55 246.15L616.05 246.12L616.55 246.10L617.05 246.09L617.55 246.07L618.05 246.07L618.55 246.06L619.05 246.06L619.55 246.06L620.05 246.07L620.55 246.08L621.05 246.10L621.55 246.12L622.05 246.14L622.55 246.17L623.05 246.20L623.55 246.24L624.05 246.29L624.55 246.33L625.05 246.38L625.55 246.44L626.05 246.50L626.55 246.57L627.05 246.64L627.55 246.72L628.05 246.80L628.55 246.89L629.05 246.98L629.55 247.08L630.05 247.18L630.55 247.29L631.05 247.40L631.55 247.52L632.05 247.65L632.55 247.78L633.05 247.91L633.55 248.06L634.05 248.20L634.55 248.36L635.05 248.52L635.55 248.68L636.05 248.85L636.55 249.03L637.05 249.22L637.55 249.41L638.05 249.60L638.55 249.81L639.05 250.02L639.55 250.23L640.05 250.45L640.55 250.68L641.05 250.92L641.55 251.16L642.05 251.41L642.55 251.66L643.05 251.93L643.55 252.20L644.05 252.47L644.55 252.76L645.05 253.05L645.55 253.35L646.05 253.65L646.55 253.96L647.05 254.28L647.55 254.61L648.05 254.95L648.55 255.29L649.05 255.64L649.55 256.00L650.05 256.36L650.55 256.73L651.05 257.11L651.55 257.50L652.05 257.90L652.55 258.30L653.05 258.72L653.50 259.10" fill="none" stroke="#000" stroke-width="1.3" stroke-linejoin="round"/>
<path d="M382.55 362.01L383.05 361.93L383.55 361.84L384.05 361.76L384.55 361.68L385.05 361.60L385.55 361.52L386.05 361.45L386.55 361.37L387.05 361.30L387.55 361.23L388.05 361.16L388.55 361.09L389.05 361.03L389.55 360.97L390.05 360.90L390.55 360.84L391.05 360.78L391.55 360.72L392.05 360.67L392.55 360.61L393.05 360.56L393.55 360.51L394.05 360.46L394.55 360.41L395.05 360.36L395.55 360.31L396.05 360.27L396.55 360.22L397.05 360.18L397.55 360.14L398.05 360.10L398.55 360.06L399.05 360.02L399.55 359.98L400.05 359.94L400.55 359.91L401.05 359.87L401.55 359.84L402.05 359.81L402.55 359.77L403.05 359.74L403.55 359.71L404.05 359.69L404.55 359.66L405.05 359.63L405.55 359.60L406.05 359.58L406.55 359.55L407.05 359.53L407.55 359.51L408.05 359.48L408.55 359.46L409.05 359.44L409.55 359.42L410.05 359.40L410.55 359.38L411.05 359.36L411.55 359.34L412.05 359.32L412.55 359.30L413.05 359.29L413.55 359.27L414.05 359.25L414.55 359.24L415.05 359.22L415.55 359.21L416.05 359.19L416.55 359.17L417.05 359.16L417.55 359.15L418.05 359.13L418.55 359.12L419.05 359.10L419.55 359.09L420.05 359.08L420.55 359.06L421.05 359.05L421.55 359.03L422.05 359.02L422.55 359.01L423.05 358.99L423.55 358.98L424.05 358.97L424.55 358.95L425.05 358.94L425.55 358.92L426.05 358.91L426.55 358.89L427.05 358.88L427.55 358.86L428.05 358.85L428.55 358.83L429.05 358.82L429.55 358.80L430.05 358.78L430.55 358.77L431.05 358.75L431.55 358.73L432.05 358.71L432.55 358.69L433.05 358.67L433.55 358.65L434.05 358.63L434.55 358.61L435.05 358.59L435.55 358.57L436.05 358.54L436.55 358.52L437.05 358.50L437.55 358.47L438.05 358.44L438.55 358.42L439.05 358.39L439.55 358.36L440.05 358.33L440.55 358.30L441.05 358.27L441.55 358.24L442.05 358.20L442.55 358.17L443.05 358.14L443.55 358.10L444.05 358.06L444.55 358.02L445.05 357.98L445.55 357.94L446.05 357.90L446.55 357.86L447.05 357.82L447.55 357.77L448.05 357.72L448.55 357.68L449.05 357.63L449.55 357.58L450.05 357.52L450.55 357.47L451.05 357.42L451.55 357.36L452.05 357.30L452.55 357.24L453.05 357.18L453.55 357.12L454.05 357.06L454.55 356.99L455.05 356.93L455.55 356.86L456.05 356.79L456.55 356.72L457.05 356.65L457.55 356.57L458.05 356.49L458.55 356.42L459.05 356.34L459.55 356.25L460.05 356.17L460.55 356.09L461.05 356.00L461.55 355.91L462.05 355.82L462.55 355.72L463.05 355.63L463.55 355.53L464.05 355.43L464.55 355.33L465.05 355.23L465.55 355.12L466.05 355.02L466.55 354.91L467.05 354.80L467.55 354.68L468.05 354.57L468.55 354.45L469.05 354.33L469.55 354.20L470.05 354.08L470.55 353.95L471.05 353.82L471.55 353.69L472.05 353.55L472.55 353.42L473.05 353.28L473.55 353.14L474.05 352.99L474.55 352.84L475.05 352.69L475.55 352.54L476.05 352.39L476.55 352.23L477.05 352.07L477.55 351.91L478.05 351.74L478.55 351.58L479.05 351.40L479.55 351.23L480.05 351.05L480.55 350.88L481.05 350.69L481.55 350.51L482.05 350.32L482.55 350.13L483.05 349.94L483.55 349.74L484.05 349.54L484.55 349.34L485.05 349.14L485.55 348.93L486.05 348.72L486.55 348.50L487.05 348.29L487.55 348.07L488.05 347.84L488.55 347.62L489.05 347.39L489.55 347.15L490.05 346.92L490.55 346.68L491.05 346.44L491.55 346.20L492.05 345.95L492.55 345.70L493.05 345.44L493.55 345.18L494.05 344.92L494.55 344.66L495.05 344.39L495.55 344.12L496.05 343.85L496.55 343.57L497.05 343.29L497.55 343.01L498.05 342.72L498.55 342.43L499.05 342.14L499.55 341.84L500.05 341.54L500.55 341.24L501.05 340.93L501.55 340.62L502.05 340.30L502.55 339.99L503.05 339.67L503.55 339.34L504.05 339.01L504.55 338.68L505.05 338.34L505.55 337.99L506.05 337.64L506.55 337.29L507.05 336.93L507.55 336.56L508.05 336.18L508.55 335.80L509.05 335.41L509.55 335.01L510.05 334.60L510.55 334.19L511.05 333.76L511.55 333.33L512.05 332.89L512.55 332.43L513.05 331.97L513.55 331.49L514.05 331.01L514.55 330.51L515.05 330.00L515.55 329.48L516.05 328.95L516.55 328.40L517.05 327.84L517.55 327.27L518.05 326.68L518.55 326.08L519.05 325.47L519.55 324.84L520.05 324.19L520.55 323.53L521.05 322.86L521.55 322.17L522.05 321.46L522.55 320.73L523.05 319.99L523.55 319.23L524.05 318.46L524.55 317.66L525.05 316.86L525.55 316.03L526.05 315.19L526.55 314.33L527.05 313.46L527.55 312.58L528.05 311.68L528.55 310.76L529.05 309.83L529.55 308.89L530.05 307.93L530.55 306.96L531.05 305.97L531.55 304.98L532.05 303.97L532.55 302.94L533.05 301.91L533.55 300.86L534.05 299.80L534.55 298.73L535.05 297.65L535.55 296.55L536.05 295.45L536.55 294.33L537.05 293.21L537.55 292.07L538.05 290.92L538.55 289.77L539.05 288.60L539.55 287.43L540.05 286.24L540.55 285.05L541.05 283.85L541.55 282.64L542.05 281.42L542.55 280.20L543.05 278.97L543.55 277.73L544.05 276.49L544.55 275.25L545.05 274.00L545.55 272.75L546.05 271.50L546.55 270.25L547.05 269.00L547.55 267.75L548.05 266.51L548.55 265.27L549.05 264.03L549.55 262.80L550.05 261.58L550.55 260.36L551.05 259.16L551.55 257.96L552.05 256.77L552.55 255.59L553.05 254.43L553.55 253.28L554.05 252.14L554.55 251.02L555.05 249.91L555.55 248.82L556.05 247.75L556.55 246.69L557.05 245.66L557.55 244.64L558.05 243.65L558.55 242.68L559.05 241.73L559.55 240.81L560.05 239.91L560.55 239.04L561.05 238.19L561.55 237.37L562.05 236.57L562.55 235.80L563.05 235.05L563.55 234.33L564.05 233.62L564.55 232.94L565.05 232.29L565.55 231.65L566.05 231.04L566.55 230.44L567.05 229.87L567.55 229.31L568.05 228.78L568.55 228.27L569.05 227.77L569.55 227.29L570.05 226.83L570.55 226.39L571.05 225.97L571.55 225.56L572.05 225.17L572.55 224.79L573.05 224.43L573.55 224.08L574.05 223.75L574.55 223.44L575.05 223.13L575.55 222.84L576.05 222.57L576.55 222.30L577.05 222.05L577.55 221.81L578.05 221.58L578.55 221.36L579.05 221.16L579.55 220.96L580.05 220.77L580.55 220.59L581.05 220.42L581.55 220.26L582.05 220.11L582.55 219.96L583.05 219.82L583.55 219.69L584.05 219.57L584.55 219.45L585.05 219.34L585.55 219.24L586.05 219.14L586.55 219.06L587.05 218.97L587.55 218.90L588.05 218.83L588.55 218.77L589.05 218.72L589.55 218.68L590.05 218.64L590.55 218.61L591.05 218.58L591.55 218.56L592.05 218.55L592.55 218.55L593.05 218.55L593.55 218.56L594.05 218.58L594.55 218.60L595.05 218.63L595.55 218.67L596.05 218.72L596.55 218.77L597.05 218.83L597.55 218.89L598.05 218.96L598.55 219.04L599.05 219.13L599.55 219.22L600.05 219.32L600.55 219.43L601.05 219.54L601.55 219.66L602.05 219.78L602.55 219.92L603.05 220.05L603.55 220.20L604.05 220.35L604.55 220.51L605.05 220.68L605.55 220.85L606.05 221.03L606.55 221.21L607.05 221.40L607.55 221.60L608.05 221.81L608.55 222.02L609.05 222.24L609.55 222.46L610.05 222.69L610.55 222.93L611.05 223.17L611.55 223.42L612.05 223.68L612.55 223.94L613.05 224.21L613.55 224.48L614.05 224.76L614.55 225.05L615.05 225.34L615.55 225.64L616.05 225.95L616.55 226.26L617.05 226.58L617.55 226.91L618.05 227.24L618.55 227.57L619.05 227.92L619.55 228.27L620.05 228.62L620.55 228.98L621.05 229.35L621.55 229.73L622.05 230.11L622.55 230.49L623.05 230.88L623.55 231.28L624.05 231.69L624.55 232.10L625.05 232.51L625.55 232.93L626.05 233.36L626.55 233.80L627.05 234.24L627.55 234.68L628.05 235.13L628.55 235.59L629.05 236.05L629.55 236.52L630.05 237.00L630.55 237.48L631.05 237.96L631.55 238.45L632.05 238.95L632.55 239.46L633.05 239.97L633.55 240.48L634.05 241.00L634.55 241.53L635.05 242.06L635.55 242.60L636.05 243.14L636.55 243.69L637.05 244.24L637.55 244.80L638.05 245.37L638.55 245.94L639.05 246.52L639.55 247.10L640.05 247.69L640.55 248.28L641.05 248.88L641.55 249.48L642.05 250.09L642.55 250.70L643.05 251.33L643.55 251.95L644.05 252.58L644.55 253.22L645.05 253.86L645.55 254.51L646.05 255.16L646.55 255.82L647.05 256.48L647.55 257.15L648.05 257.82L648.55 258.50L649.05 259.18L649.55 259.87L650.05 260.57L650.55 261.27L651.05 261.97L651.55 262.68L652.05 263.40L652.55 264.12L653.05 264.84L653.50 265.50" fill="none" stroke="#ff0000" stroke-width="1.3" stroke-linejoin="round"/>
<path d="M382.55 362.01L383.05 361.94L383.55 361.87L384.05 361.81L384.55 361.74L385.05 361.68L385.55 361.61L386.05 361.55L386.55 361.49L387.05 361.43L387.55 361.37L388.05 361.32L388.55 361.26L389.05 361.21L389.55 361.16L390.05 361.11L390.55 361.06L391.05 361.01L391.55 360.96L392.05 360.91L392.55 360.87L393.05 360.82L393.55 360.78L394.05 360.73L394.55 360.69L395.05 360.65L395.55 360.61L396.05 360.58L396.55 360.54L397.05 360.50L397.55 360.47L398.05 360.43L398.55 360.40L399.05 360.36L399.55 360.33L400.05 360.30L400.55 360.27L401.05 360.24L401.55 360.21L402.05 360.18L402.55 360.16L403.05 360.13L403.55 360.10L404.05 360.08L404.55 360.05L405.05 360.03L405.55 360.01L406.05 359.98L406.55 359.96L407.05 359.94L407.55 359.92L408.05 359.90L408.55 359.88L409.05 359.86L409.55 359.84L410.05 359.82L410.55 359.81L411.05 359.79L411.55 359.77L412.05 359.76L412.55 359.74L413.05 359.72L413.55 359.71L414.05 359.69L414.55 359.68L415.05 359.66L415.55 359.65L416.05 359.63L416.55 359.62L417.05 359.61L417.55 359.59L418.05 359.58L418.55 359.57L419.05 359.55L419.55 359.54L420.05 359.53L420.55 359.52L421.05 359.50L421.55 359.49L422.05 359.48L422.55 359.47L423.05 359.45L423.55 359.44L424.05 359.43L424.55 359.42L425.05 359.41L425.55 359.39L426.05 359.38L426.55 359.37L427.05 359.35L427.55 359.34L428.05 359.33L428.55 359.31L429.05 359.30L429.55 359.29L430.05 359.27L430.55 359.26L431.05 359.24L431.55 359.23L432.05 359.21L432.55 359.20L433.05 359.18L433.55 359.16L434.05 359.15L434.55 359.13L435.05 359.11L435.55 359.09L436.05 359.07L436.55 359.05L437.05 359.03L437.55 359.01L438.05 358.99L438.55 358.97L439.05 358.95L439.55 358.93L440.05 358.90L440.55 358.88L441.05 358.86L441.55 358.83L442.05 358.81L442.55 358.78L443.05 358.75L443.55 358.72L444.05 358.69L444.55 358.67L445.05 358.63L445.55 358.60L446.05 358.57L446.55 358.54L447.05 358.50L447.55 358.47L448.05 358.43L448.55 358.40L449.05 358.36L449.55 358.32L450.05 358.28L450.55 358.24L451.05 358.20L451.55 358.16L452.05 358.12L452.55 358.07L453.05 358.02L453.55 357.98L454.05 357.93L454.55 357.88L455.05 357.83L455.55 357.78L456.05 357.73L456.55 357.67L457.05 357.62L457.55 357.56L458.05 357.50L458.55 357.45L459.05 357.38L459.55 357.32L460.05 357.26L460.55 357.20L461.05 357.13L461.55 357.06L462.05 357.00L462.55 356.93L463.05 356.85L463.55 356.78L464.05 356.71L464.55 356.63L465.05 356.55L465.55 356.47L466.05 356.39L466.55 356.31L467.05 356.23L467.55 356.14L468.05 356.06L468.55 355.97L469.05 355.88L469.55 355.79L470.05 355.69L470.55 355.60L471.05 355.50L471.55 355.40L472.05 355.30L472.55 355.20L473.05 355.09L473.55 354.99L474.05 354.88L474.55 354.77L475.05 354.66L475.55 354.54L476.05 354.43L476.55 354.31L477.05 354.19L477.55 354.07L478.05 353.95L478.55 353.82L479.05 353.69L479.55 353.56L480.05 353.43L480.55 353.30L481.05 353.16L481.55 353.02L482.05 352.88L482.55 352.74L483.05 352.60L483.55 352.45L484.05 352.30L484.55 352.15L485.05 352.00L485.55 351.85L486.05 351.69L486.55 351.53L487.05 351.37L487.55 351.20L488.05 351.04L488.55 350.87L489.05 350.70L489.55 350.53L490.05 350.36L490.55 350.18L491.05 350.00L491.55 349.82L492.05 349.64L492.55 349.45L493.05 349.27L493.55 349.08L494.05 348.89L494.55 348.69L495.05 348.50L495.55 348.30L496.05 348.10L496.55 347.90L497.05 347.70L497.55 347.49L498.05 347.28L498.55 347.07L499.05 346.86L499.55 346.64L500.05 346.42L500.55 346.21L501.05 345.98L501.55 345.76L502.05 345.53L502.55 345.31L503.05 345.08L503.55 344.84L504.05 344.61L504.55 344.37L505.05 344.13L505.55 343.89L506.05 343.65L506.55 343.40L507.05 343.15L507.55 342.90L508.05 342.65L508.55 342.40L509.05 342.14L509.55 341.88L510.05 341.62L510.55 341.35L511.05 341.09L511.55 340.82L512.05 340.55L512.55 340.28L513.05 340.00L513.55 339.73L514.05 339.45L514.55 339.17L515.05 338.88L515.55 338.60L516.05 338.31L516.55 338.02L517.05 337.72L517.55 337.43L518.05 337.13L518.55 336.83L519.05 336.53L519.55 336.23L520.05 335.92L520.55 335.61L521.05 335.30L521.55 334.99L522.05 334.67L522.55 334.35L523.05 334.03L523.55 333.71L524.05 333.39L524.55 333.06L525.05 332.73L525.55 332.40L526.05 332.06L526.55 331.73L527.05 331.39L527.55 331.05L528.05 330.70L528.55 330.36L529.05 330.01L529.55 329.66L530.05 329.31L530.55 328.95L531.05 328.60L531.55 328.24L532.05 327.87L532.55 327.51L533.05 327.14L533.55 326.77L534.05 326.40L534.55 326.03L535.05 325.65L535.55 325.28L536.05 324.90L536.55 324.51L537.05 324.13L537.55 323.74L538.05 323.35L538.55 322.96L539.05 322.56L539.55 322.17L540.05 321.77L540.55 321.36L541.05 320.96L541.55 320.55L542.05 320.14L542.55 319.73L543.05 319.32L543.55 318.90L544.05 318.48L544.55 318.06L545.05 317.64L545.55 317.21L546.05 316.79L546.55 316.36L547.05 315.92L547.55 315.49L548.05 315.05L548.55 314.61L549.05 314.17L549.55 313.72L550.05 313.28L550.55 312.83L551.05 312.38L551.55 311.93L552.05 311.47L552.55 311.02L553.05 310.56L553.55 310.10L554.05 309.64L554.55 309.18L555.05 308.72L555.55 308.25L556.05 307.79L556.55 307.32L557.05 306.86L557.55 306.39L558.05 305.92L558.55 305.45L559.05 304.98L559.55 304.51L560.05 304.04L560.55 303.57L561.05 303.10L561.55 302.63L562.05 302.16L562.55 301.68L563.05 301.21L563.55 300.74L564.05 300.27L564.55 299.80L565.05 299.33L565.55 298.86L566.05 298.39L566.55 297.92L567.05 297.45L567.55 296.98L568.05 296.52L568.55 296.05L569.05 295.59L569.55 295.12L570.05 294.66L570.55 294.20L571.05 293.74L571.55 293.28L572.05 292.82L572.55 292.36L573.05 291.90L573.55 291.44L574.05 290.98L574.55 290.51L575.05 290.05L575.55 289.59L576.05 289.12L576.55 288.66L577.05 288.19L577.55 287.72L578.05 287.25L578.55 286.77L579.05 286.29L579.55 285.81L580.05 285.33L580.55 284.84L581.05 284.35L581.55 283.86L582.05 283.36L582.55 282.85L583.05 282.35L583.55 281.84L584.05 281.32L584.55 280.80L585.05 280.27L585.55 279.74L586.05 279.20L586.55 278.66L587.05 278.11L587.55 277.57L588.05 277.02L588.55 276.47L589.05 275.91L589.55 275.36L590.05 274.80L590.55 274.25L591.05 273.69L591.55 273.14L592.05 272.58L592.55 272.03L593.05 271.48L593.55 270.94L594.05 270.40L594.55 269.86L595.05 269.33L595.55 268.80L596.05 268.27L596.55 267.76L597.05 267.24L597.55 266.74L598.05 266.24L598.55 265.75L599.05 265.27L599.55 264.80L600.05 264.34L600.55 263.89L601.05 263.44L601.55 263.01L602.05 262.59L602.55 262.18L603.05 261.79L603.55 261.41L604.05 261.04L604.55 260.68L605.05 260.34L605.55 260.01L606.05 259.70L606.55 259.40L607.05 259.11L607.55 258.83L608.05 258.57L608.55 258.31L609.05 258.07L609.55 257.84L610.05 257.61L610.55 257.39L611.05 257.18L611.55 256.98L612.05 256.78L612.55 256.59L613.05 256.41L613.55 256.22L614.05 256.05L614.55 255.87L615.05 255.70L615.55 255.54L616.05 255.37L616.55 255.20L617.05 255.04L617.55 254.87L618.05 254.71L618.55 254.55L619.05 254.39L619.55 254.24L620.05 254.08L620.55 253.93L621.05 253.79L621.55 253.64L622.05 253.50L622.55 253.36L623.05 253.23L623.55 253.09L624.05 252.97L624.55 252.85L625.05 252.73L625.55 252.62L626.05 252.51L626.55 252.40L627.05 252.31L627.55 252.22L628.05 252.13L628.55 252.05L629.05 251.98L629.55 251.91L630.05 251.85L630.55 251.80L631.05 251.75L631.55 251.71L632.05 251.68L632.55 251.66L633.05 251.64L633.55 251.63L634.05 251.64L634.55 251.65L635.05 251.66L635.55 251.69L636.05 251.73L636.55 251.78L637.05 251.83L637.55 251.90L638.05 251.98L638.55 252.06L639.05 252.16L639.55 252.27L640.05 252.39L640.55 252.52L641.05 252.66L641.55 252.81L642.05 252.98L642.55 253.16L643.05 253.35L643.55 253.55L644.05 253.77L644.55 254.00L645.05 254.25L645.55 254.52L646.05 254.80L646.55 255.11L647.05 255.44L647.55 255.79L648.05 256.16L648.55 256.56L649.05 256.99L649.55 257.45L650.05 257.93L650.55 258.45L651.05 259.00L651.55 259.58L652.05 260.20L652.55 260.85L653.05 261.54L653.50 262.19" fill="none" stroke="#008000" stroke-width="1.05" stroke-linejoin="round" stroke-dasharray="5.7 4.7"/>
<path d="M382.55 362.01L383.05 361.95L383.55 361.89L384.05 361.83L384.55 361.77L385.05 361.72L385.55 361.66L386.05 361.61L386.55 361.55L387.05 361.50L387.55 361.45L388.05 361.40L388.55 361.36L389.05 361.31L389.55 361.26L390.05 361.22L390.55 361.17L391.05 361.13L391.55 361.09L392.05 361.05L392.55 361.01L393.05 360.97L393.55 360.93L394.05 360.90L394.55 360.86L395.05 360.83L395.55 360.79L396.05 360.76L396.55 360.73L397.05 360.70L397.55 360.67L398.05 360.64L398.55 360.61L399.05 360.58L399.55 360.55L400.05 360.53L400.55 360.50L401.05 360.47L401.55 360.45L402.05 360.43L402.55 360.40L403.05 360.38L403.55 360.36L404.05 360.34L404.55 360.32L405.05 360.30L405.55 360.28L406.05 360.26L406.55 360.24L407.05 360.23L407.55 360.21L408.05 360.19L408.55 360.18L409.05 360.16L409.55 360.14L410.05 360.13L410.55 360.11L411.05 360.10L411.55 360.09L412.05 360.07L412.55 360.06L413.05 360.05L413.55 360.04L414.05 360.02L414.55 360.01L415.05 360.00L415.55 359.99L416.05 359.98L416.55 359.97L417.05 359.95L417.55 359.94L418.05 359.93L418.55 359.92L419.05 359.91L419.55 359.90L420.05 359.89L420.55 359.88L421.05 359.87L421.55 359.86L422.05 359.85L422.55 359.84L423.05 359.83L423.55 359.82L424.05 359.81L424.55 359.80L425.05 359.79L425.55 359.78L426.05 359.77L426.55 359.76L427.05 359.75L427.55 359.74L428.05 359.73L428.55 359.71L429.05 359.70L429.55 359.69L430.05 359.68L430.55 359.67L431.05 359.65L431.55 359.64L432.05 359.63L432.55 359.61L433.05 359.60L433.55 359.58L434.05 359.57L434.55 359.55L435.05 359.54L435.55 359.52L436.05 359.50L436.55 359.49L437.05 359.47L437.55 359.45L438.05 359.43L438.55 359.41L439.05 359.39L439.55 359.37L440.05 359.35L440.55 359.33L441.05 359.30L441.55 359.28L442.05 359.26L442.55 359.23L443.05 359.21L443.55 359.18L444.05 359.16L444.55 359.13L445.05 359.10L445.55 359.07L446.05 359.04L446.55 359.01L447.05 358.98L447.55 358.95L448.05 358.91L448.55 358.88L449.05 358.84L449.55 358.81L450.05 358.77L450.55 358.73L451.05 358.69L451.55 358.65L452.05 358.61L452.55 358.57L453.05 358.53L453.55 358.48L454.05 358.44L454.55 358.39L455.05 358.34L455.55 358.30L456.05 358.25L456.55 358.19L457.05 358.14L457.55 358.09L458.05 358.03L458.55 357.98L459.05 357.92L459.55 357.86L460.05 357.80L460.55 357.74L461.05 357.68L461.55 357.62L462.05 357.55L462.55 357.49L463.05 357.42L463.55 357.35L464.05 357.28L464.55 357.21L465.05 357.13L465.55 357.06L466.05 356.98L466.55 356.90L467.05 356.82L467.55 356.74L468.05 356.66L468.55 356.58L469.05 356.49L469.55 356.40L470.05 356.31L470.55 356.22L471.05 356.13L471.55 356.04L472.05 355.94L472.55 355.84L473.05 355.74L473.55 355.64L474.05 355.54L474.55 355.44L475.05 355.33L475.55 355.22L476.05 355.11L476.55 355.00L477.05 354.89L477.55 354.77L478.05 354.65L478.55 354.53L479.05 354.41L479.55 354.29L480.05 354.16L480.55 354.04L481.05 353.91L481.55 353.78L482.05 353.64L482.55 353.51L483.05 353.37L483.55 353.23L484.05 353.09L484.55 352.95L485.05 352.81L485.55 352.66L486.05 352.52L486.55 352.37L487.05 352.22L487.55 352.07L488.05 351.92L488.55 351.77L489.05 351.61L489.55 351.45L490.05 351.30L490.55 351.14L491.05 350.98L491.55 350.82L492.05 350.66L492.55 350.50L493.05 350.33L493.55 350.17L494.05 350.01L494.55 349.84L495.05 349.67L495.55 349.51L496.05 349.34L496.55 349.17L497.05 349.00L497.55 348.83L498.05 348.66L498.55 348.49L499.05 348.32L499.55 348.15L500.05 347.98L500.55 347.81L501.05 347.64L501.55 347.46L502.05 347.29L502.55 347.12L503.05 346.95L503.55 346.77L504.05 346.60L504.55 346.43L505.05 346.25L505.55 346.08L506.05 345.90L506.55 345.72L507.05 345.54L507.55 345.36L508.05 345.17L508.55 344.98L509.05 344.80L509.55 344.60L510.05 344.41L510.55 344.21L511.05 344.01L511.55 343.81L512.05 343.60L512.55 343.39L513.05 343.17L513.55 342.95L514.05 342.73L514.55 342.50L515.05 342.26L515.55 342.02L516.05 341.78L516.55 341.53L517.05 341.28L517.55 341.02L518.05 340.75L518.55 340.48L519.05 340.20L519.55 339.91L520.05 339.62L520.55 339.32L521.05 339.02L521.55 338.70L522.05 338.38L522.55 338.05L523.05 337.72L523.55 337.37L524.05 337.02L524.55 336.66L525.05 336.29L525.55 335.91L526.05 335.53L526.55 335.13L527.05 334.73L527.55 334.31L528.05 333.89L528.55 333.46L529.05 333.02L529.55 332.57L530.05 332.12L530.55 331.65L531.05 331.18L531.55 330.70L532.05 330.21L532.55 329.71L533.05 329.20L533.55 328.68L534.05 328.16L534.55 327.62L535.05 327.08L535.55 326.53L536.05 325.97L536.55 325.40L537.05 324.83L537.55 324.24L538.05 323.65L538.55 323.05L539.05 322.44L539.55 321.82L540.05 321.20L540.55 320.57L541.05 319.93L541.55 319.29L542.05 318.64L542.55 317.99L543.05 317.33L543.55 316.67L544.05 316.00L544.55 315.34L545.05 314.66L545.55 313.99L546.05 313.31L546.55 312.64L547.05 311.96L547.55 311.28L548.05 310.60L548.55 309.92L549.05 309.24L549.55 308.56L550.05 307.88L550.55 307.21L551.05 306.53L551.55 305.86L552.05 305.19L552.55 304.53L553.05 303.87L553.55 303.21L554.05 302.56L554.55 301.92L555.05 301.28L555.55 300.64L556.05 300.01L556.55 299.38L557.05 298.76L557.55 298.15L558.05 297.54L558.55 296.93L559.05 296.33L559.55 295.74L560.05 295.15L560.55 294.56L561.05 293.98L561.55 293.40L562.05 292.83L562.55 292.27L563.05 291.71L563.55 291.15L564.05 290.60L564.55 290.06L565.05 289.51L565.55 288.98L566.05 288.45L566.55 287.92L567.05 287.40L567.55 286.88L568.05 286.37L568.55 285.86L569.05 285.36L569.55 284.86L570.05 284.37L570.55 283.88L571.05 283.39L571.55 282.92L572.05 282.44L572.55 281.97L573.05 281.51L573.55 281.05L574.05 280.59L574.55 280.14L575.05 279.69L575.55 279.25L576.05 278.81L576.55 278.38L577.05 277.95L577.55 277.52L578.05 277.10L578.55 276.69L579.05 276.28L579.55 275.87L580.05 275.47L580.55 275.07L581.05 274.67L581.55 274.28L582.05 273.90L582.55 273.52L583.05 273.14L583.55 272.76L584.05 272.40L584.55 272.03L585.05 271.67L585.55 271.31L586.05 270.96L586.55 270.61L587.05 270.26L587.55 269.92L588.05 269.58L588.55 269.25L589.05 268.92L589.55 268.59L590.05 268.27L590.55 267.95L591.05 267.63L591.55 267.32L592.05 267.02L592.55 266.71L593.05 266.41L593.55 266.11L594.05 265.82L594.55 265.53L595.05 265.24L595.55 264.96L596.05 264.68L596.55 264.41L597.05 264.13L597.55 263.86L598.05 263.60L598.55 263.34L599.05 263.08L599.55 262.82L600.05 262.57L600.55 262.32L601.05 262.08L601.55 261.83L602.05 261.60L602.55 261.36L603.05 261.13L603.55 260.90L604.05 260.67L604.55 260.45L605.05 260.23L605.55 260.02L606.05 259.80L606.55 259.59L607.05 259.39L607.55 259.19L608.05 258.99L608.55 258.79L609.05 258.59L609.55 258.40L610.05 258.22L610.55 258.03L611.05 257.85L611.55 257.67L612.05 257.50L612.55 257.32L613.05 257.15L613.55 256.99L614.05 256.82L614.55 256.66L615.05 256.51L615.55 256.35L616.05 256.20L616.55 256.05L617.05 255.90L617.55 255.76L618.05 255.62L618.55 255.48L619.05 255.35L619.55 255.22L620.05 255.09L620.55 254.96L621.05 254.84L621.55 254.72L622.05 254.60L622.55 254.48L623.05 254.37L623.55 254.26L624.05 254.15L624.55 254.05L625.05 253.94L625.55 253.85L626.05 253.75L626.55 253.65L627.05 253.56L627.55 253.47L628.05 253.39L628.55 253.30L629.05 253.22L629.55 253.14L630.05 253.06L630.55 252.99L631.05 252.92L631.55 252.85L632.05 252.78L632.55 252.72L633.05 252.66L633.55 252.61L634.05 252.56L634.55 252.51L635.05 252.46L635.55 252.42L636.05 252.39L636.55 252.36L637.05 252.33L637.55 252.31L638.05 252.29L638.55 252.27L639.05 252.27L639.55 252.26L640.05 252.27L640.55 252.27L641.05 252.29L641.55 252.30L642.05 252.33L642.55 252.36L643.05 252.40L643.55 252.44L644.05 252.49L644.55 252.54L645.05 252.61L645.55 252.68L646.05 252.75L646.55 252.84L647.05 252.93L647.55 253.02L648.05 253.13L648.55 253.24L649.05 253.36L649.55 253.49L650.05 253.63L650.55 253.77L651.05 253.93L651.55 254.09L652.05 254.26L652.55 254.44L653.05 254.62L653.50 254.80" fill="none" stroke="#0000ff" stroke-width="1.3" stroke-linejoin="round"/>
<path d="M654.15 262.0V362.2" stroke="#008000" stroke-width="1.0" stroke-dasharray="5.7 4.7" fill="none"/>
<path d="M382.55 362.65H653.5" stroke="#008000" stroke-width="0.5" stroke-dasharray="5.7 4.7" fill="none" opacity="0.6"/>
</g>
<text x="40.96" y="188.2" font-size="10.4" text-anchor="middle" fill="#000" letter-spacing="0.32">0</text>
<text x="40.96" y="374.5" font-size="10.4" text-anchor="middle" fill="#000" letter-spacing="0.32">0</text>
<text x="108.86" y="188.2" font-size="10.4" text-anchor="middle" fill="#000" letter-spacing="0.32">5</text>
<text x="108.86" y="374.5" font-size="10.4" text-anchor="middle" fill="#000" letter-spacing="0.32">5</text>
<text x="176.76" y="188.2" font-size="10.4" text-anchor="middle" fill="#000" letter-spacing="0.32">10</text>
<text x="176.76" y="374.5" font-size="10.4" text-anchor="middle" fill="#000" letter-spacing="0.32">10</text>
<text x="244.66" y="188.2" font-size="10.4" text-anchor="middle" fill="#000" letter-spacing="0.32">15</text>
<text x="244.66" y="374.5" font-size="10.4" text-anchor="middle" fill="#000" letter-spacing="0.32">15</text>
<text x="312.56" y="188.2" font-size="10.4" text-anchor="middle" fill="#000" letter-spacing="0.32">20</text>
<text x="312.56" y="374.5" font-size="10.4" text-anchor="middle" fill="#000" letter-spacing="0.32">20</text>
<text x="406.56" y="188.2" font-size="10.4" text-anchor="middle" fill="#000" letter-spacing="0.32">0.01</text>
<text x="406.56" y="374.5" font-size="10.4" text-anchor="middle" fill="#000" letter-spacing="0.32">0.01</text>
<text x="468.36" y="188.2" font-size="10.4" text-anchor="middle" fill="#000" letter-spacing="0.32">0.1</text>
<text x="468.36" y="374.5" font-size="10.4" text-anchor="middle" fill="#000" letter-spacing="0.32">0.1</text>
<text x="530.06" y="188.2" font-size="10.4" text-anchor="middle" fill="#000" letter-spacing="0.32">1</text>
<text x="530.06" y="374.5" font-size="10.4" text-anchor="middle" fill="#000" letter-spacing="0.32">1</text>
<text x="591.86" y="188.2" font-size="10.4" text-anchor="middle" fill="#000" letter-spacing="0.32">10</text>
<text x="591.86" y="374.5" font-size="10.4" text-anchor="middle" fill="#000" letter-spacing="0.32">10</text>
<text x="653.66" y="188.2" font-size="10.4" text-anchor="middle" fill="#000" letter-spacing="0.32">100</text>
<text x="653.66" y="374.5" font-size="10.4" text-anchor="middle" fill="#000" letter-spacing="0.32">100</text>
<text x="37.72" y="179.9" font-size="10.4" text-anchor="end" fill="#000" letter-spacing="0.32">0</text>
<text x="37.72" y="138.1" font-size="10.4" text-anchor="end" fill="#000" letter-spacing="0.32">10</text>
<text x="37.72" y="96.3" font-size="10.4" text-anchor="end" fill="#000" letter-spacing="0.32">20</text>
<text x="37.72" y="54.6" font-size="10.4" text-anchor="end" fill="#000" letter-spacing="0.32">30</text>
<text x="37.72" y="12.8" font-size="10.4" text-anchor="end" fill="#000" letter-spacing="0.32">40</text>
<text x="37.72" y="365.9" font-size="10.4" text-anchor="end" fill="#000" letter-spacing="0.32">0</text>
<text x="37.72" y="335.6" font-size="10.4" text-anchor="end" fill="#000" letter-spacing="0.32">20</text>
<text x="37.72" y="305.4" font-size="10.4" text-anchor="end" fill="#000" letter-spacing="0.32">40</text>
<text x="37.72" y="275.1" font-size="10.4" text-anchor="end" fill="#000" letter-spacing="0.32">60</text>
<text x="37.72" y="244.8" font-size="10.4" text-anchor="end" fill="#000" letter-spacing="0.32">80</text>
<text x="37.72" y="214.6" font-size="10.4" text-anchor="end" fill="#000" letter-spacing="0.32">100</text>
<text x="378.22" y="179.9" font-size="10.4" text-anchor="end" fill="#000" letter-spacing="0.32">0</text>
<text x="378.62" y="138.3" font-size="10.4" text-anchor="end" fill="#000" letter-spacing="0.32">1x10<tspan font-size="6.9" dy="-4.1">-11</tspan></text>
<text x="378.62" y="96.5" font-size="10.4" text-anchor="end" fill="#000" letter-spacing="0.32">2x10<tspan font-size="6.9" dy="-4.1">-11</tspan></text>
<text x="378.62" y="54.8" font-size="10.4" text-anchor="end" fill="#000" letter-spacing="0.32">3x10<tspan font-size="6.9" dy="-4.1">-11</tspan></text>
<text x="378.62" y="13.0" font-size="10.4" text-anchor="end" fill="#000" letter-spacing="0.32">4x10<tspan font-size="6.9" dy="-4.1">-11</tspan></text>
<text x="378.22" y="365.9" font-size="10.4" text-anchor="end" fill="#000" letter-spacing="0.32">0.0</text>
<text x="378.42" y="324.5" font-size="10.4" text-anchor="end" fill="#000" letter-spacing="0.12">5.0x10<tspan font-size="6.9" dy="-4.1">-11</tspan></text>
<text x="378.42" y="282.9" font-size="10.4" text-anchor="end" fill="#000" letter-spacing="0.12">1.0x10<tspan font-size="6.9" dy="-4.1">-10</tspan></text>
<text x="378.42" y="241.3" font-size="10.4" text-anchor="end" fill="#000" letter-spacing="0.12">1.5x10<tspan font-size="6.9" dy="-4.1">-10</tspan></text>
<text x="378.42" y="199.7" font-size="10.4" text-anchor="end" fill="#000" letter-spacing="0.12">2.0x10<tspan font-size="6.9" dy="-4.1">-10</tspan></text>
<text transform="translate(18.2 85) rotate(-90)" font-size="15.5" text-anchor="middle" letter-spacing="0.15">&#963;<tspan font-size="10.5" dy="-6.5">&#946;</tspan><tspan dy="6.5">(E</tspan><tspan font-size="10.5" dy="3.6">coll</tspan><tspan dy="-3.6">) / &#197;</tspan><tspan font-size="10.5" dy="-6.5">2</tspan></text>
<text transform="translate(18.2 275.5) rotate(-90)" font-size="15.5" text-anchor="middle" letter-spacing="0.15">&#963;<tspan font-size="10.5" dy="-6.5">&#946;</tspan><tspan dy="6.5">(E</tspan><tspan font-size="10.5" dy="3.6">coll</tspan><tspan dy="-3.6">) / &#197;</tspan><tspan font-size="10.5" dy="-6.5">2</tspan></text>
<text transform="translate(333.1 88.2) rotate(-90)" font-size="15.5" text-anchor="middle" letter-spacing="0.3">k(T) cm<tspan font-size="10.5" dy="-6.5">3</tspan><tspan dy="6.5">/s</tspan></text>
<text transform="translate(332.2 268.8) rotate(-90)" font-size="15.5" text-anchor="middle" letter-spacing="0.3">k(T) cm<tspan font-size="10.5" dy="-6.5">3</tspan><tspan dy="6.5">/s</tspan></text>
<text x="151.2" y="392.9" font-size="15.5">E<tspan font-size="10.5" dy="3.6">coll</tspan><tspan dy="-3.6"> (K)</tspan></text>
<text x="508.7" y="388.6" font-size="15.5">T(K)</text>
<text x="44.6" y="22.9" font-size="12.7" text-anchor="start" fill="#000" >a)</text>
<text x="44.0" y="43.7" font-size="12.8" text-anchor="start" fill="#000" >j=2</text><path d="M65.30 40.50H77.40M74.71 38.32L77.40 40.50L74.71 42.68" stroke="#000" stroke-width="0.85" fill="none" stroke-linejoin="miter"/><text x="81.7" y="43.7" font-size="12.8" text-anchor="start" fill="#000" >j'=1</text>
<text x="43.9" y="209.0" font-size="12.7" text-anchor="start" fill="#000" >b)</text>
<text x="44.0" y="226.8" font-size="12.8" text-anchor="start" fill="#000" >j=1</text><path d="M65.30 223.60H77.40M74.71 221.42L77.40 223.60L74.71 225.78" stroke="#000" stroke-width="0.85" fill="none" stroke-linejoin="miter"/><text x="81.7" y="226.8" font-size="12.8" text-anchor="start" fill="#000" >j'=0</text>
<text x="384.6" y="22.7" font-size="12.7" text-anchor="start" fill="#000" >c)</text>
<text x="390.5" y="212.1" font-size="12.7" text-anchor="start" fill="#000" >d)</text>
<text x="583.5" y="172.1" font-size="14.8" text-anchor="start" fill="#000" >j=2</text><path d="M608.60 168.40H622.60M619.49 165.88L622.60 168.40L619.49 170.92" stroke="#000" stroke-width="0.92" fill="none" stroke-linejoin="miter"/><text x="628.2" y="172.1" font-size="14.8" text-anchor="start" fill="#000" >j'=1</text>
<text x="582.3" y="357.0" font-size="14.8" text-anchor="start" fill="#000" >j=1</text><path d="M606.90 353.30H621.20M618.09 350.78L621.20 353.30L618.09 355.82" stroke="#000" stroke-width="0.92" fill="none" stroke-linejoin="miter"/><text x="627.2" y="357.0" font-size="14.8" text-anchor="start" fill="#000" >j'=0</text>
<path d="M197.2 24.2H227.0" stroke="#000" stroke-width="1.3" fill="none"/>
<text x="231.3" y="28.6" font-size="12.8" text-anchor="start" fill="#000" >isotropic</text>
<path d="M197.2 42.4H227.0" stroke="#ff0000" stroke-width="1.3" fill="none"/>
<text x="231.3" y="46.8" font-size="12.8" text-anchor="start" fill="#000" >&#946;=0</text>
<path d="M197.2 60.0H227.0" stroke="#0000ff" stroke-width="1.3" fill="none"/>
<text x="231.3" y="64.4" font-size="12.8" text-anchor="start" fill="#000" >&#946;=90&#186;</text>
<path d="M197.2 76.3H224.6" stroke="#008000" stroke-width="1.3" stroke-dasharray="6.6 3.1" fill="none"/>
<text x="231.3" y="80.7" font-size="12.8" text-anchor="start" fill="#000" >no-resonance</text>
<path d="M259.7 63.2H264.5" stroke="#000" stroke-width="0.8" fill="none"/>
</g>
</svg>
</body></html>
